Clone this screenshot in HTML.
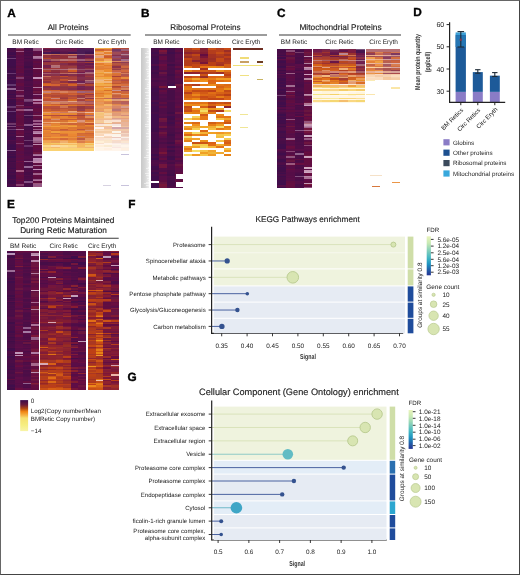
<!DOCTYPE html>
<html><head><meta charset="utf-8"><style>
*{margin:0;padding:0;box-sizing:border-box}
html,body{width:520px;height:575px;overflow:hidden;background:#fff}
body{position:relative;font-family:"Liberation Sans",sans-serif}
svg{position:absolute;left:0;top:0;will-change:transform}
svg text{font-family:"Liberation Sans",sans-serif;text-rendering:geometricPrecision}
.frame{position:absolute;left:0;top:0;width:520px;height:575px;border:1px solid #444;border-left-color:#666;border-top-color:#666}
</style></head><body>
<svg width="520" height="575" viewBox="0 0 520 575" font-family="Liberation Sans, sans-serif"><defs><filter id="hb" x="-2%" y="-2%" width="104%" height="104%"><feGaussianBlur stdDeviation="0.35 0.3"/></filter></defs><g shape-rendering="crispEdges" filter="url(#hb)"><path fill="#410a4b" d="M7.2 48.0h8.6v1.4h-8.6zM7.2 52.2h8.6v1.4h-8.6zM7.2 56.3h8.6v1.4h-8.6zM7.2 59.1h8.6v1.4h-8.6zM7.2 60.5h8.6v1.4h-8.6zM7.2 61.9h8.6v1.4h-8.6zM7.2 63.3h8.6v1.4h-8.6zM7.2 64.7h8.6v1.4h-8.6zM7.2 70.2h8.6v1.4h-8.6zM7.2 71.6h8.6v1.4h-8.6zM7.2 77.2h8.6v1.4h-8.6zM7.2 80.0h8.6v1.4h-8.6zM7.2 81.4h8.6v1.4h-8.6zM7.2 82.8h8.6v1.4h-8.6zM7.2 89.7h8.6v1.4h-8.6zM7.2 96.7h8.6v1.4h-8.6zM7.2 103.6h8.6v1.4h-8.6zM7.2 105.0h8.6v1.4h-8.6zM7.2 111.9h8.6v1.4h-8.6zM7.2 114.7h8.6v1.4h-8.6zM7.2 116.1h8.6v1.4h-8.6zM7.2 118.9h8.6v1.4h-8.6zM7.2 124.4h8.6v1.4h-8.6zM7.2 130.0h8.6v1.4h-8.6zM7.2 132.8h8.6v1.4h-8.6zM7.2 135.6h8.6v1.4h-8.6zM7.2 138.3h8.6v1.4h-8.6zM7.2 143.9h8.6v1.4h-8.6zM7.2 146.7h8.6v1.4h-8.6zM7.2 150.9h8.6v1.4h-8.6zM7.2 153.6h8.6v1.4h-8.6zM7.2 167.5h8.6v1.4h-8.6zM7.2 171.7h8.6v1.4h-8.6zM7.2 177.3h8.6v1.4h-8.6zM7.2 180.0h8.6v1.4h-8.6zM7.2 182.8h8.6v1.4h-8.6zM7.2 185.6h8.6v1.4h-8.6z"/>
<path fill="#460a46" d="M7.2 49.4h8.6v1.4h-8.6zM7.2 67.5h8.6v1.4h-8.6zM7.2 68.8h8.6v1.4h-8.6zM7.2 75.8h8.6v1.4h-8.6zM7.2 86.9h8.6v1.4h-8.6zM7.2 91.1h8.6v1.4h-8.6zM7.2 92.5h8.6v1.4h-8.6zM7.2 95.3h8.6v1.4h-8.6zM7.2 107.8h8.6v1.4h-8.6zM7.2 109.2h8.6v1.4h-8.6zM7.2 121.7h8.6v1.4h-8.6zM7.2 127.2h8.6v1.4h-8.6zM7.2 131.4h8.6v1.4h-8.6zM7.2 134.2h8.6v1.4h-8.6zM7.2 141.1h8.6v1.4h-8.6zM7.2 142.5h8.6v1.4h-8.6zM7.2 152.2h8.6v1.4h-8.6zM7.2 155.0h8.6v1.4h-8.6zM7.2 157.8h8.6v1.4h-8.6zM7.2 159.2h8.6v1.4h-8.6zM7.2 163.4h8.6v1.4h-8.6zM7.2 164.8h8.6v1.4h-8.6zM7.2 166.1h8.6v1.4h-8.6zM7.2 170.3h8.6v1.4h-8.6zM7.2 173.1h8.6v1.4h-8.6zM24.4 48.0h8.6v1.4h-8.6zM24.4 49.4h8.6v1.4h-8.6zM24.4 52.2h8.6v1.4h-8.6zM24.4 55.0h8.6v1.4h-8.6zM24.4 57.7h8.6v1.4h-8.6zM24.4 61.9h8.6v1.4h-8.6zM24.4 63.3h8.6v1.4h-8.6zM24.4 64.7h8.6v1.4h-8.6zM24.4 70.2h8.6v1.4h-8.6zM24.4 71.6h8.6v1.4h-8.6zM24.4 74.4h8.6v1.4h-8.6zM24.4 78.6h8.6v1.4h-8.6zM24.4 80.0h8.6v1.4h-8.6zM24.4 86.9h8.6v1.4h-8.6zM24.4 89.7h8.6v1.4h-8.6zM24.4 95.3h8.6v1.4h-8.6zM24.4 105.0h8.6v1.4h-8.6zM24.4 107.8h8.6v1.4h-8.6zM24.4 113.3h8.6v1.4h-8.6zM24.4 118.9h8.6v1.4h-8.6zM24.4 121.7h8.6v1.4h-8.6zM24.4 127.2h8.6v1.4h-8.6zM24.4 128.6h8.6v1.4h-8.6zM24.4 132.8h8.6v1.4h-8.6zM24.4 135.6h8.6v1.4h-8.6zM24.4 137.0h8.6v1.4h-8.6zM24.4 138.3h8.6v1.4h-8.6zM24.4 141.1h8.6v1.4h-8.6zM24.4 142.5h8.6v1.4h-8.6zM24.4 143.9h8.6v1.4h-8.6zM24.4 163.4h8.6v1.4h-8.6zM24.4 168.9h8.6v1.4h-8.6zM24.4 171.7h8.6v1.4h-8.6zM24.4 173.1h8.6v1.4h-8.6zM24.4 175.9h8.6v1.4h-8.6zM24.4 184.2h8.6v1.4h-8.6zM24.4 185.6h8.6v1.4h-8.6z"/>
<path fill="#4b0f46" d="M7.2 50.8h8.6v1.4h-8.6zM24.4 167.5h8.6v1.4h-8.6z"/>
<path fill="#3c0a4b" d="M7.2 53.6h8.6v1.4h-8.6zM7.2 93.9h8.6v1.4h-8.6zM7.2 100.8h8.6v1.4h-8.6zM7.2 120.3h8.6v1.4h-8.6zM7.2 145.3h8.6v1.4h-8.6zM7.2 148.1h8.6v1.4h-8.6zM7.2 156.4h8.6v1.4h-8.6z"/>
<path fill="#4b0a46" d="M7.2 55.0h8.6v1.4h-8.6zM7.2 78.6h8.6v1.4h-8.6zM7.2 162.0h8.6v1.4h-8.6zM7.2 168.9h8.6v1.4h-8.6zM7.2 178.7h8.6v1.4h-8.6zM7.2 184.2h8.6v1.4h-8.6zM24.4 53.6h8.6v1.4h-8.6zM24.4 60.5h8.6v1.4h-8.6zM24.4 67.5h8.6v1.4h-8.6zM24.4 73.0h8.6v1.4h-8.6zM24.4 77.2h8.6v1.4h-8.6zM24.4 84.1h8.6v1.4h-8.6zM24.4 88.3h8.6v1.4h-8.6zM24.4 91.1h8.6v1.4h-8.6zM24.4 92.5h8.6v1.4h-8.6zM24.4 93.9h8.6v1.4h-8.6zM24.4 96.7h8.6v1.4h-8.6zM24.4 98.0h8.6v1.4h-8.6zM24.4 102.2h8.6v1.4h-8.6zM24.4 117.5h8.6v1.4h-8.6zM24.4 120.3h8.6v1.4h-8.6zM24.4 123.1h8.6v1.4h-8.6zM24.4 130.0h8.6v1.4h-8.6zM24.4 134.2h8.6v1.4h-8.6zM24.4 146.7h8.6v1.4h-8.6zM24.4 148.1h8.6v1.4h-8.6zM24.4 152.2h8.6v1.4h-8.6zM24.4 164.8h8.6v1.4h-8.6zM24.4 177.3h8.6v1.4h-8.6zM24.4 182.8h8.6v1.4h-8.6z"/>
<path fill="#6e3c73" d="M7.2 57.7h8.6v1.4h-8.6z"/>
<path fill="#410a46" d="M7.2 66.1h8.6v1.4h-8.6zM7.2 74.4h8.6v1.4h-8.6zM7.2 85.5h8.6v1.4h-8.6zM7.2 99.4h8.6v1.4h-8.6zM7.2 102.2h8.6v1.4h-8.6zM7.2 113.3h8.6v1.4h-8.6zM7.2 117.5h8.6v1.4h-8.6zM7.2 137.0h8.6v1.4h-8.6zM7.2 160.6h8.6v1.4h-8.6zM7.2 174.5h8.6v1.4h-8.6zM7.2 175.9h8.6v1.4h-8.6zM7.2 181.4h8.6v1.4h-8.6zM24.4 66.1h8.6v1.4h-8.6zM24.4 116.1h8.6v1.4h-8.6zM24.4 125.8h8.6v1.4h-8.6zM24.4 180.0h8.6v1.4h-8.6z"/>
<path fill="#69376e" d="M7.2 73.0h8.6v1.4h-8.6zM7.2 106.4h8.6v1.4h-8.6zM7.2 128.6h8.6v1.4h-8.6z"/>
<path fill="#64376e" d="M7.2 84.1h8.6v1.4h-8.6z"/>
<path fill="#916491" d="M7.2 88.3h8.6v1.4h-8.6zM7.2 149.5h8.6v1.4h-8.6z"/>
<path fill="#550f46" d="M7.2 98.0h8.6v1.4h-8.6zM24.4 85.5h8.6v1.4h-8.6zM24.4 156.4h8.6v1.4h-8.6zM24.4 157.8h8.6v1.4h-8.6z"/>
<path fill="#693c73" d="M7.2 110.5h8.6v1.4h-8.6z"/>
<path fill="#6e3769" d="M7.2 123.1h8.6v1.4h-8.6zM24.4 100.8h8.6v1.4h-8.6z"/>
<path fill="#7d4678" d="M7.2 125.8h8.6v1.4h-8.6zM24.4 99.4h8.6v1.4h-8.6z"/>
<path fill="#500f46" d="M7.2 139.7h8.6v1.4h-8.6zM24.4 50.8h8.6v1.4h-8.6zM24.4 56.3h8.6v1.4h-8.6zM24.4 59.1h8.6v1.4h-8.6zM24.4 68.8h8.6v1.4h-8.6zM24.4 75.8h8.6v1.4h-8.6zM24.4 81.4h8.6v1.4h-8.6zM24.4 82.8h8.6v1.4h-8.6zM24.4 103.6h8.6v1.4h-8.6zM24.4 110.5h8.6v1.4h-8.6zM24.4 111.9h8.6v1.4h-8.6zM24.4 131.4h8.6v1.4h-8.6zM24.4 149.5h8.6v1.4h-8.6zM24.4 150.9h8.6v1.4h-8.6zM24.4 153.6h8.6v1.4h-8.6zM24.4 155.0h8.6v1.4h-8.6zM24.4 159.2h8.6v1.4h-8.6zM24.4 162.0h8.6v1.4h-8.6zM24.4 170.3h8.6v1.4h-8.6zM24.4 174.5h8.6v1.4h-8.6zM24.4 178.7h8.6v1.4h-8.6z"/>
<path fill="#82416e" d="M15.8 48.0h8.6v1.4h-8.6z"/>
<path fill="#691441" d="M15.8 49.4h8.6v1.4h-8.6zM15.8 75.8h8.6v1.4h-8.6zM15.8 106.4h8.6v1.4h-8.6zM15.8 124.4h8.6v1.4h-8.6z"/>
<path fill="#9b5a87" d="M15.8 50.8h8.6v1.4h-8.6zM33.0 120.3h8.6v1.4h-8.6zM33.0 128.6h8.6v1.4h-8.6z"/>
<path fill="#5f0f41" d="M15.8 52.2h8.6v1.4h-8.6zM15.8 53.6h8.6v1.4h-8.6zM15.8 66.1h8.6v1.4h-8.6zM15.8 68.8h8.6v1.4h-8.6zM15.8 70.2h8.6v1.4h-8.6zM15.8 78.6h8.6v1.4h-8.6zM15.8 96.7h8.6v1.4h-8.6zM15.8 99.4h8.6v1.4h-8.6zM15.8 103.6h8.6v1.4h-8.6zM15.8 111.9h8.6v1.4h-8.6zM15.8 117.5h8.6v1.4h-8.6zM15.8 118.9h8.6v1.4h-8.6zM15.8 120.3h8.6v1.4h-8.6zM15.8 121.7h8.6v1.4h-8.6zM15.8 134.2h8.6v1.4h-8.6zM15.8 141.1h8.6v1.4h-8.6zM15.8 148.1h8.6v1.4h-8.6zM15.8 149.5h8.6v1.4h-8.6zM15.8 153.6h8.6v1.4h-8.6zM15.8 157.8h8.6v1.4h-8.6zM15.8 163.4h8.6v1.4h-8.6zM15.8 164.8h8.6v1.4h-8.6zM15.8 166.1h8.6v1.4h-8.6zM15.8 167.5h8.6v1.4h-8.6zM15.8 168.9h8.6v1.4h-8.6zM15.8 177.3h8.6v1.4h-8.6zM33.0 53.6h8.6v1.4h-8.6zM33.0 55.0h8.6v1.4h-8.6zM33.0 60.5h8.6v1.4h-8.6zM33.0 64.7h8.6v1.4h-8.6zM33.0 66.1h8.6v1.4h-8.6zM33.0 70.2h8.6v1.4h-8.6zM33.0 71.6h8.6v1.4h-8.6zM33.0 74.4h8.6v1.4h-8.6zM33.0 75.8h8.6v1.4h-8.6zM33.0 84.1h8.6v1.4h-8.6zM33.0 89.7h8.6v1.4h-8.6zM33.0 92.5h8.6v1.4h-8.6zM33.0 96.7h8.6v1.4h-8.6zM33.0 117.5h8.6v1.4h-8.6zM33.0 127.2h8.6v1.4h-8.6zM33.0 130.0h8.6v1.4h-8.6zM33.0 135.6h8.6v1.4h-8.6zM33.0 142.5h8.6v1.4h-8.6zM33.0 150.9h8.6v1.4h-8.6zM33.0 163.4h8.6v1.4h-8.6zM33.0 171.7h8.6v1.4h-8.6zM33.0 177.3h8.6v1.4h-8.6zM33.0 181.4h8.6v1.4h-8.6z"/>
<path fill="#5a0f46" d="M15.8 55.0h8.6v1.4h-8.6zM15.8 56.3h8.6v1.4h-8.6zM15.8 59.1h8.6v1.4h-8.6zM15.8 61.9h8.6v1.4h-8.6zM15.8 64.7h8.6v1.4h-8.6zM15.8 67.5h8.6v1.4h-8.6zM15.8 73.0h8.6v1.4h-8.6zM15.8 74.4h8.6v1.4h-8.6zM15.8 80.0h8.6v1.4h-8.6zM15.8 81.4h8.6v1.4h-8.6zM15.8 85.5h8.6v1.4h-8.6zM15.8 86.9h8.6v1.4h-8.6zM15.8 88.3h8.6v1.4h-8.6zM15.8 93.9h8.6v1.4h-8.6zM15.8 100.8h8.6v1.4h-8.6zM15.8 107.8h8.6v1.4h-8.6zM15.8 125.8h8.6v1.4h-8.6zM15.8 137.0h8.6v1.4h-8.6zM15.8 139.7h8.6v1.4h-8.6zM15.8 145.3h8.6v1.4h-8.6zM15.8 146.7h8.6v1.4h-8.6zM15.8 150.9h8.6v1.4h-8.6zM15.8 152.2h8.6v1.4h-8.6zM15.8 155.0h8.6v1.4h-8.6zM15.8 156.4h8.6v1.4h-8.6zM15.8 159.2h8.6v1.4h-8.6zM15.8 162.0h8.6v1.4h-8.6zM15.8 178.7h8.6v1.4h-8.6zM15.8 181.4h8.6v1.4h-8.6zM15.8 185.6h8.6v1.4h-8.6zM33.0 52.2h8.6v1.4h-8.6zM33.0 59.1h8.6v1.4h-8.6zM33.0 63.3h8.6v1.4h-8.6zM33.0 73.0h8.6v1.4h-8.6zM33.0 95.3h8.6v1.4h-8.6zM33.0 106.4h8.6v1.4h-8.6zM33.0 111.9h8.6v1.4h-8.6zM33.0 118.9h8.6v1.4h-8.6zM33.0 121.7h8.6v1.4h-8.6zM33.0 124.4h8.6v1.4h-8.6zM33.0 156.4h8.6v1.4h-8.6zM33.0 167.5h8.6v1.4h-8.6zM33.0 170.3h8.6v1.4h-8.6z"/>
<path fill="#5f0f46" d="M15.8 57.7h8.6v1.4h-8.6zM15.8 60.5h8.6v1.4h-8.6zM15.8 63.3h8.6v1.4h-8.6zM15.8 92.5h8.6v1.4h-8.6zM15.8 113.3h8.6v1.4h-8.6zM15.8 130.0h8.6v1.4h-8.6zM15.8 138.3h8.6v1.4h-8.6zM15.8 173.1h8.6v1.4h-8.6zM15.8 182.8h8.6v1.4h-8.6zM24.4 106.4h8.6v1.4h-8.6zM33.0 50.8h8.6v1.4h-8.6zM33.0 81.4h8.6v1.4h-8.6zM33.0 82.8h8.6v1.4h-8.6zM33.0 105.0h8.6v1.4h-8.6zM33.0 148.1h8.6v1.4h-8.6z"/>
<path fill="#640f41" d="M15.8 71.6h8.6v1.4h-8.6zM15.8 82.8h8.6v1.4h-8.6zM15.8 84.1h8.6v1.4h-8.6zM15.8 91.1h8.6v1.4h-8.6zM15.8 102.2h8.6v1.4h-8.6zM15.8 110.5h8.6v1.4h-8.6zM15.8 114.7h8.6v1.4h-8.6zM15.8 116.1h8.6v1.4h-8.6zM15.8 123.1h8.6v1.4h-8.6zM15.8 127.2h8.6v1.4h-8.6zM15.8 131.4h8.6v1.4h-8.6zM15.8 143.9h8.6v1.4h-8.6zM15.8 171.7h8.6v1.4h-8.6zM15.8 174.5h8.6v1.4h-8.6zM15.8 175.9h8.6v1.4h-8.6zM33.0 61.9h8.6v1.4h-8.6zM33.0 68.8h8.6v1.4h-8.6zM33.0 78.6h8.6v1.4h-8.6zM33.0 80.0h8.6v1.4h-8.6zM33.0 85.5h8.6v1.4h-8.6zM33.0 98.0h8.6v1.4h-8.6zM33.0 103.6h8.6v1.4h-8.6zM33.0 107.8h8.6v1.4h-8.6zM33.0 109.2h8.6v1.4h-8.6zM33.0 110.5h8.6v1.4h-8.6zM33.0 113.3h8.6v1.4h-8.6zM33.0 116.1h8.6v1.4h-8.6zM33.0 134.2h8.6v1.4h-8.6zM33.0 145.3h8.6v1.4h-8.6zM33.0 146.7h8.6v1.4h-8.6zM33.0 149.5h8.6v1.4h-8.6zM33.0 166.1h8.6v1.4h-8.6zM33.0 174.5h8.6v1.4h-8.6zM33.0 175.9h8.6v1.4h-8.6z"/>
<path fill="#823c6e" d="M15.8 77.2h8.6v1.4h-8.6zM15.8 95.3h8.6v1.4h-8.6zM15.8 105.0h8.6v1.4h-8.6z"/>
<path fill="#8c4b78" d="M15.8 89.7h8.6v1.4h-8.6z"/>
<path fill="#6e143c" d="M15.8 98.0h8.6v1.4h-8.6z"/>
<path fill="#964b73" d="M15.8 109.2h8.6v1.4h-8.6z"/>
<path fill="#a0648c" d="M15.8 128.6h8.6v1.4h-8.6zM33.0 173.1h8.6v1.4h-8.6z"/>
<path fill="#690f41" d="M15.8 132.8h8.6v1.4h-8.6zM15.8 160.6h8.6v1.4h-8.6zM15.8 180.0h8.6v1.4h-8.6zM33.0 88.3h8.6v1.4h-8.6zM33.0 100.8h8.6v1.4h-8.6z"/>
<path fill="#a56991" d="M15.8 135.6h8.6v1.4h-8.6z"/>
<path fill="#7d3769" d="M15.8 142.5h8.6v1.4h-8.6z"/>
<path fill="#aa6487" d="M15.8 170.3h8.6v1.4h-8.6zM33.0 137.0h8.6v1.4h-8.6z"/>
<path fill="#87416e" d="M15.8 184.2h8.6v1.4h-8.6z"/>
<path fill="#966491" d="M24.4 109.2h8.6v1.4h-8.6zM24.4 160.6h8.6v1.4h-8.6z"/>
<path fill="#6e3c6e" d="M24.4 114.7h8.6v1.4h-8.6zM24.4 139.7h8.6v1.4h-8.6z"/>
<path fill="#8c5587" d="M24.4 124.4h8.6v1.4h-8.6z"/>
<path fill="#693269" d="M24.4 145.3h8.6v1.4h-8.6z"/>
<path fill="#966996" d="M24.4 166.1h8.6v1.4h-8.6z"/>
<path fill="#825082" d="M24.4 181.4h8.6v1.4h-8.6z"/>
<path fill="#965582" d="M33.0 48.0h8.6v1.4h-8.6z"/>
<path fill="#91507d" d="M33.0 49.4h8.6v1.4h-8.6z"/>
<path fill="#af78a0" d="M33.0 56.3h8.6v1.4h-8.6zM33.0 86.9h8.6v1.4h-8.6zM33.0 131.4h8.6v1.4h-8.6zM33.0 155.0h8.6v1.4h-8.6z"/>
<path fill="#a06491" d="M33.0 57.7h8.6v1.4h-8.6zM33.0 93.9h8.6v1.4h-8.6z"/>
<path fill="#b982aa" d="M33.0 67.5h8.6v1.4h-8.6z"/>
<path fill="#c391b9" d="M33.0 77.2h8.6v1.4h-8.6zM33.0 168.9h8.6v1.4h-8.6z"/>
<path fill="#6e1441" d="M33.0 91.1h8.6v1.4h-8.6zM33.0 152.2h8.6v1.4h-8.6z"/>
<path fill="#b987af" d="M33.0 99.4h8.6v1.4h-8.6z"/>
<path fill="#aa6996" d="M33.0 102.2h8.6v1.4h-8.6z"/>
<path fill="#9b5f87" d="M33.0 114.7h8.6v1.4h-8.6z"/>
<path fill="#a05f8c" d="M33.0 123.1h8.6v1.4h-8.6z"/>
<path fill="#c391b4" d="M33.0 125.8h8.6v1.4h-8.6z"/>
<path fill="#be91b4" d="M33.0 132.8h8.6v1.4h-8.6z"/>
<path fill="#af739b" d="M33.0 138.3h8.6v1.4h-8.6zM33.0 180.0h8.6v1.4h-8.6z"/>
<path fill="#a56e96" d="M33.0 139.7h8.6v1.4h-8.6zM33.0 164.8h8.6v1.4h-8.6z"/>
<path fill="#965a82" d="M33.0 141.1h8.6v1.4h-8.6z"/>
<path fill="#be8caf" d="M33.0 143.9h8.6v1.4h-8.6z"/>
<path fill="#a06991" d="M33.0 153.6h8.6v1.4h-8.6z"/>
<path fill="#be8cb4" d="M33.0 157.8h8.6v1.4h-8.6z"/>
<path fill="#b482aa" d="M33.0 159.2h8.6v1.4h-8.6z"/>
<path fill="#be87af" d="M33.0 160.6h8.6v1.4h-8.6z"/>
<path fill="#c38caf" d="M33.0 162.0h8.6v1.4h-8.6z"/>
<path fill="#965a87" d="M33.0 178.7h8.6v1.4h-8.6zM33.0 184.2h8.6v1.4h-8.6z"/>
<path fill="#9b5578" d="M33.0 182.8h8.6v1.4h-8.6z"/>
<path fill="#9b5a82" d="M33.0 185.6h8.6v1.4h-8.6z"/>
<path fill="#7d2341" d="M42.8 48.0h8.5v1.4h-8.5zM68.3 63.3h8.5v1.4h-8.5z"/>
<path fill="#5a144b" d="M42.8 49.4h8.5v1.4h-8.5z"/>
<path fill="#731e46" d="M42.8 50.8h8.5v1.4h-8.5z"/>
<path fill="#461955" d="M42.8 52.2h8.5v1.4h-8.5zM85.4 50.8h8.5v1.4h-8.5z"/>
<path fill="#be786e" d="M42.8 53.6h8.5v1.4h-8.5z"/>
<path fill="#963232" d="M42.8 55.0h8.5v1.4h-8.5zM51.3 57.7h8.5v1.4h-8.5z"/>
<path fill="#913241" d="M42.8 56.3h8.5v1.4h-8.5zM42.8 81.4h8.5v1.4h-8.5zM59.8 64.7h8.5v1.4h-8.5zM59.8 81.4h8.5v1.4h-8.5zM59.8 88.3h8.5v1.4h-8.5zM68.3 86.9h8.5v1.4h-8.5z"/>
<path fill="#b44628" d="M42.8 57.7h8.5v1.4h-8.5z"/>
<path fill="#914664" d="M42.8 59.1h8.5v1.4h-8.5z"/>
<path fill="#69194b" d="M42.8 60.5h8.5v1.4h-8.5zM59.8 48.0h8.5v1.4h-8.5zM68.3 49.4h8.5v1.4h-8.5z"/>
<path fill="#96323c" d="M42.8 61.9h8.5v1.4h-8.5z"/>
<path fill="#96373c" d="M42.8 63.3h8.5v1.4h-8.5zM42.8 88.3h8.5v1.4h-8.5z"/>
<path fill="#732350" d="M42.8 64.7h8.5v1.4h-8.5zM76.9 85.5h8.5v1.4h-8.5zM76.9 88.3h8.5v1.4h-8.5z"/>
<path fill="#78234b" d="M42.8 66.1h8.5v1.4h-8.5zM51.3 48.0h8.5v1.4h-8.5zM76.9 67.5h8.5v1.4h-8.5z"/>
<path fill="#9b3237" d="M42.8 67.5h8.5v1.4h-8.5z"/>
<path fill="#a55f69" d="M42.8 68.8h8.5v1.4h-8.5zM85.4 91.1h8.5v1.4h-8.5z"/>
<path fill="#aa4132" d="M42.8 70.2h8.5v1.4h-8.5z"/>
<path fill="#822846" d="M42.8 71.6h8.5v1.4h-8.5z"/>
<path fill="#aa5f69" d="M42.8 73.0h8.5v1.4h-8.5z"/>
<path fill="#872d4b" d="M42.8 74.4h8.5v1.4h-8.5zM42.8 86.9h8.5v1.4h-8.5zM76.9 70.2h8.5v1.4h-8.5zM112.2 55.0h8.5v1.4h-8.5z"/>
<path fill="#c36e5a" d="M42.8 75.8h8.5v1.4h-8.5z"/>
<path fill="#a03c41" d="M42.8 77.2h8.5v1.4h-8.5z"/>
<path fill="#963237" d="M42.8 78.6h8.5v1.4h-8.5z"/>
<path fill="#aa4137" d="M42.8 80.0h8.5v1.4h-8.5zM59.8 84.1h8.5v1.4h-8.5zM59.8 96.7h8.5v1.4h-8.5zM68.3 78.6h8.5v1.4h-8.5zM112.2 75.8h8.5v1.4h-8.5z"/>
<path fill="#cd5a28" d="M42.8 82.8h8.5v1.4h-8.5zM68.3 70.2h8.5v1.4h-8.5z"/>
<path fill="#d76928" d="M42.8 84.1h8.5v1.4h-8.5z"/>
<path fill="#872d46" d="M42.8 85.5h8.5v1.4h-8.5zM120.8 57.7h8.5v1.4h-8.5z"/>
<path fill="#d2642d" d="M42.8 89.7h8.5v1.4h-8.5zM51.3 89.7h8.5v1.4h-8.5zM112.2 91.1h8.5v1.4h-8.5z"/>
<path fill="#c88278" d="M42.8 91.1h8.5v1.4h-8.5z"/>
<path fill="#dc732d" d="M42.8 92.5h8.5v1.4h-8.5zM76.9 127.2h8.5v1.4h-8.5z"/>
<path fill="#b95032" d="M42.8 93.9h8.5v1.4h-8.5zM76.9 92.5h8.5v1.4h-8.5z"/>
<path fill="#b95037" d="M42.8 95.3h8.5v1.4h-8.5zM42.8 114.7h8.5v1.4h-8.5zM59.8 99.4h8.5v1.4h-8.5zM59.8 107.8h8.5v1.4h-8.5zM68.3 98.0h8.5v1.4h-8.5zM76.9 103.6h8.5v1.4h-8.5z"/>
<path fill="#d76932" d="M42.8 96.7h8.5v1.4h-8.5zM120.8 92.5h8.5v1.4h-8.5z"/>
<path fill="#c35a37" d="M42.8 98.0h8.5v1.4h-8.5zM68.3 118.9h8.5v1.4h-8.5zM76.9 113.3h8.5v1.4h-8.5zM85.4 109.2h8.5v1.4h-8.5z"/>
<path fill="#be5032" d="M42.8 99.4h8.5v1.4h-8.5zM42.8 107.8h8.5v1.4h-8.5zM59.8 80.0h8.5v1.4h-8.5zM59.8 93.9h8.5v1.4h-8.5zM112.2 86.9h8.5v1.4h-8.5z"/>
<path fill="#cd8773" d="M42.8 100.8h8.5v1.4h-8.5z"/>
<path fill="#d27d5a" d="M42.8 102.2h8.5v1.4h-8.5z"/>
<path fill="#d76e2d" d="M42.8 103.6h8.5v1.4h-8.5zM42.8 110.5h8.5v1.4h-8.5z"/>
<path fill="#e68228" d="M42.8 105.0h8.5v1.4h-8.5z"/>
<path fill="#b9503c" d="M42.8 106.4h8.5v1.4h-8.5zM51.3 106.4h8.5v1.4h-8.5z"/>
<path fill="#cd5f2d" d="M42.8 109.2h8.5v1.4h-8.5zM51.3 103.6h8.5v1.4h-8.5zM59.8 92.5h8.5v1.4h-8.5z"/>
<path fill="#e69b69" d="M42.8 111.9h8.5v1.4h-8.5zM95.2 107.8h8.5v1.4h-8.5z"/>
<path fill="#eb9132" d="M42.8 113.3h8.5v1.4h-8.5zM68.3 124.4h8.5v1.4h-8.5zM95.2 89.7h8.5v1.4h-8.5zM103.7 82.8h8.5v1.4h-8.5z"/>
<path fill="#eb9137" d="M42.8 116.1h8.5v1.4h-8.5zM59.8 125.8h8.5v1.4h-8.5zM59.8 131.4h8.5v1.4h-8.5zM68.3 131.4h8.5v1.4h-8.5zM76.9 131.4h8.5v1.4h-8.5zM95.2 57.7h8.5v1.4h-8.5z"/>
<path fill="#e17d32" d="M42.8 117.5h8.5v1.4h-8.5zM42.8 127.2h8.5v1.4h-8.5zM51.3 110.5h8.5v1.4h-8.5zM59.8 105.0h8.5v1.4h-8.5zM103.7 67.5h8.5v1.4h-8.5z"/>
<path fill="#c85f3c" d="M42.8 118.9h8.5v1.4h-8.5z"/>
<path fill="#d76e37" d="M42.8 120.3h8.5v1.4h-8.5zM59.8 134.2h8.5v1.4h-8.5zM68.3 130.0h8.5v1.4h-8.5zM103.7 49.4h8.5v1.4h-8.5zM112.2 74.4h8.5v1.4h-8.5z"/>
<path fill="#eba578" d="M42.8 121.7h8.5v1.4h-8.5z"/>
<path fill="#dc7332" d="M42.8 123.1h8.5v1.4h-8.5zM51.3 116.1h8.5v1.4h-8.5z"/>
<path fill="#e18c5a" d="M42.8 124.4h8.5v1.4h-8.5zM76.9 139.7h8.5v1.4h-8.5zM85.4 116.1h8.5v1.4h-8.5z"/>
<path fill="#f09b3c" d="M42.8 125.8h8.5v1.4h-8.5zM51.3 137.0h8.5v1.4h-8.5zM59.8 137.0h8.5v1.4h-8.5z"/>
<path fill="#d26e3c" d="M42.8 128.6h8.5v1.4h-8.5zM120.8 96.7h8.5v1.4h-8.5z"/>
<path fill="#eb8c37" d="M42.8 130.0h8.5v1.4h-8.5zM68.3 132.8h8.5v1.4h-8.5zM95.2 75.8h8.5v1.4h-8.5z"/>
<path fill="#e68232" d="M42.8 131.4h8.5v1.4h-8.5zM42.8 134.2h8.5v1.4h-8.5zM51.3 113.3h8.5v1.4h-8.5zM51.3 127.2h8.5v1.4h-8.5zM59.8 116.1h8.5v1.4h-8.5zM59.8 132.8h8.5v1.4h-8.5zM68.3 135.6h8.5v1.4h-8.5zM95.2 53.6h8.5v1.4h-8.5zM103.7 52.2h8.5v1.4h-8.5z"/>
<path fill="#e17d37" d="M42.8 132.8h8.5v1.4h-8.5zM51.3 123.1h8.5v1.4h-8.5zM59.8 117.5h8.5v1.4h-8.5zM68.3 138.3h8.5v1.4h-8.5zM85.4 131.4h8.5v1.4h-8.5zM95.2 67.5h8.5v1.4h-8.5z"/>
<path fill="#dc7837" d="M42.8 135.6h8.5v1.4h-8.5zM76.9 130.0h8.5v1.4h-8.5zM95.2 98.0h8.5v1.4h-8.5z"/>
<path fill="#eb963c" d="M42.8 137.0h8.5v1.4h-8.5zM59.8 124.4h8.5v1.4h-8.5zM103.7 80.0h8.5v1.4h-8.5z"/>
<path fill="#e17832" d="M42.8 138.3h8.5v1.4h-8.5zM51.3 138.3h8.5v1.4h-8.5zM68.3 128.6h8.5v1.4h-8.5zM85.4 113.3h8.5v1.4h-8.5z"/>
<path fill="#f0a04b" d="M42.8 139.7h8.5v1.4h-8.5z"/>
<path fill="#f0a555" d="M42.8 141.1h8.5v1.4h-8.5z"/>
<path fill="#f5be5a" d="M42.8 142.5h8.5v1.4h-8.5z"/>
<path fill="#f5b95a" d="M42.8 143.9h8.5v1.4h-8.5z"/>
<path fill="#fad787" d="M42.8 145.3h8.5v1.4h-8.5z"/>
<path fill="#f5c378" d="M42.8 146.7h8.5v1.4h-8.5zM95.2 113.3h8.5v1.4h-8.5z"/>
<path fill="#fad273" d="M42.8 148.1h8.5v1.4h-8.5zM42.8 149.5h8.5v1.4h-8.5zM51.3 148.1h8.5v1.4h-8.5zM51.3 149.5h8.5v1.4h-8.5zM59.8 148.1h8.5v1.4h-8.5zM59.8 149.5h8.5v1.4h-8.5zM68.3 148.1h8.5v1.4h-8.5zM68.3 149.5h8.5v1.4h-8.5zM76.9 148.1h8.5v1.4h-8.5zM76.9 149.5h8.5v1.4h-8.5zM85.4 148.1h8.5v1.4h-8.5zM85.4 149.5h8.5v1.4h-8.5z"/>
<path fill="#5f194b" d="M51.3 49.4h8.5v1.4h-8.5zM59.8 50.8h8.5v1.4h-8.5z"/>
<path fill="#55194b" d="M51.3 50.8h8.5v1.4h-8.5z"/>
<path fill="#411450" d="M51.3 52.2h8.5v1.4h-8.5zM85.4 52.2h8.5v1.4h-8.5z"/>
<path fill="#c36950" d="M51.3 53.6h8.5v1.4h-8.5z"/>
<path fill="#822841" d="M51.3 55.0h8.5v1.4h-8.5z"/>
<path fill="#8c2d41" d="M51.3 56.3h8.5v1.4h-8.5zM68.3 64.7h8.5v1.4h-8.5z"/>
<path fill="#aa5f64" d="M51.3 59.1h8.5v1.4h-8.5z"/>
<path fill="#7d2846" d="M51.3 60.5h8.5v1.4h-8.5zM76.9 75.8h8.5v1.4h-8.5zM76.9 80.0h8.5v1.4h-8.5z"/>
<path fill="#9b3737" d="M51.3 61.9h8.5v1.4h-8.5zM59.8 71.6h8.5v1.4h-8.5z"/>
<path fill="#963741" d="M51.3 63.3h8.5v1.4h-8.5zM59.8 66.1h8.5v1.4h-8.5zM76.9 106.4h8.5v1.4h-8.5zM76.9 107.8h8.5v1.4h-8.5z"/>
<path fill="#b97373" d="M51.3 64.7h8.5v1.4h-8.5zM59.8 59.1h8.5v1.4h-8.5zM112.2 109.2h8.5v1.4h-8.5z"/>
<path fill="#af6e78" d="M51.3 66.1h8.5v1.4h-8.5z"/>
<path fill="#a03737" d="M51.3 67.5h8.5v1.4h-8.5zM68.3 75.8h8.5v1.4h-8.5z"/>
<path fill="#af6973" d="M51.3 68.8h8.5v1.4h-8.5zM85.4 73.0h8.5v1.4h-8.5z"/>
<path fill="#8c2d3c" d="M51.3 70.2h8.5v1.4h-8.5z"/>
<path fill="#872841" d="M51.3 71.6h8.5v1.4h-8.5z"/>
<path fill="#964b64" d="M51.3 73.0h8.5v1.4h-8.5z"/>
<path fill="#87324b" d="M51.3 74.4h8.5v1.4h-8.5z"/>
<path fill="#a53c37" d="M51.3 75.8h8.5v1.4h-8.5z"/>
<path fill="#9b373c" d="M51.3 77.2h8.5v1.4h-8.5zM51.3 85.5h8.5v1.4h-8.5zM59.8 67.5h8.5v1.4h-8.5zM59.8 70.2h8.5v1.4h-8.5zM68.3 57.7h8.5v1.4h-8.5zM76.9 95.3h8.5v1.4h-8.5zM85.4 75.8h8.5v1.4h-8.5zM85.4 93.9h8.5v1.4h-8.5z"/>
<path fill="#a03c3c" d="M51.3 78.6h8.5v1.4h-8.5zM76.9 84.1h8.5v1.4h-8.5z"/>
<path fill="#a54137" d="M51.3 80.0h8.5v1.4h-8.5z"/>
<path fill="#af4b37" d="M51.3 81.4h8.5v1.4h-8.5z"/>
<path fill="#af4637" d="M51.3 82.8h8.5v1.4h-8.5zM51.3 95.3h8.5v1.4h-8.5zM85.4 89.7h8.5v1.4h-8.5zM85.4 103.6h8.5v1.4h-8.5zM112.2 64.7h8.5v1.4h-8.5z"/>
<path fill="#d26432" d="M51.3 84.1h8.5v1.4h-8.5zM68.3 93.9h8.5v1.4h-8.5zM85.4 105.0h8.5v1.4h-8.5zM85.4 110.5h8.5v1.4h-8.5z"/>
<path fill="#8c3246" d="M51.3 86.9h8.5v1.4h-8.5zM85.4 74.4h8.5v1.4h-8.5zM112.2 66.1h8.5v1.4h-8.5z"/>
<path fill="#873250" d="M51.3 88.3h8.5v1.4h-8.5z"/>
<path fill="#cd735a" d="M51.3 91.1h8.5v1.4h-8.5z"/>
<path fill="#be502d" d="M51.3 92.5h8.5v1.4h-8.5z"/>
<path fill="#be5537" d="M51.3 93.9h8.5v1.4h-8.5zM51.3 109.2h8.5v1.4h-8.5zM120.8 78.6h8.5v1.4h-8.5z"/>
<path fill="#c8552d" d="M51.3 96.7h8.5v1.4h-8.5zM59.8 82.8h8.5v1.4h-8.5z"/>
<path fill="#c8877d" d="M51.3 98.0h8.5v1.4h-8.5z"/>
<path fill="#c85532" d="M51.3 99.4h8.5v1.4h-8.5z"/>
<path fill="#c37873" d="M51.3 100.8h8.5v1.4h-8.5z"/>
<path fill="#dc8c64" d="M51.3 102.2h8.5v1.4h-8.5z"/>
<path fill="#e1782d" d="M51.3 105.0h8.5v1.4h-8.5zM85.4 125.8h8.5v1.4h-8.5z"/>
<path fill="#b44b37" d="M51.3 107.8h8.5v1.4h-8.5zM59.8 89.7h8.5v1.4h-8.5zM120.8 48.0h8.5v1.4h-8.5z"/>
<path fill="#d2826e" d="M51.3 111.9h8.5v1.4h-8.5zM112.2 71.6h8.5v1.4h-8.5z"/>
<path fill="#b44b3c" d="M51.3 114.7h8.5v1.4h-8.5zM85.4 95.3h8.5v1.4h-8.5z"/>
<path fill="#e68737" d="M51.3 117.5h8.5v1.4h-8.5zM95.2 93.9h8.5v1.4h-8.5zM103.7 85.5h8.5v1.4h-8.5z"/>
<path fill="#d78c6e" d="M51.3 118.9h8.5v1.4h-8.5z"/>
<path fill="#d77337" d="M51.3 120.3h8.5v1.4h-8.5zM85.4 128.6h8.5v1.4h-8.5zM85.4 137.0h8.5v1.4h-8.5z"/>
<path fill="#f5b978" d="M51.3 121.7h8.5v1.4h-8.5zM103.7 78.6h8.5v1.4h-8.5zM103.7 109.2h8.5v1.4h-8.5z"/>
<path fill="#e68732" d="M51.3 124.4h8.5v1.4h-8.5zM59.8 127.2h8.5v1.4h-8.5zM59.8 135.6h8.5v1.4h-8.5zM68.3 113.3h8.5v1.4h-8.5zM85.4 124.4h8.5v1.4h-8.5zM95.2 95.3h8.5v1.4h-8.5zM103.7 74.4h8.5v1.4h-8.5z"/>
<path fill="#f0a03c" d="M51.3 125.8h8.5v1.4h-8.5zM51.3 131.4h8.5v1.4h-8.5z"/>
<path fill="#dc7832" d="M51.3 128.6h8.5v1.4h-8.5zM68.3 127.2h8.5v1.4h-8.5zM76.9 125.8h8.5v1.4h-8.5zM76.9 137.0h8.5v1.4h-8.5zM85.4 120.3h8.5v1.4h-8.5zM112.2 73.0h8.5v1.4h-8.5z"/>
<path fill="#d76e32" d="M51.3 130.0h8.5v1.4h-8.5zM76.9 124.4h8.5v1.4h-8.5zM76.9 134.2h8.5v1.4h-8.5zM85.4 134.2h8.5v1.4h-8.5zM103.7 55.0h8.5v1.4h-8.5zM112.2 77.2h8.5v1.4h-8.5zM120.8 95.3h8.5v1.4h-8.5z"/>
<path fill="#d26e37" d="M51.3 132.8h8.5v1.4h-8.5zM59.8 123.1h8.5v1.4h-8.5zM85.4 127.2h8.5v1.4h-8.5z"/>
<path fill="#e68237" d="M51.3 134.2h8.5v1.4h-8.5z"/>
<path fill="#eb8732" d="M51.3 135.6h8.5v1.4h-8.5zM68.3 134.2h8.5v1.4h-8.5z"/>
<path fill="#f0a046" d="M51.3 139.7h8.5v1.4h-8.5zM68.3 141.1h8.5v1.4h-8.5zM95.2 74.4h8.5v1.4h-8.5zM103.7 73.0h8.5v1.4h-8.5z"/>
<path fill="#eb9b55" d="M51.3 141.1h8.5v1.4h-8.5z"/>
<path fill="#f5c864" d="M51.3 142.5h8.5v1.4h-8.5z"/>
<path fill="#f5b45a" d="M51.3 143.9h8.5v1.4h-8.5z"/>
<path fill="#fadcaa" d="M51.3 145.3h8.5v1.4h-8.5z"/>
<path fill="#f5b96e" d="M51.3 146.7h8.5v1.4h-8.5zM76.9 146.7h8.5v1.4h-8.5z"/>
<path fill="#641e50" d="M59.8 49.4h8.5v1.4h-8.5zM76.9 56.3h8.5v1.4h-8.5zM85.4 63.3h8.5v1.4h-8.5z"/>
<path fill="#55144b" d="M59.8 52.2h8.5v1.4h-8.5z"/>
<path fill="#b45f5f" d="M59.8 53.6h8.5v1.4h-8.5zM120.8 102.2h8.5v1.4h-8.5z"/>
<path fill="#91323c" d="M59.8 55.0h8.5v1.4h-8.5zM68.3 55.0h8.5v1.4h-8.5z"/>
<path fill="#912d37" d="M59.8 56.3h8.5v1.4h-8.5zM59.8 57.7h8.5v1.4h-8.5z"/>
<path fill="#912d3c" d="M59.8 60.5h8.5v1.4h-8.5z"/>
<path fill="#a53732" d="M59.8 61.9h8.5v1.4h-8.5zM68.3 61.9h8.5v1.4h-8.5z"/>
<path fill="#822d4b" d="M59.8 63.3h8.5v1.4h-8.5zM68.3 74.4h8.5v1.4h-8.5zM68.3 88.3h8.5v1.4h-8.5zM85.4 78.6h8.5v1.4h-8.5zM85.4 85.5h8.5v1.4h-8.5z"/>
<path fill="#af6e7d" d="M59.8 68.8h8.5v1.4h-8.5zM76.9 82.8h8.5v1.4h-8.5z"/>
<path fill="#b96964" d="M59.8 73.0h8.5v1.4h-8.5z"/>
<path fill="#7d284b" d="M59.8 74.4h8.5v1.4h-8.5zM85.4 86.9h8.5v1.4h-8.5zM85.4 88.3h8.5v1.4h-8.5z"/>
<path fill="#c35028" d="M59.8 75.8h8.5v1.4h-8.5z"/>
<path fill="#9b3c41" d="M59.8 77.2h8.5v1.4h-8.5zM59.8 98.0h8.5v1.4h-8.5z"/>
<path fill="#c3552d" d="M59.8 78.6h8.5v1.4h-8.5z"/>
<path fill="#913741" d="M59.8 85.5h8.5v1.4h-8.5z"/>
<path fill="#8c3241" d="M59.8 86.9h8.5v1.4h-8.5zM68.3 71.6h8.5v1.4h-8.5z"/>
<path fill="#d7825f" d="M59.8 91.1h8.5v1.4h-8.5z"/>
<path fill="#b44632" d="M59.8 95.3h8.5v1.4h-8.5z"/>
<path fill="#cd8273" d="M59.8 100.8h8.5v1.4h-8.5z"/>
<path fill="#cd7d5f" d="M59.8 102.2h8.5v1.4h-8.5z"/>
<path fill="#af463c" d="M59.8 103.6h8.5v1.4h-8.5z"/>
<path fill="#cd7355" d="M59.8 106.4h8.5v1.4h-8.5z"/>
<path fill="#c85f37" d="M59.8 109.2h8.5v1.4h-8.5z"/>
<path fill="#dc7337" d="M59.8 110.5h8.5v1.4h-8.5z"/>
<path fill="#cd785f" d="M59.8 111.9h8.5v1.4h-8.5zM120.8 103.6h8.5v1.4h-8.5z"/>
<path fill="#eb8c32" d="M59.8 113.3h8.5v1.4h-8.5zM68.3 120.3h8.5v1.4h-8.5zM103.7 68.8h8.5v1.4h-8.5z"/>
<path fill="#a54641" d="M59.8 114.7h8.5v1.4h-8.5z"/>
<path fill="#c85a32" d="M59.8 118.9h8.5v1.4h-8.5zM59.8 128.6h8.5v1.4h-8.5zM68.3 92.5h8.5v1.4h-8.5zM76.9 110.5h8.5v1.4h-8.5zM85.4 117.5h8.5v1.4h-8.5z"/>
<path fill="#d77332" d="M59.8 120.3h8.5v1.4h-8.5z"/>
<path fill="#eba05a" d="M59.8 121.7h8.5v1.4h-8.5z"/>
<path fill="#cd693c" d="M59.8 130.0h8.5v1.4h-8.5z"/>
<path fill="#d26937" d="M59.8 138.3h8.5v1.4h-8.5zM76.9 132.8h8.5v1.4h-8.5z"/>
<path fill="#f0a055" d="M59.8 139.7h8.5v1.4h-8.5z"/>
<path fill="#f0af6e" d="M59.8 141.1h8.5v1.4h-8.5zM95.2 78.6h8.5v1.4h-8.5zM103.7 86.9h8.5v1.4h-8.5z"/>
<path fill="#fad282" d="M59.8 142.5h8.5v1.4h-8.5z"/>
<path fill="#f5b95f" d="M59.8 143.9h8.5v1.4h-8.5zM76.9 145.3h8.5v1.4h-8.5z"/>
<path fill="#fadc96" d="M59.8 145.3h8.5v1.4h-8.5z"/>
<path fill="#facd82" d="M59.8 146.7h8.5v1.4h-8.5zM68.3 142.5h8.5v1.4h-8.5z"/>
<path fill="#64194b" d="M68.3 48.0h8.5v1.4h-8.5z"/>
<path fill="#5f1e50" d="M68.3 50.8h8.5v1.4h-8.5zM76.9 55.0h8.5v1.4h-8.5z"/>
<path fill="#461450" d="M68.3 52.2h8.5v1.4h-8.5z"/>
<path fill="#d27855" d="M68.3 53.6h8.5v1.4h-8.5z"/>
<path fill="#af6e73" d="M68.3 56.3h8.5v1.4h-8.5z"/>
<path fill="#b96969" d="M68.3 59.1h8.5v1.4h-8.5z"/>
<path fill="#a03732" d="M68.3 60.5h8.5v1.4h-8.5zM85.4 61.9h8.5v1.4h-8.5z"/>
<path fill="#9b3c3c" d="M68.3 66.1h8.5v1.4h-8.5z"/>
<path fill="#a5555f" d="M68.3 67.5h8.5v1.4h-8.5zM112.2 98.0h8.5v1.4h-8.5zM120.8 98.0h8.5v1.4h-8.5z"/>
<path fill="#c87d6e" d="M68.3 68.8h8.5v1.4h-8.5z"/>
<path fill="#c87869" d="M68.3 73.0h8.5v1.4h-8.5zM120.8 60.5h8.5v1.4h-8.5z"/>
<path fill="#a5413c" d="M68.3 77.2h8.5v1.4h-8.5zM76.9 99.4h8.5v1.4h-8.5zM76.9 114.7h8.5v1.4h-8.5z"/>
<path fill="#d7876e" d="M68.3 80.0h8.5v1.4h-8.5z"/>
<path fill="#782850" d="M68.3 81.4h8.5v1.4h-8.5z"/>
<path fill="#b94b2d" d="M68.3 82.8h8.5v1.4h-8.5z"/>
<path fill="#d26428" d="M68.3 84.1h8.5v1.4h-8.5z"/>
<path fill="#913746" d="M68.3 85.5h8.5v1.4h-8.5z"/>
<path fill="#af4632" d="M68.3 89.7h8.5v1.4h-8.5zM76.9 89.7h8.5v1.4h-8.5zM85.4 84.1h8.5v1.4h-8.5z"/>
<path fill="#cd6e4b" d="M68.3 91.1h8.5v1.4h-8.5z"/>
<path fill="#af4b3c" d="M68.3 95.3h8.5v1.4h-8.5z"/>
<path fill="#c35532" d="M68.3 96.7h8.5v1.4h-8.5zM76.9 116.1h8.5v1.4h-8.5zM85.4 123.1h8.5v1.4h-8.5zM120.8 81.4h8.5v1.4h-8.5z"/>
<path fill="#d26928" d="M68.3 99.4h8.5v1.4h-8.5z"/>
<path fill="#e1a587" d="M68.3 100.8h8.5v1.4h-8.5z"/>
<path fill="#c86e5a" d="M68.3 102.2h8.5v1.4h-8.5z"/>
<path fill="#c85a2d" d="M68.3 103.6h8.5v1.4h-8.5zM85.4 92.5h8.5v1.4h-8.5zM85.4 99.4h8.5v1.4h-8.5z"/>
<path fill="#e17828" d="M68.3 105.0h8.5v1.4h-8.5zM95.2 92.5h8.5v1.4h-8.5z"/>
<path fill="#aa4b41" d="M68.3 106.4h8.5v1.4h-8.5zM120.8 67.5h8.5v1.4h-8.5z"/>
<path fill="#b9553c" d="M68.3 107.8h8.5v1.4h-8.5zM76.9 128.6h8.5v1.4h-8.5z"/>
<path fill="#be5532" d="M68.3 109.2h8.5v1.4h-8.5zM76.9 93.9h8.5v1.4h-8.5zM112.2 82.8h8.5v1.4h-8.5z"/>
<path fill="#ebaa78" d="M68.3 110.5h8.5v1.4h-8.5z"/>
<path fill="#dc9173" d="M68.3 111.9h8.5v1.4h-8.5zM76.9 111.9h8.5v1.4h-8.5z"/>
<path fill="#a04146" d="M68.3 114.7h8.5v1.4h-8.5zM85.4 106.4h8.5v1.4h-8.5z"/>
<path fill="#dc6e2d" d="M68.3 116.1h8.5v1.4h-8.5z"/>
<path fill="#e6822d" d="M68.3 117.5h8.5v1.4h-8.5zM95.2 68.8h8.5v1.4h-8.5z"/>
<path fill="#f5b473" d="M68.3 121.7h8.5v1.4h-8.5zM103.7 111.9h8.5v1.4h-8.5z"/>
<path fill="#cd6437" d="M68.3 123.1h8.5v1.4h-8.5zM85.4 132.8h8.5v1.4h-8.5z"/>
<path fill="#f0a041" d="M68.3 125.8h8.5v1.4h-8.5zM95.2 88.3h8.5v1.4h-8.5z"/>
<path fill="#eb913c" d="M68.3 137.0h8.5v1.4h-8.5zM95.2 64.7h8.5v1.4h-8.5zM103.7 63.3h8.5v1.4h-8.5z"/>
<path fill="#eb9641" d="M68.3 139.7h8.5v1.4h-8.5zM103.7 91.1h8.5v1.4h-8.5z"/>
<path fill="#f5be64" d="M68.3 143.9h8.5v1.4h-8.5z"/>
<path fill="#fad782" d="M68.3 145.3h8.5v1.4h-8.5z"/>
<path fill="#f5c882" d="M68.3 146.7h8.5v1.4h-8.5z"/>
<path fill="#551950" d="M76.9 48.0h8.5v1.4h-8.5z"/>
<path fill="#4b1e55" d="M76.9 49.4h8.5v1.4h-8.5zM76.9 50.8h8.5v1.4h-8.5zM76.9 52.2h8.5v1.4h-8.5zM85.4 49.4h8.5v1.4h-8.5z"/>
<path fill="#915f7d" d="M76.9 53.6h8.5v1.4h-8.5z"/>
<path fill="#6e1e4b" d="M76.9 57.7h8.5v1.4h-8.5zM76.9 64.7h8.5v1.4h-8.5z"/>
<path fill="#9b5f7d" d="M76.9 59.1h8.5v1.4h-8.5z"/>
<path fill="#691e50" d="M76.9 60.5h8.5v1.4h-8.5zM85.4 56.3h8.5v1.4h-8.5z"/>
<path fill="#873246" d="M76.9 61.9h8.5v1.4h-8.5zM85.4 77.2h8.5v1.4h-8.5z"/>
<path fill="#731e4b" d="M76.9 63.3h8.5v1.4h-8.5zM76.9 71.6h8.5v1.4h-8.5zM85.4 66.1h8.5v1.4h-8.5z"/>
<path fill="#6e2350" d="M76.9 66.1h8.5v1.4h-8.5z"/>
<path fill="#91506e" d="M76.9 68.8h8.5v1.4h-8.5zM85.4 81.4h8.5v1.4h-8.5z"/>
<path fill="#9b647d" d="M76.9 73.0h8.5v1.4h-8.5z"/>
<path fill="#7d2346" d="M76.9 74.4h8.5v1.4h-8.5z"/>
<path fill="#822d50" d="M76.9 77.2h8.5v1.4h-8.5z"/>
<path fill="#822d46" d="M76.9 78.6h8.5v1.4h-8.5z"/>
<path fill="#692355" d="M76.9 81.4h8.5v1.4h-8.5z"/>
<path fill="#732855" d="M76.9 86.9h8.5v1.4h-8.5zM85.4 70.2h8.5v1.4h-8.5z"/>
<path fill="#a0647d" d="M76.9 91.1h8.5v1.4h-8.5z"/>
<path fill="#963c46" d="M76.9 96.7h8.5v1.4h-8.5zM112.2 68.8h8.5v1.4h-8.5z"/>
<path fill="#c37d73" d="M76.9 98.0h8.5v1.4h-8.5z"/>
<path fill="#b46969" d="M76.9 100.8h8.5v1.4h-8.5z"/>
<path fill="#c36e5f" d="M76.9 102.2h8.5v1.4h-8.5z"/>
<path fill="#d26932" d="M76.9 105.0h8.5v1.4h-8.5zM76.9 123.1h8.5v1.4h-8.5z"/>
<path fill="#963c4b" d="M76.9 109.2h8.5v1.4h-8.5z"/>
<path fill="#b95541" d="M76.9 117.5h8.5v1.4h-8.5zM120.8 71.6h8.5v1.4h-8.5z"/>
<path fill="#c35a3c" d="M76.9 118.9h8.5v1.4h-8.5zM120.8 75.8h8.5v1.4h-8.5z"/>
<path fill="#dc967d" d="M76.9 120.3h8.5v1.4h-8.5z"/>
<path fill="#d7825a" d="M76.9 121.7h8.5v1.4h-8.5zM120.8 88.3h8.5v1.4h-8.5z"/>
<path fill="#cd7d69" d="M76.9 135.6h8.5v1.4h-8.5zM112.2 107.8h8.5v1.4h-8.5z"/>
<path fill="#be5a41" d="M76.9 138.3h8.5v1.4h-8.5z"/>
<path fill="#dc7d4b" d="M76.9 141.1h8.5v1.4h-8.5z"/>
<path fill="#f5b45f" d="M76.9 142.5h8.5v1.4h-8.5z"/>
<path fill="#f5b464" d="M76.9 143.9h8.5v1.4h-8.5zM103.7 103.6h8.5v1.4h-8.5z"/>
<path fill="#5a1e55" d="M85.4 48.0h8.5v1.4h-8.5z"/>
<path fill="#964b5f" d="M85.4 53.6h8.5v1.4h-8.5z"/>
<path fill="#782346" d="M85.4 55.0h8.5v1.4h-8.5z"/>
<path fill="#87283c" d="M85.4 57.7h8.5v1.4h-8.5z"/>
<path fill="#a05055" d="M85.4 59.1h8.5v1.4h-8.5z"/>
<path fill="#551e55" d="M85.4 60.5h8.5v1.4h-8.5z"/>
<path fill="#78284b" d="M85.4 64.7h8.5v1.4h-8.5z"/>
<path fill="#872d41" d="M85.4 67.5h8.5v1.4h-8.5zM85.4 82.8h8.5v1.4h-8.5z"/>
<path fill="#9b5064" d="M85.4 68.8h8.5v1.4h-8.5z"/>
<path fill="#a06478" d="M85.4 71.6h8.5v1.4h-8.5z"/>
<path fill="#b47378" d="M85.4 80.0h8.5v1.4h-8.5z"/>
<path fill="#be6455" d="M85.4 96.7h8.5v1.4h-8.5z"/>
<path fill="#8c324b" d="M85.4 98.0h8.5v1.4h-8.5z"/>
<path fill="#a0555f" d="M85.4 100.8h8.5v1.4h-8.5z"/>
<path fill="#b9645f" d="M85.4 102.2h8.5v1.4h-8.5z"/>
<path fill="#a0413c" d="M85.4 107.8h8.5v1.4h-8.5z"/>
<path fill="#ebb9a0" d="M85.4 111.9h8.5v1.4h-8.5z"/>
<path fill="#aa6973" d="M85.4 114.7h8.5v1.4h-8.5z"/>
<path fill="#be553c" d="M85.4 118.9h8.5v1.4h-8.5z"/>
<path fill="#f0a05f" d="M85.4 121.7h8.5v1.4h-8.5z"/>
<path fill="#dc916e" d="M85.4 130.0h8.5v1.4h-8.5zM120.8 109.2h8.5v1.4h-8.5z"/>
<path fill="#dc783c" d="M85.4 135.6h8.5v1.4h-8.5zM112.2 84.1h8.5v1.4h-8.5z"/>
<path fill="#e1915a" d="M85.4 138.3h8.5v1.4h-8.5z"/>
<path fill="#e6965f" d="M85.4 139.7h8.5v1.4h-8.5z"/>
<path fill="#eb9141" d="M85.4 141.1h8.5v1.4h-8.5z"/>
<path fill="#f5cd78" d="M85.4 142.5h8.5v1.4h-8.5z"/>
<path fill="#f5be55" d="M85.4 143.9h8.5v1.4h-8.5z"/>
<path fill="#f5cd7d" d="M85.4 145.3h8.5v1.4h-8.5z"/>
<path fill="#f0b46e" d="M85.4 146.7h8.5v1.4h-8.5z"/>
<path fill="#f0af4b" d="M95.2 48.0h8.5v1.4h-8.5z"/>
<path fill="#cd5f32" d="M95.2 49.4h8.5v1.4h-8.5z"/>
<path fill="#eb912d" d="M95.2 50.8h8.5v1.4h-8.5z"/>
<path fill="#eba069" d="M95.2 52.2h8.5v1.4h-8.5zM103.7 106.4h8.5v1.4h-8.5z"/>
<path fill="#f0aa6e" d="M95.2 55.0h8.5v1.4h-8.5z"/>
<path fill="#e1a082" d="M95.2 56.3h8.5v1.4h-8.5z"/>
<path fill="#e18741" d="M95.2 59.1h8.5v1.4h-8.5z"/>
<path fill="#f5b946" d="M95.2 60.5h8.5v1.4h-8.5z"/>
<path fill="#f0b47d" d="M95.2 61.9h8.5v1.4h-8.5zM103.7 61.9h8.5v1.4h-8.5z"/>
<path fill="#e67d2d" d="M95.2 63.3h8.5v1.4h-8.5z"/>
<path fill="#e18237" d="M95.2 66.1h8.5v1.4h-8.5z"/>
<path fill="#f0a050" d="M95.2 70.2h8.5v1.4h-8.5z"/>
<path fill="#f0aa4b" d="M95.2 71.6h8.5v1.4h-8.5zM95.2 77.2h8.5v1.4h-8.5zM95.2 84.1h8.5v1.4h-8.5zM103.7 84.1h8.5v1.4h-8.5z"/>
<path fill="#eb9632" d="M95.2 73.0h8.5v1.4h-8.5zM103.7 93.9h8.5v1.4h-8.5z"/>
<path fill="#f0b982" d="M95.2 80.0h8.5v1.4h-8.5z"/>
<path fill="#f5b973" d="M95.2 81.4h8.5v1.4h-8.5z"/>
<path fill="#f0aa41" d="M95.2 82.8h8.5v1.4h-8.5z"/>
<path fill="#eb872d" d="M95.2 85.5h8.5v1.4h-8.5zM103.7 92.5h8.5v1.4h-8.5z"/>
<path fill="#f09b41" d="M95.2 86.9h8.5v1.4h-8.5z"/>
<path fill="#e68c3c" d="M95.2 91.1h8.5v1.4h-8.5zM120.8 77.2h8.5v1.4h-8.5z"/>
<path fill="#f0aa55" d="M95.2 96.7h8.5v1.4h-8.5z"/>
<path fill="#eb9b50" d="M95.2 99.4h8.5v1.4h-8.5z"/>
<path fill="#eb914b" d="M95.2 100.8h8.5v1.4h-8.5z"/>
<path fill="#e6965a" d="M95.2 102.2h8.5v1.4h-8.5zM120.8 105.0h8.5v1.4h-8.5z"/>
<path fill="#eb9650" d="M95.2 103.6h8.5v1.4h-8.5z"/>
<path fill="#eba055" d="M95.2 105.0h8.5v1.4h-8.5z"/>
<path fill="#f0a564" d="M95.2 106.4h8.5v1.4h-8.5zM103.7 59.1h8.5v1.4h-8.5z"/>
<path fill="#eba05f" d="M95.2 109.2h8.5v1.4h-8.5z"/>
<path fill="#e19673" d="M95.2 110.5h8.5v1.4h-8.5z"/>
<path fill="#f5cd87" d="M95.2 111.9h8.5v1.4h-8.5z"/>
<path fill="#f5c382" d="M95.2 114.7h8.5v1.4h-8.5z"/>
<path fill="#f5be78" d="M95.2 116.1h8.5v1.4h-8.5z"/>
<path fill="#f5be87" d="M95.2 117.5h8.5v1.4h-8.5z"/>
<path fill="#f0b98c" d="M95.2 118.9h8.5v1.4h-8.5z"/>
<path fill="#f5c89b" d="M95.2 120.3h8.5v1.4h-8.5z"/>
<path fill="#f5cd91" d="M95.2 121.7h8.5v1.4h-8.5z"/>
<path fill="#ebaf91" d="M95.2 123.1h8.5v1.4h-8.5z"/>
<path fill="#fae6d7" d="M95.2 124.4h8.5v1.4h-8.5z"/>
<path fill="#f5c896" d="M95.2 125.8h8.5v1.4h-8.5z"/>
<path fill="#fff0eb" d="M95.2 127.2h8.5v1.4h-8.5z"/>
<path fill="#fad7af" d="M95.2 128.6h8.5v1.4h-8.5zM103.7 116.1h8.5v1.4h-8.5z"/>
<path fill="#fadcbe" d="M95.2 130.0h8.5v1.4h-8.5zM95.2 132.8h8.5v1.4h-8.5zM103.7 132.8h8.5v1.4h-8.5z"/>
<path fill="#f5cda5" d="M95.2 131.4h8.5v1.4h-8.5zM103.7 131.4h8.5v1.4h-8.5z"/>
<path fill="#fad7b9" d="M95.2 134.2h8.5v1.4h-8.5z"/>
<path fill="#fff5eb" d="M95.2 135.6h8.5v1.4h-8.5zM95.2 143.9h8.5v1.4h-8.5zM95.2 146.7h8.5v1.4h-8.5zM95.2 149.5h8.5v1.4h-8.5zM103.7 142.5h8.5v1.4h-8.5zM103.7 143.9h8.5v1.4h-8.5zM103.7 146.7h8.5v1.4h-8.5zM103.7 149.5h8.5v1.4h-8.5zM112.2 125.8h8.5v1.4h-8.5zM112.2 135.6h8.5v1.4h-8.5zM112.2 143.9h8.5v1.4h-8.5zM112.2 148.1h8.5v1.4h-8.5zM112.2 149.5h8.5v1.4h-8.5zM120.8 145.3h8.5v1.4h-8.5z"/>
<path fill="#fadcc3" d="M95.2 137.0h8.5v1.4h-8.5zM103.7 135.6h8.5v1.4h-8.5z"/>
<path fill="#fae1d2" d="M95.2 138.3h8.5v1.4h-8.5zM112.2 120.3h8.5v1.4h-8.5z"/>
<path fill="#fae6cd" d="M95.2 139.7h8.5v1.4h-8.5zM103.7 141.1h8.5v1.4h-8.5z"/>
<path fill="#fff0d7" d="M95.2 141.1h8.5v1.4h-8.5z"/>
<path fill="#fae1cd" d="M95.2 142.5h8.5v1.4h-8.5z"/>
<path fill="#fff0dc" d="M95.2 145.3h8.5v1.4h-8.5z"/>
<path fill="#fff5e6" d="M95.2 148.1h8.5v1.4h-8.5z"/>
<path fill="#f0a541" d="M103.7 48.0h8.5v1.4h-8.5z"/>
<path fill="#f0af73" d="M103.7 50.8h8.5v1.4h-8.5zM103.7 110.5h8.5v1.4h-8.5z"/>
<path fill="#e6a57d" d="M103.7 53.6h8.5v1.4h-8.5z"/>
<path fill="#cd5a2d" d="M103.7 56.3h8.5v1.4h-8.5z"/>
<path fill="#e6872d" d="M103.7 57.7h8.5v1.4h-8.5z"/>
<path fill="#f5cd6e" d="M103.7 60.5h8.5v1.4h-8.5z"/>
<path fill="#e67d28" d="M103.7 64.7h8.5v1.4h-8.5z"/>
<path fill="#e6873c" d="M103.7 66.1h8.5v1.4h-8.5z"/>
<path fill="#eb8c2d" d="M103.7 70.2h8.5v1.4h-8.5zM103.7 75.8h8.5v1.4h-8.5z"/>
<path fill="#f0b978" d="M103.7 71.6h8.5v1.4h-8.5z"/>
<path fill="#f0a53c" d="M103.7 77.2h8.5v1.4h-8.5z"/>
<path fill="#f0b478" d="M103.7 81.4h8.5v1.4h-8.5z"/>
<path fill="#f09b32" d="M103.7 88.3h8.5v1.4h-8.5z"/>
<path fill="#d76e28" d="M103.7 89.7h8.5v1.4h-8.5z"/>
<path fill="#f0a54b" d="M103.7 95.3h8.5v1.4h-8.5zM103.7 96.7h8.5v1.4h-8.5z"/>
<path fill="#c36955" d="M103.7 98.0h8.5v1.4h-8.5z"/>
<path fill="#f5b455" d="M103.7 99.4h8.5v1.4h-8.5z"/>
<path fill="#e68c46" d="M103.7 100.8h8.5v1.4h-8.5z"/>
<path fill="#dc824b" d="M103.7 102.2h8.5v1.4h-8.5z"/>
<path fill="#f5b969" d="M103.7 105.0h8.5v1.4h-8.5z"/>
<path fill="#f0a05a" d="M103.7 107.8h8.5v1.4h-8.5z"/>
<path fill="#f5cd9b" d="M103.7 113.3h8.5v1.4h-8.5z"/>
<path fill="#f5be8c" d="M103.7 114.7h8.5v1.4h-8.5zM103.7 123.1h8.5v1.4h-8.5z"/>
<path fill="#f5c391" d="M103.7 117.5h8.5v1.4h-8.5z"/>
<path fill="#f0b991" d="M103.7 118.9h8.5v1.4h-8.5z"/>
<path fill="#fae1c8" d="M103.7 120.3h8.5v1.4h-8.5z"/>
<path fill="#fae6c8" d="M103.7 121.7h8.5v1.4h-8.5zM103.7 139.7h8.5v1.4h-8.5z"/>
<path fill="#faebd7" d="M103.7 124.4h8.5v1.4h-8.5z"/>
<path fill="#f5c396" d="M103.7 125.8h8.5v1.4h-8.5z"/>
<path fill="#f0bea0" d="M103.7 127.2h8.5v1.4h-8.5z"/>
<path fill="#fad2a0" d="M103.7 128.6h8.5v1.4h-8.5z"/>
<path fill="#fad7b4" d="M103.7 130.0h8.5v1.4h-8.5z"/>
<path fill="#fff0e6" d="M103.7 134.2h8.5v1.4h-8.5z"/>
<path fill="#f5d2b9" d="M103.7 137.0h8.5v1.4h-8.5z"/>
<path fill="#fae6d2" d="M103.7 138.3h8.5v1.4h-8.5zM120.8 141.1h8.5v1.4h-8.5z"/>
<path fill="#faebd2" d="M103.7 145.3h8.5v1.4h-8.5z"/>
<path fill="#fff0e1" d="M103.7 148.1h8.5v1.4h-8.5zM120.8 148.1h8.5v1.4h-8.5z"/>
<path fill="#b94b32" d="M112.2 48.0h8.5v1.4h-8.5z"/>
<path fill="#733764" d="M112.2 49.4h8.5v1.4h-8.5z"/>
<path fill="#874164" d="M112.2 50.8h8.5v1.4h-8.5z"/>
<path fill="#a04b55" d="M112.2 52.2h8.5v1.4h-8.5z"/>
<path fill="#96465a" d="M112.2 53.6h8.5v1.4h-8.5zM120.8 55.0h8.5v1.4h-8.5z"/>
<path fill="#914b6e" d="M112.2 56.3h8.5v1.4h-8.5z"/>
<path fill="#a0464b" d="M112.2 57.7h8.5v1.4h-8.5z"/>
<path fill="#8c3c5a" d="M112.2 59.1h8.5v1.4h-8.5z"/>
<path fill="#dc875a" d="M112.2 60.5h8.5v1.4h-8.5z"/>
<path fill="#963746" d="M112.2 61.9h8.5v1.4h-8.5z"/>
<path fill="#b45541" d="M112.2 63.3h8.5v1.4h-8.5z"/>
<path fill="#af5046" d="M112.2 67.5h8.5v1.4h-8.5z"/>
<path fill="#c86446" d="M112.2 70.2h8.5v1.4h-8.5zM120.8 86.9h8.5v1.4h-8.5z"/>
<path fill="#d25f2d" d="M112.2 78.6h8.5v1.4h-8.5z"/>
<path fill="#b95a46" d="M112.2 80.0h8.5v1.4h-8.5zM120.8 64.7h8.5v1.4h-8.5z"/>
<path fill="#cd6441" d="M112.2 81.4h8.5v1.4h-8.5z"/>
<path fill="#aa4637" d="M112.2 85.5h8.5v1.4h-8.5z"/>
<path fill="#d26e41" d="M112.2 88.3h8.5v1.4h-8.5z"/>
<path fill="#c89191" d="M112.2 89.7h8.5v1.4h-8.5z"/>
<path fill="#e19b78" d="M112.2 92.5h8.5v1.4h-8.5zM112.2 113.3h8.5v1.4h-8.5zM112.2 114.7h8.5v1.4h-8.5z"/>
<path fill="#d27346" d="M112.2 93.9h8.5v1.4h-8.5z"/>
<path fill="#c35f41" d="M112.2 95.3h8.5v1.4h-8.5z"/>
<path fill="#cd6946" d="M112.2 96.7h8.5v1.4h-8.5z"/>
<path fill="#dc9b7d" d="M112.2 99.4h8.5v1.4h-8.5z"/>
<path fill="#c3644b" d="M112.2 100.8h8.5v1.4h-8.5z"/>
<path fill="#be6955" d="M112.2 102.2h8.5v1.4h-8.5z"/>
<path fill="#e1874b" d="M112.2 103.6h8.5v1.4h-8.5z"/>
<path fill="#e19164" d="M112.2 105.0h8.5v1.4h-8.5z"/>
<path fill="#d78769" d="M112.2 106.4h8.5v1.4h-8.5z"/>
<path fill="#dc8764" d="M112.2 110.5h8.5v1.4h-8.5z"/>
<path fill="#e6a06e" d="M112.2 111.9h8.5v1.4h-8.5z"/>
<path fill="#f0b987" d="M112.2 116.1h8.5v1.4h-8.5z"/>
<path fill="#dca08c" d="M112.2 117.5h8.5v1.4h-8.5z"/>
<path fill="#e6b9aa" d="M112.2 118.9h8.5v1.4h-8.5z"/>
<path fill="#ebb491" d="M112.2 121.7h8.5v1.4h-8.5z"/>
<path fill="#e6af96" d="M112.2 123.1h8.5v1.4h-8.5zM120.8 118.9h8.5v1.4h-8.5z"/>
<path fill="#f5e6e1" d="M112.2 124.4h8.5v1.4h-8.5zM120.8 142.5h8.5v1.4h-8.5z"/>
<path fill="#d2a5aa" d="M112.2 127.2h8.5v1.4h-8.5z"/>
<path fill="#f0c8af" d="M112.2 128.6h8.5v1.4h-8.5z"/>
<path fill="#f5cdaa" d="M112.2 130.0h8.5v1.4h-8.5z"/>
<path fill="#faf5eb" d="M112.2 131.4h8.5v1.4h-8.5zM112.2 134.2h8.5v1.4h-8.5z"/>
<path fill="#f5cdaf" d="M112.2 132.8h8.5v1.4h-8.5z"/>
<path fill="#ebc8be" d="M112.2 137.0h8.5v1.4h-8.5z"/>
<path fill="#faf0eb" d="M112.2 138.3h8.5v1.4h-8.5zM120.8 137.0h8.5v1.4h-8.5z"/>
<path fill="#fadcc8" d="M112.2 139.7h8.5v1.4h-8.5zM120.8 139.7h8.5v1.4h-8.5z"/>
<path fill="#f5dccd" d="M112.2 141.1h8.5v1.4h-8.5z"/>
<path fill="#faebe6" d="M112.2 142.5h8.5v1.4h-8.5z"/>
<path fill="#faf0e6" d="M112.2 145.3h8.5v1.4h-8.5zM120.8 143.9h8.5v1.4h-8.5zM120.8 146.7h8.5v1.4h-8.5zM120.8 149.5h8.5v1.4h-8.5z"/>
<path fill="#fae6e1" d="M112.2 146.7h8.5v1.4h-8.5z"/>
<path fill="#9b5f78" d="M120.8 49.4h8.5v1.4h-8.5z"/>
<path fill="#9b3741" d="M120.8 50.8h8.5v1.4h-8.5z"/>
<path fill="#913c55" d="M120.8 52.2h8.5v1.4h-8.5z"/>
<path fill="#af8296" d="M120.8 53.6h8.5v1.4h-8.5z"/>
<path fill="#7d375a" d="M120.8 56.3h8.5v1.4h-8.5z"/>
<path fill="#a06e8c" d="M120.8 59.1h8.5v1.4h-8.5z"/>
<path fill="#8c3c55" d="M120.8 61.9h8.5v1.4h-8.5z"/>
<path fill="#aa504b" d="M120.8 63.3h8.5v1.4h-8.5z"/>
<path fill="#cd6941" d="M120.8 66.1h8.5v1.4h-8.5z"/>
<path fill="#be5f4b" d="M120.8 68.8h8.5v1.4h-8.5z"/>
<path fill="#d2693c" d="M120.8 70.2h8.5v1.4h-8.5z"/>
<path fill="#d27d5f" d="M120.8 73.0h8.5v1.4h-8.5zM120.8 107.8h8.5v1.4h-8.5z"/>
<path fill="#af5550" d="M120.8 74.4h8.5v1.4h-8.5z"/>
<path fill="#af4b46" d="M120.8 80.0h8.5v1.4h-8.5z"/>
<path fill="#c35f3c" d="M120.8 82.8h8.5v1.4h-8.5z"/>
<path fill="#d76e3c" d="M120.8 84.1h8.5v1.4h-8.5z"/>
<path fill="#c88273" d="M120.8 85.5h8.5v1.4h-8.5z"/>
<path fill="#9b4150" d="M120.8 89.7h8.5v1.4h-8.5z"/>
<path fill="#c86441" d="M120.8 91.1h8.5v1.4h-8.5z"/>
<path fill="#e1915f" d="M120.8 93.9h8.5v1.4h-8.5z"/>
<path fill="#ebaa73" d="M120.8 99.4h8.5v1.4h-8.5z"/>
<path fill="#b95f55" d="M120.8 100.8h8.5v1.4h-8.5z"/>
<path fill="#d79b8c" d="M120.8 106.4h8.5v1.4h-8.5z"/>
<path fill="#dc966e" d="M120.8 110.5h8.5v1.4h-8.5z"/>
<path fill="#eba573" d="M120.8 111.9h8.5v1.4h-8.5z"/>
<path fill="#ebaa82" d="M120.8 113.3h8.5v1.4h-8.5z"/>
<path fill="#d28c7d" d="M120.8 114.7h8.5v1.4h-8.5z"/>
<path fill="#f0b482" d="M120.8 116.1h8.5v1.4h-8.5z"/>
<path fill="#e6a07d" d="M120.8 117.5h8.5v1.4h-8.5z"/>
<path fill="#ebaf87" d="M120.8 120.3h8.5v1.4h-8.5z"/>
<path fill="#e6b49b" d="M120.8 121.7h8.5v1.4h-8.5zM120.8 124.4h8.5v1.4h-8.5z"/>
<path fill="#ebb496" d="M120.8 123.1h8.5v1.4h-8.5z"/>
<path fill="#f0c3a0" d="M120.8 125.8h8.5v1.4h-8.5z"/>
<path fill="#d7aaa5" d="M120.8 127.2h8.5v1.4h-8.5z"/>
<path fill="#f0c8aa" d="M120.8 128.6h8.5v1.4h-8.5zM120.8 130.0h8.5v1.4h-8.5z"/>
<path fill="#ebbeaa" d="M120.8 131.4h8.5v1.4h-8.5z"/>
<path fill="#f5d7c3" d="M120.8 132.8h8.5v1.4h-8.5zM120.8 135.6h8.5v1.4h-8.5z"/>
<path fill="#ebc8b9" d="M120.8 134.2h8.5v1.4h-8.5z"/>
<path fill="#f0d7cd" d="M120.8 138.3h8.5v1.4h-8.5z"/>
<path fill="#c8c3dc" d="M120.5 154.2h8.5v0.9h-8.5zM120.5 185.2h8.5v0.9h-8.5z"/>
<path fill="#d7d2e1" d="M103.0 185.2h8.0v0.9h-8.0z"/>
<path fill="#460a46" d="M151.1 48.0h8.1v2.0h-8.1zM151.1 50.0h8.1v2.0h-8.1zM151.1 54.0h8.1v2.0h-8.1zM151.1 69.9h8.1v2.0h-8.1zM151.1 73.9h8.1v2.0h-8.1zM151.1 75.9h8.1v2.0h-8.1zM151.1 79.9h8.1v2.0h-8.1zM151.1 85.9h8.1v2.0h-8.1zM151.1 103.8h8.1v2.0h-8.1zM151.1 111.8h8.1v2.0h-8.1zM151.1 133.8h8.1v2.0h-8.1zM151.1 135.7h8.1v2.0h-8.1zM151.1 137.7h8.1v2.0h-8.1zM151.1 147.7h8.1v2.0h-8.1zM151.1 149.7h8.1v2.0h-8.1zM151.1 155.7h8.1v2.0h-8.1zM151.1 173.6h8.1v2.0h-8.1zM151.1 179.6h8.1v2.0h-8.1zM167.2 50.0h8.1v2.0h-8.1zM167.2 54.0h8.1v2.0h-8.1zM167.2 56.0h8.1v2.0h-8.1zM167.2 58.0h8.1v2.0h-8.1zM167.2 60.0h8.1v2.0h-8.1zM167.2 67.9h8.1v2.0h-8.1zM167.2 69.9h8.1v2.0h-8.1zM167.2 71.9h8.1v2.0h-8.1zM167.2 75.9h8.1v2.0h-8.1zM167.2 77.9h8.1v2.0h-8.1zM167.2 81.9h8.1v2.0h-8.1zM167.2 89.9h8.1v2.0h-8.1zM167.2 91.9h8.1v2.0h-8.1zM167.2 93.9h8.1v2.0h-8.1zM167.2 95.9h8.1v2.0h-8.1zM167.2 97.9h8.1v2.0h-8.1zM167.2 101.8h8.1v2.0h-8.1zM167.2 103.8h8.1v2.0h-8.1zM167.2 105.8h8.1v2.0h-8.1zM167.2 107.8h8.1v2.0h-8.1zM167.2 109.8h8.1v2.0h-8.1zM167.2 119.8h8.1v2.0h-8.1zM167.2 123.8h8.1v2.0h-8.1zM167.2 131.8h8.1v2.0h-8.1zM167.2 135.7h8.1v2.0h-8.1zM167.2 137.7h8.1v2.0h-8.1zM167.2 161.7h8.1v2.0h-8.1zM167.2 169.7h8.1v2.0h-8.1zM167.2 171.6h8.1v2.0h-8.1zM167.2 179.6h8.1v2.0h-8.1zM167.2 181.6h8.1v2.0h-8.1zM167.2 183.6h8.1v2.0h-8.1z"/>
<path fill="#410a4b" d="M151.1 52.0h8.1v2.0h-8.1zM151.1 58.0h8.1v2.0h-8.1zM151.1 60.0h8.1v2.0h-8.1zM151.1 62.0h8.1v2.0h-8.1zM151.1 67.9h8.1v2.0h-8.1zM151.1 87.9h8.1v2.0h-8.1zM151.1 89.9h8.1v2.0h-8.1zM151.1 95.9h8.1v2.0h-8.1zM151.1 97.9h8.1v2.0h-8.1zM151.1 101.8h8.1v2.0h-8.1zM151.1 105.8h8.1v2.0h-8.1zM151.1 107.8h8.1v2.0h-8.1zM151.1 113.8h8.1v2.0h-8.1zM151.1 115.8h8.1v2.0h-8.1zM151.1 117.8h8.1v2.0h-8.1zM151.1 119.8h8.1v2.0h-8.1zM151.1 121.8h8.1v2.0h-8.1zM151.1 123.8h8.1v2.0h-8.1zM151.1 125.8h8.1v2.0h-8.1zM151.1 139.7h8.1v2.0h-8.1zM151.1 143.7h8.1v2.0h-8.1zM151.1 165.7h8.1v2.0h-8.1zM151.1 171.6h8.1v2.0h-8.1zM151.1 175.6h8.1v2.0h-8.1zM151.1 177.6h8.1v2.0h-8.1zM151.1 181.6h8.1v2.0h-8.1zM151.1 183.6h8.1v2.0h-8.1zM151.1 185.6h8.1v2.0h-8.1zM167.2 52.0h8.1v2.0h-8.1zM167.2 83.9h8.1v2.0h-8.1zM167.2 115.8h8.1v2.0h-8.1zM167.2 121.8h8.1v2.0h-8.1zM167.2 145.7h8.1v2.0h-8.1zM167.2 157.7h8.1v2.0h-8.1z"/>
<path fill="#410a46" d="M151.1 56.0h8.1v2.0h-8.1zM151.1 71.9h8.1v2.0h-8.1zM151.1 91.9h8.1v2.0h-8.1zM151.1 93.9h8.1v2.0h-8.1zM151.1 109.8h8.1v2.0h-8.1zM151.1 129.8h8.1v2.0h-8.1zM151.1 141.7h8.1v2.0h-8.1zM151.1 145.7h8.1v2.0h-8.1zM151.1 167.7h8.1v2.0h-8.1zM167.2 48.0h8.1v2.0h-8.1zM167.2 64.0h8.1v2.0h-8.1zM167.2 73.9h8.1v2.0h-8.1zM167.2 111.8h8.1v2.0h-8.1zM167.2 117.8h8.1v2.0h-8.1zM167.2 133.8h8.1v2.0h-8.1zM167.2 141.7h8.1v2.0h-8.1zM167.2 149.7h8.1v2.0h-8.1zM167.2 155.7h8.1v2.0h-8.1zM167.2 173.6h8.1v2.0h-8.1z"/>
<path fill="#500f46" d="M151.1 64.0h8.1v2.0h-8.1zM151.1 77.9h8.1v2.0h-8.1zM151.1 81.9h8.1v2.0h-8.1zM151.1 83.9h8.1v2.0h-8.1zM151.1 161.7h8.1v2.0h-8.1zM159.2 48.0h8.1v2.0h-8.1zM159.2 54.0h8.1v2.0h-8.1zM159.2 69.9h8.1v2.0h-8.1zM159.2 75.9h8.1v2.0h-8.1zM159.2 79.9h8.1v2.0h-8.1zM159.2 87.9h8.1v2.0h-8.1zM159.2 93.9h8.1v2.0h-8.1zM159.2 97.9h8.1v2.0h-8.1zM159.2 99.9h8.1v2.0h-8.1zM159.2 103.8h8.1v2.0h-8.1zM159.2 107.8h8.1v2.0h-8.1zM159.2 109.8h8.1v2.0h-8.1zM159.2 111.8h8.1v2.0h-8.1zM159.2 115.8h8.1v2.0h-8.1zM159.2 127.8h8.1v2.0h-8.1zM159.2 137.7h8.1v2.0h-8.1zM159.2 159.7h8.1v2.0h-8.1zM159.2 169.7h8.1v2.0h-8.1zM159.2 173.6h8.1v2.0h-8.1zM167.2 62.0h8.1v2.0h-8.1zM167.2 85.9h8.1v2.0h-8.1zM167.2 99.9h8.1v2.0h-8.1zM167.2 125.8h8.1v2.0h-8.1zM167.2 143.7h8.1v2.0h-8.1zM167.2 147.7h8.1v2.0h-8.1zM167.2 159.7h8.1v2.0h-8.1zM167.2 165.7h8.1v2.0h-8.1zM167.2 167.7h8.1v2.0h-8.1zM167.2 175.6h8.1v2.0h-8.1zM167.2 185.6h8.1v2.0h-8.1zM175.2 52.0h8.1v2.0h-8.1zM175.2 64.0h8.1v2.0h-8.1zM175.2 67.9h8.1v2.0h-8.1zM175.2 81.9h8.1v2.0h-8.1zM175.2 131.8h8.1v2.0h-8.1zM175.2 145.7h8.1v2.0h-8.1zM175.2 155.7h8.1v2.0h-8.1zM175.2 159.7h8.1v2.0h-8.1z"/>
<path fill="#3c0a4b" d="M151.1 65.9h8.1v2.0h-8.1zM151.1 127.8h8.1v2.0h-8.1zM151.1 153.7h8.1v2.0h-8.1zM151.1 157.7h8.1v2.0h-8.1z"/>
<path fill="#4b0a46" d="M151.1 99.9h8.1v2.0h-8.1zM151.1 131.8h8.1v2.0h-8.1zM151.1 151.7h8.1v2.0h-8.1zM151.1 159.7h8.1v2.0h-8.1zM151.1 163.7h8.1v2.0h-8.1zM151.1 169.7h8.1v2.0h-8.1zM167.2 65.9h8.1v2.0h-8.1zM167.2 113.8h8.1v2.0h-8.1zM167.2 127.8h8.1v2.0h-8.1zM167.2 139.7h8.1v2.0h-8.1z"/>
<path fill="#7d1937" d="M159.2 50.0h8.1v2.0h-8.1z"/>
<path fill="#691441" d="M159.2 52.0h8.1v2.0h-8.1zM159.2 71.9h8.1v2.0h-8.1zM159.2 119.8h8.1v2.0h-8.1zM159.2 181.6h8.1v2.0h-8.1zM175.2 163.7h8.1v2.0h-8.1z"/>
<path fill="#640f41" d="M159.2 56.0h8.1v2.0h-8.1zM159.2 58.0h8.1v2.0h-8.1zM159.2 89.9h8.1v2.0h-8.1zM159.2 133.8h8.1v2.0h-8.1zM159.2 147.7h8.1v2.0h-8.1zM159.2 149.7h8.1v2.0h-8.1zM159.2 157.7h8.1v2.0h-8.1zM159.2 171.6h8.1v2.0h-8.1zM175.2 65.9h8.1v2.0h-8.1zM175.2 85.9h8.1v2.0h-8.1zM175.2 105.8h8.1v2.0h-8.1zM175.2 121.8h8.1v2.0h-8.1zM175.2 165.7h8.1v2.0h-8.1zM175.2 173.6h8.1v2.0h-8.1zM175.2 179.6h8.1v2.0h-8.1zM199.8 54.0h7.9v2.0h-7.9z"/>
<path fill="#550f46" d="M159.2 60.0h8.1v2.0h-8.1zM159.2 77.9h8.1v2.0h-8.1zM159.2 81.9h8.1v2.0h-8.1zM159.2 83.9h8.1v2.0h-8.1zM159.2 95.9h8.1v2.0h-8.1zM159.2 113.8h8.1v2.0h-8.1zM159.2 139.7h8.1v2.0h-8.1zM159.2 143.7h8.1v2.0h-8.1zM159.2 145.7h8.1v2.0h-8.1zM159.2 155.7h8.1v2.0h-8.1zM159.2 167.7h8.1v2.0h-8.1zM167.2 87.9h8.1v2.0h-8.1zM167.2 163.7h8.1v2.0h-8.1zM175.2 48.0h8.1v2.0h-8.1zM175.2 58.0h8.1v2.0h-8.1zM175.2 62.0h8.1v2.0h-8.1zM175.2 73.9h8.1v2.0h-8.1zM175.2 77.9h8.1v2.0h-8.1zM175.2 79.9h8.1v2.0h-8.1zM175.2 91.9h8.1v2.0h-8.1zM175.2 93.9h8.1v2.0h-8.1zM175.2 97.9h8.1v2.0h-8.1zM175.2 101.8h8.1v2.0h-8.1zM175.2 107.8h8.1v2.0h-8.1zM175.2 109.8h8.1v2.0h-8.1zM175.2 113.8h8.1v2.0h-8.1zM175.2 115.8h8.1v2.0h-8.1zM175.2 119.8h8.1v2.0h-8.1zM175.2 127.8h8.1v2.0h-8.1zM175.2 137.7h8.1v2.0h-8.1zM175.2 149.7h8.1v2.0h-8.1zM175.2 151.7h8.1v2.0h-8.1zM175.2 181.6h8.1v2.0h-8.1zM175.2 185.6h8.1v2.0h-8.1z"/>
<path fill="#5a0f46" d="M159.2 62.0h8.1v2.0h-8.1zM159.2 73.9h8.1v2.0h-8.1zM159.2 91.9h8.1v2.0h-8.1zM159.2 121.8h8.1v2.0h-8.1zM159.2 123.8h8.1v2.0h-8.1zM159.2 129.8h8.1v2.0h-8.1zM159.2 135.7h8.1v2.0h-8.1zM159.2 161.7h8.1v2.0h-8.1zM159.2 175.6h8.1v2.0h-8.1zM159.2 177.6h8.1v2.0h-8.1zM175.2 54.0h8.1v2.0h-8.1zM175.2 56.0h8.1v2.0h-8.1zM175.2 60.0h8.1v2.0h-8.1zM175.2 87.9h8.1v2.0h-8.1zM175.2 89.9h8.1v2.0h-8.1zM175.2 95.9h8.1v2.0h-8.1zM175.2 99.9h8.1v2.0h-8.1zM175.2 103.8h8.1v2.0h-8.1zM175.2 123.8h8.1v2.0h-8.1zM175.2 129.8h8.1v2.0h-8.1zM175.2 133.8h8.1v2.0h-8.1zM175.2 143.7h8.1v2.0h-8.1zM175.2 147.7h8.1v2.0h-8.1zM175.2 153.7h8.1v2.0h-8.1zM175.2 161.7h8.1v2.0h-8.1zM175.2 169.7h8.1v2.0h-8.1zM175.2 175.6h8.1v2.0h-8.1zM175.2 177.6h8.1v2.0h-8.1z"/>
<path fill="#690f41" d="M159.2 64.0h8.1v2.0h-8.1zM175.2 69.9h8.1v2.0h-8.1zM175.2 141.7h8.1v2.0h-8.1z"/>
<path fill="#5f0f41" d="M159.2 65.9h8.1v2.0h-8.1zM159.2 67.9h8.1v2.0h-8.1zM159.2 101.8h8.1v2.0h-8.1zM159.2 105.8h8.1v2.0h-8.1zM159.2 153.7h8.1v2.0h-8.1zM159.2 179.6h8.1v2.0h-8.1zM175.2 50.0h8.1v2.0h-8.1zM175.2 71.9h8.1v2.0h-8.1zM175.2 75.9h8.1v2.0h-8.1zM175.2 117.8h8.1v2.0h-8.1zM175.2 125.8h8.1v2.0h-8.1zM175.2 157.7h8.1v2.0h-8.1zM175.2 171.6h8.1v2.0h-8.1z"/>
<path fill="#781937" d="M159.2 85.9h8.1v2.0h-8.1zM159.2 151.7h8.1v2.0h-8.1zM159.2 183.6h8.1v2.0h-8.1zM199.8 56.0h7.9v2.0h-7.9zM199.8 62.0h7.9v2.0h-7.9z"/>
<path fill="#73193c" d="M159.2 117.8h8.1v2.0h-8.1zM159.2 165.7h8.1v2.0h-8.1z"/>
<path fill="#6e143c" d="M159.2 125.8h8.1v2.0h-8.1zM159.2 131.8h8.1v2.0h-8.1z"/>
<path fill="#4b0f46" d="M159.2 141.7h8.1v2.0h-8.1zM167.2 79.9h8.1v2.0h-8.1zM167.2 129.8h8.1v2.0h-8.1zM167.2 151.7h8.1v2.0h-8.1zM167.2 153.7h8.1v2.0h-8.1zM167.2 177.6h8.1v2.0h-8.1z"/>
<path fill="#73143c" d="M159.2 163.7h8.1v2.0h-8.1zM159.2 185.6h8.1v2.0h-8.1z"/>
<path fill="#6e1441" d="M175.2 83.9h8.1v2.0h-8.1zM175.2 111.8h8.1v2.0h-8.1zM175.2 139.7h8.1v2.0h-8.1z"/>
<path fill="#5f0f46" d="M175.2 135.7h8.1v2.0h-8.1zM175.2 167.7h8.1v2.0h-8.1zM175.2 183.6h8.1v2.0h-8.1z"/>
<path fill="#b43c1e" d="M184.0 48.0h7.9v2.0h-7.9zM184.0 60.0h7.9v2.0h-7.9zM184.0 62.0h7.9v2.0h-7.9zM184.0 64.0h7.9v2.0h-7.9zM191.9 83.9h7.9v2.0h-7.9zM207.7 50.0h7.9v2.0h-7.9zM207.7 52.0h7.9v2.0h-7.9zM215.6 48.0h7.9v2.0h-7.9zM215.6 54.0h7.9v2.0h-7.9zM223.5 62.0h7.9v2.0h-7.9z"/>
<path fill="#a03223" d="M184.0 50.0h7.9v2.0h-7.9zM199.8 67.9h7.9v2.0h-7.9zM207.7 60.0h7.9v2.0h-7.9zM223.5 54.0h7.9v2.0h-7.9z"/>
<path fill="#8c232d" d="M184.0 52.0h7.9v2.0h-7.9zM199.8 60.0h7.9v2.0h-7.9zM223.5 105.8h7.9v2.0h-7.9z"/>
<path fill="#aa3723" d="M184.0 54.0h7.9v2.0h-7.9zM191.9 56.0h7.9v2.0h-7.9zM191.9 58.0h7.9v2.0h-7.9zM215.6 56.0h7.9v2.0h-7.9zM215.6 62.0h7.9v2.0h-7.9z"/>
<path fill="#9b2d28" d="M184.0 56.0h7.9v2.0h-7.9zM199.8 75.9h7.9v2.0h-7.9zM207.7 58.0h7.9v2.0h-7.9zM223.5 50.0h7.9v2.0h-7.9z"/>
<path fill="#c34619" d="M184.0 58.0h7.9v2.0h-7.9zM184.0 75.9h7.9v2.0h-7.9zM191.9 64.0h7.9v2.0h-7.9zM199.8 64.0h7.9v2.0h-7.9zM207.7 97.9h7.9v2.0h-7.9zM215.6 60.0h7.9v2.0h-7.9zM215.6 97.9h7.9v2.0h-7.9z"/>
<path fill="#e16e14" d="M184.0 65.9h7.9v2.0h-7.9zM184.0 101.8h7.9v2.0h-7.9zM191.9 101.8h7.9v2.0h-7.9zM191.9 109.8h7.9v2.0h-7.9zM207.7 91.9h7.9v2.0h-7.9zM207.7 143.7h7.9v2.0h-7.9zM215.6 79.9h7.9v2.0h-7.9zM223.5 119.8h7.9v2.0h-7.9z"/>
<path fill="#e68219" d="M184.0 69.9h7.9v2.0h-7.9zM184.0 121.8h7.9v2.0h-7.9zM184.0 139.7h7.9v2.0h-7.9zM215.6 65.9h7.9v2.0h-7.9zM223.5 125.8h7.9v2.0h-7.9zM223.5 153.7h7.9v2.0h-7.9z"/>
<path fill="#872332" d="M184.0 71.9h7.9v2.0h-7.9zM191.9 60.0h7.9v2.0h-7.9zM199.8 50.0h7.9v2.0h-7.9z"/>
<path fill="#eb8219" d="M184.0 77.9h7.9v2.0h-7.9zM199.8 77.9h7.9v2.0h-7.9z"/>
<path fill="#dc6414" d="M184.0 79.9h7.9v2.0h-7.9zM184.0 89.9h7.9v2.0h-7.9zM207.7 75.9h7.9v2.0h-7.9zM207.7 79.9h7.9v2.0h-7.9zM207.7 141.7h7.9v2.0h-7.9zM223.5 97.9h7.9v2.0h-7.9z"/>
<path fill="#c84b19" d="M184.0 83.9h7.9v2.0h-7.9zM184.0 109.8h7.9v2.0h-7.9zM199.8 89.9h7.9v2.0h-7.9zM199.8 95.9h7.9v2.0h-7.9zM207.7 101.8h7.9v2.0h-7.9zM223.5 48.0h7.9v2.0h-7.9z"/>
<path fill="#e67814" d="M184.0 85.9h7.9v2.0h-7.9zM184.0 147.7h7.9v2.0h-7.9zM215.6 103.8h7.9v2.0h-7.9zM215.6 127.8h7.9v2.0h-7.9zM223.5 115.8h7.9v2.0h-7.9z"/>
<path fill="#e67d19" d="M184.0 87.9h7.9v2.0h-7.9zM191.9 111.8h7.9v2.0h-7.9zM199.8 83.9h7.9v2.0h-7.9zM199.8 133.8h7.9v2.0h-7.9zM207.7 77.9h7.9v2.0h-7.9zM207.7 111.8h7.9v2.0h-7.9zM207.7 123.8h7.9v2.0h-7.9zM215.6 95.9h7.9v2.0h-7.9zM223.5 143.7h7.9v2.0h-7.9z"/>
<path fill="#b9411e" d="M184.0 91.9h7.9v2.0h-7.9zM215.6 50.0h7.9v2.0h-7.9z"/>
<path fill="#d76414" d="M184.0 93.9h7.9v2.0h-7.9zM184.0 95.9h7.9v2.0h-7.9zM191.9 69.9h7.9v2.0h-7.9zM191.9 95.9h7.9v2.0h-7.9zM207.7 93.9h7.9v2.0h-7.9zM207.7 103.8h7.9v2.0h-7.9zM215.6 85.9h7.9v2.0h-7.9zM215.6 91.9h7.9v2.0h-7.9zM223.5 95.9h7.9v2.0h-7.9z"/>
<path fill="#e17314" d="M184.0 97.9h7.9v2.0h-7.9zM191.9 87.9h7.9v2.0h-7.9zM199.8 101.8h7.9v2.0h-7.9zM207.7 87.9h7.9v2.0h-7.9zM215.6 83.9h7.9v2.0h-7.9zM215.6 87.9h7.9v2.0h-7.9zM215.6 121.8h7.9v2.0h-7.9zM223.5 69.9h7.9v2.0h-7.9zM223.5 85.9h7.9v2.0h-7.9z"/>
<path fill="#eb911e" d="M184.0 103.8h7.9v2.0h-7.9zM199.8 139.7h7.9v2.0h-7.9zM215.6 69.9h7.9v2.0h-7.9zM223.5 87.9h7.9v2.0h-7.9z"/>
<path fill="#c34b19" d="M184.0 105.8h7.9v2.0h-7.9zM191.9 65.9h7.9v2.0h-7.9zM191.9 89.9h7.9v2.0h-7.9zM207.7 109.8h7.9v2.0h-7.9zM215.6 58.0h7.9v2.0h-7.9zM223.5 89.9h7.9v2.0h-7.9zM223.5 101.8h7.9v2.0h-7.9z"/>
<path fill="#cd5514" d="M184.0 107.8h7.9v2.0h-7.9zM191.9 75.9h7.9v2.0h-7.9zM199.8 73.9h7.9v2.0h-7.9zM199.8 97.9h7.9v2.0h-7.9zM207.7 69.9h7.9v2.0h-7.9zM215.6 101.8h7.9v2.0h-7.9zM223.5 75.9h7.9v2.0h-7.9zM223.5 121.8h7.9v2.0h-7.9z"/>
<path fill="#eb8719" d="M184.0 111.8h7.9v2.0h-7.9zM191.9 97.9h7.9v2.0h-7.9zM207.7 65.9h7.9v2.0h-7.9z"/>
<path fill="#f5cd55" d="M184.0 117.8h7.9v2.0h-7.9zM223.5 137.7h7.9v2.0h-7.9z"/>
<path fill="#f0a52d" d="M184.0 125.8h7.9v2.0h-7.9zM191.9 77.9h7.9v2.0h-7.9zM191.9 117.8h7.9v2.0h-7.9zM191.9 137.7h7.9v2.0h-7.9zM207.7 149.7h7.9v2.0h-7.9zM223.5 117.8h7.9v2.0h-7.9zM223.5 131.8h7.9v2.0h-7.9z"/>
<path fill="#eb8c1e" d="M184.0 127.8h7.9v2.0h-7.9zM207.7 83.9h7.9v2.0h-7.9zM215.6 113.8h7.9v2.0h-7.9zM223.5 127.8h7.9v2.0h-7.9z"/>
<path fill="#f0961e" d="M184.0 131.8h7.9v2.0h-7.9z"/>
<path fill="#dc6914" d="M184.0 133.8h7.9v2.0h-7.9zM191.9 91.9h7.9v2.0h-7.9zM191.9 121.8h7.9v2.0h-7.9zM199.8 93.9h7.9v2.0h-7.9zM199.8 129.8h7.9v2.0h-7.9zM207.7 81.9h7.9v2.0h-7.9zM215.6 75.9h7.9v2.0h-7.9zM223.5 83.9h7.9v2.0h-7.9zM223.5 139.7h7.9v2.0h-7.9z"/>
<path fill="#f5dc69" d="M184.0 135.7h7.9v2.0h-7.9zM191.9 131.8h7.9v2.0h-7.9zM215.6 125.8h7.9v2.0h-7.9z"/>
<path fill="#f0a028" d="M184.0 137.7h7.9v2.0h-7.9zM184.0 145.7h7.9v2.0h-7.9zM184.0 149.7h7.9v2.0h-7.9zM191.9 145.7h7.9v2.0h-7.9zM199.8 151.7h7.9v2.0h-7.9zM207.7 131.8h7.9v2.0h-7.9z"/>
<path fill="#f5d75f" d="M184.0 153.7h7.9v2.0h-7.9zM199.8 145.7h7.9v2.0h-7.9z"/>
<path fill="#c85019" d="M191.9 48.0h7.9v2.0h-7.9zM191.9 141.7h7.9v2.0h-7.9zM207.7 48.0h7.9v2.0h-7.9zM215.6 52.0h7.9v2.0h-7.9zM215.6 93.9h7.9v2.0h-7.9z"/>
<path fill="#a53223" d="M191.9 50.0h7.9v2.0h-7.9zM199.8 71.9h7.9v2.0h-7.9zM207.7 54.0h7.9v2.0h-7.9zM207.7 56.0h7.9v2.0h-7.9zM215.6 64.0h7.9v2.0h-7.9zM223.5 58.0h7.9v2.0h-7.9z"/>
<path fill="#962828" d="M191.9 52.0h7.9v2.0h-7.9z"/>
<path fill="#be4619" d="M191.9 54.0h7.9v2.0h-7.9z"/>
<path fill="#af3c1e" d="M191.9 62.0h7.9v2.0h-7.9zM207.7 71.9h7.9v2.0h-7.9z"/>
<path fill="#91232d" d="M191.9 71.9h7.9v2.0h-7.9zM199.8 58.0h7.9v2.0h-7.9z"/>
<path fill="#e67819" d="M191.9 79.9h7.9v2.0h-7.9zM199.8 115.8h7.9v2.0h-7.9zM199.8 117.8h7.9v2.0h-7.9zM215.6 89.9h7.9v2.0h-7.9zM215.6 115.8h7.9v2.0h-7.9zM215.6 145.7h7.9v2.0h-7.9zM223.5 79.9h7.9v2.0h-7.9zM223.5 103.8h7.9v2.0h-7.9z"/>
<path fill="#eb871e" d="M191.9 93.9h7.9v2.0h-7.9zM191.9 103.8h7.9v2.0h-7.9zM191.9 133.8h7.9v2.0h-7.9z"/>
<path fill="#f09b23" d="M191.9 107.8h7.9v2.0h-7.9zM191.9 153.7h7.9v2.0h-7.9zM207.7 153.7h7.9v2.0h-7.9zM215.6 77.9h7.9v2.0h-7.9zM215.6 123.8h7.9v2.0h-7.9zM223.5 77.9h7.9v2.0h-7.9zM223.5 149.7h7.9v2.0h-7.9z"/>
<path fill="#f5d25a" d="M191.9 115.8h7.9v2.0h-7.9z"/>
<path fill="#f0911e" d="M191.9 123.8h7.9v2.0h-7.9zM199.8 79.9h7.9v2.0h-7.9zM207.7 107.8h7.9v2.0h-7.9z"/>
<path fill="#f0aa32" d="M191.9 125.8h7.9v2.0h-7.9zM215.6 151.7h7.9v2.0h-7.9z"/>
<path fill="#f5cd50" d="M191.9 127.8h7.9v2.0h-7.9zM199.8 143.7h7.9v2.0h-7.9zM223.5 133.8h7.9v2.0h-7.9z"/>
<path fill="#f5c346" d="M191.9 143.7h7.9v2.0h-7.9zM199.8 149.7h7.9v2.0h-7.9zM215.6 117.8h7.9v2.0h-7.9zM215.6 139.7h7.9v2.0h-7.9zM223.5 147.7h7.9v2.0h-7.9z"/>
<path fill="#f5dc64" d="M191.9 149.7h7.9v2.0h-7.9zM199.8 109.8h7.9v2.0h-7.9z"/>
<path fill="#821e32" d="M199.8 48.0h7.9v2.0h-7.9zM199.8 52.0h7.9v2.0h-7.9z"/>
<path fill="#e67314" d="M199.8 65.9h7.9v2.0h-7.9zM199.8 87.9h7.9v2.0h-7.9z"/>
<path fill="#d25f14" d="M199.8 69.9h7.9v2.0h-7.9zM207.7 121.8h7.9v2.0h-7.9zM223.5 65.9h7.9v2.0h-7.9z"/>
<path fill="#d25a14" d="M199.8 91.9h7.9v2.0h-7.9zM199.8 113.8h7.9v2.0h-7.9zM207.7 95.9h7.9v2.0h-7.9zM223.5 64.0h7.9v2.0h-7.9zM223.5 91.9h7.9v2.0h-7.9z"/>
<path fill="#f09623" d="M199.8 103.8h7.9v2.0h-7.9zM215.6 131.8h7.9v2.0h-7.9z"/>
<path fill="#d75f14" d="M199.8 105.8h7.9v2.0h-7.9zM223.5 141.7h7.9v2.0h-7.9z"/>
<path fill="#f5c341" d="M199.8 107.8h7.9v2.0h-7.9z"/>
<path fill="#f0af32" d="M199.8 111.8h7.9v2.0h-7.9zM207.7 125.8h7.9v2.0h-7.9zM215.6 143.7h7.9v2.0h-7.9z"/>
<path fill="#f0a528" d="M199.8 125.8h7.9v2.0h-7.9z"/>
<path fill="#f5b437" d="M199.8 131.8h7.9v2.0h-7.9z"/>
<path fill="#cd5519" d="M199.8 141.7h7.9v2.0h-7.9zM223.5 71.9h7.9v2.0h-7.9z"/>
<path fill="#f5c84b" d="M199.8 153.7h7.9v2.0h-7.9zM215.6 133.8h7.9v2.0h-7.9z"/>
<path fill="#b94119" d="M207.7 62.0h7.9v2.0h-7.9zM207.7 64.0h7.9v2.0h-7.9zM223.5 93.9h7.9v2.0h-7.9z"/>
<path fill="#be4119" d="M207.7 89.9h7.9v2.0h-7.9zM223.5 56.0h7.9v2.0h-7.9zM223.5 73.9h7.9v2.0h-7.9z"/>
<path fill="#af371e" d="M207.7 105.8h7.9v2.0h-7.9zM215.6 109.8h7.9v2.0h-7.9zM223.5 60.0h7.9v2.0h-7.9z"/>
<path fill="#f5be41" d="M207.7 127.8h7.9v2.0h-7.9zM215.6 135.7h7.9v2.0h-7.9z"/>
<path fill="#f5b93c" d="M207.7 145.7h7.9v2.0h-7.9z"/>
<path fill="#f0b437" d="M207.7 151.7h7.9v2.0h-7.9z"/>
<path fill="#a02d28" d="M215.6 71.9h7.9v2.0h-7.9z"/>
<path fill="#f0aa2d" d="M215.6 107.8h7.9v2.0h-7.9z"/>
<path fill="#b93c1e" d="M223.5 52.0h7.9v2.0h-7.9z"/>
<path fill="#f5d764" d="M223.5 109.8h7.9v2.0h-7.9z"/>
<rect x="167.5" y="86.3" width="8.0" height="1.6" fill="#fff"/>
<rect x="175.5" y="174.0" width="7.8" height="5.0" fill="#fff"/>
<rect x="175.5" y="181.5" width="7.8" height="5.5" fill="#fff"/>
<rect x="151.1" y="181.4" width="8.0" height="1.8" fill="#fff"/>
<path fill="#6e2d23" d="M232.5 48.0h30.5v1.6h-30.5z"/>
<path fill="#f0dc78" d="M240.0 57.0h9.0v1.5h-9.0z"/>
<path fill="#c8a064" d="M240.0 61.0h9.0v1.6h-9.0z"/>
<path fill="#6e3c23" d="M256.5 61.0h6.5v1.6h-6.5z"/>
<path fill="#f0e178" d="M233.0 64.5h30.0v1.4h-30.0z"/>
<path fill="#f0e182" d="M240.0 75.0h9.0v1.4h-9.0z"/>
<path fill="#c8b464" d="M256.5 79.0h6.5v1.4h-6.5z"/>
<path fill="#f0e696" d="M240.0 114.0h8.0v1.2h-8.0zM240.0 126.5h8.0v1.2h-8.0z"/>
<defs><linearGradient id="rlg" x1="0" y1="0" x2="1" y2="0"><stop offset="0" stop-color="#c8c8c8"/><stop offset="0.55" stop-color="#d6d6d6"/><stop offset="1" stop-color="#ececec"/></linearGradient></defs>
<rect x="140.9" y="48.2" width="7.8" height="139.3" fill="url(#rlg)"/>
<path stroke="#fff" stroke-width="0.7" stroke-opacity="0.7" fill="none" d="M147.9 48.9H148.8M146.6 51.8H148.8M144.6 53.8H148.8M146.2 56.1H148.8M144.6 57.7H148.8M147.2 60.9H148.8M146.3 62.9H148.8M148.3 66.1H148.8M146.1 69.0H148.8M147.3 71.4H148.8M146.8 73.1H148.8M148.2 75.1H148.8M147.3 76.8H148.8M145.4 79.8H148.8M148.2 82.9H148.8M147.4 84.5H148.8M146.6 86.1H148.8M145.3 88.4H148.8M147.9 90.5H148.8M145.0 92.6H148.8M146.3 95.3H148.8M145.4 98.2H148.8M147.8 100.3H148.8M146.6 102.7H148.8M144.5 104.7H148.8M144.8 107.8H148.8M146.0 110.8H148.8M146.1 113.9H148.8M146.8 117.0H148.8M147.6 119.0H148.8M147.3 121.6H148.8M145.4 124.0H148.8M144.9 126.6H148.8M147.1 129.3H148.8M147.8 131.5H148.8M146.1 133.4H148.8M146.0 136.3H148.8M147.0 139.1H148.8M148.7 142.2H148.8M147.9 144.9H148.8M147.5 146.8H148.8M146.1 149.7H148.8M146.5 152.2H148.8M145.8 155.3H148.8M144.4 157.6H148.8M147.1 159.9H148.8M148.4 162.9H148.8M148.7 165.1H148.8M147.9 167.0H148.8M146.1 168.8H148.8M148.1 170.5H148.8M145.0 173.5H148.8M145.5 175.9H148.8M146.8 178.3H148.8M148.1 180.1H148.8M146.3 182.1H148.8M144.4 183.8H148.8M145.9 185.7H148.8"/>
<path fill="#460a46" d="M277.3 48.9h8.8v1.4h-8.8zM277.3 50.3h8.8v1.4h-8.8zM277.3 51.7h8.8v1.4h-8.8zM277.3 60.0h8.8v1.4h-8.8zM277.3 62.8h8.8v1.4h-8.8zM277.3 64.2h8.8v1.4h-8.8zM277.3 75.4h8.8v1.4h-8.8zM277.3 80.9h8.8v1.4h-8.8zM277.3 83.7h8.8v1.4h-8.8zM277.3 90.7h8.8v1.4h-8.8zM277.3 96.3h8.8v1.4h-8.8zM277.3 100.4h8.8v1.4h-8.8zM277.3 104.6h8.8v1.4h-8.8zM277.3 108.8h8.8v1.4h-8.8zM277.3 113.0h8.8v1.4h-8.8zM277.3 115.8h8.8v1.4h-8.8zM277.3 118.5h8.8v1.4h-8.8zM277.3 132.5h8.8v1.4h-8.8zM277.3 133.9h8.8v1.4h-8.8zM277.3 135.3h8.8v1.4h-8.8zM277.3 140.8h8.8v1.4h-8.8zM277.3 142.2h8.8v1.4h-8.8zM277.3 152.0h8.8v1.4h-8.8zM277.3 154.8h8.8v1.4h-8.8zM277.3 165.9h8.8v1.4h-8.8zM277.3 171.5h8.8v1.4h-8.8zM277.3 177.1h8.8v1.4h-8.8zM277.3 178.4h8.8v1.4h-8.8zM294.8 50.3h8.8v1.4h-8.8zM294.8 57.3h8.8v1.4h-8.8zM294.8 61.4h8.8v1.4h-8.8zM294.8 62.8h8.8v1.4h-8.8zM294.8 69.8h8.8v1.4h-8.8zM294.8 72.6h8.8v1.4h-8.8zM294.8 78.2h8.8v1.4h-8.8zM294.8 83.7h8.8v1.4h-8.8zM294.8 85.1h8.8v1.4h-8.8zM294.8 92.1h8.8v1.4h-8.8zM294.8 94.9h8.8v1.4h-8.8zM294.8 104.6h8.8v1.4h-8.8zM294.8 117.2h8.8v1.4h-8.8zM294.8 122.7h8.8v1.4h-8.8zM294.8 132.5h8.8v1.4h-8.8zM294.8 136.7h8.8v1.4h-8.8zM294.8 150.6h8.8v1.4h-8.8zM294.8 174.3h8.8v1.4h-8.8z"/>
<path fill="#4b0a46" d="M277.3 53.1h8.8v1.4h-8.8zM277.3 86.5h8.8v1.4h-8.8zM277.3 87.9h8.8v1.4h-8.8zM277.3 93.5h8.8v1.4h-8.8zM277.3 124.1h8.8v1.4h-8.8zM277.3 126.9h8.8v1.4h-8.8zM277.3 129.7h8.8v1.4h-8.8zM277.3 138.1h8.8v1.4h-8.8zM277.3 139.4h8.8v1.4h-8.8zM277.3 150.6h8.8v1.4h-8.8zM277.3 157.6h8.8v1.4h-8.8zM277.3 161.7h8.8v1.4h-8.8zM277.3 174.3h8.8v1.4h-8.8zM294.8 48.9h8.8v1.4h-8.8zM294.8 53.1h8.8v1.4h-8.8zM294.8 58.7h8.8v1.4h-8.8zM294.8 60.0h8.8v1.4h-8.8zM294.8 74.0h8.8v1.4h-8.8zM294.8 75.4h8.8v1.4h-8.8zM294.8 82.3h8.8v1.4h-8.8zM294.8 86.5h8.8v1.4h-8.8zM294.8 90.7h8.8v1.4h-8.8zM294.8 93.5h8.8v1.4h-8.8zM294.8 97.7h8.8v1.4h-8.8zM294.8 99.0h8.8v1.4h-8.8zM294.8 101.8h8.8v1.4h-8.8zM294.8 107.4h8.8v1.4h-8.8zM294.8 111.6h8.8v1.4h-8.8zM294.8 114.4h8.8v1.4h-8.8zM294.8 118.5h8.8v1.4h-8.8zM294.8 119.9h8.8v1.4h-8.8zM294.8 121.3h8.8v1.4h-8.8zM294.8 124.1h8.8v1.4h-8.8zM294.8 126.9h8.8v1.4h-8.8zM294.8 133.9h8.8v1.4h-8.8zM294.8 135.3h8.8v1.4h-8.8zM294.8 139.4h8.8v1.4h-8.8zM294.8 143.6h8.8v1.4h-8.8zM294.8 154.8h8.8v1.4h-8.8zM294.8 157.6h8.8v1.4h-8.8zM294.8 160.3h8.8v1.4h-8.8zM294.8 164.5h8.8v1.4h-8.8zM294.8 167.3h8.8v1.4h-8.8zM294.8 178.4h8.8v1.4h-8.8zM294.8 184.0h8.8v1.4h-8.8zM294.8 185.4h8.8v1.4h-8.8z"/>
<path fill="#410a4b" d="M277.3 54.5h8.8v1.4h-8.8zM277.3 57.3h8.8v1.4h-8.8zM277.3 61.4h8.8v1.4h-8.8zM277.3 67.0h8.8v1.4h-8.8zM277.3 72.6h8.8v1.4h-8.8zM277.3 78.2h8.8v1.4h-8.8zM277.3 79.5h8.8v1.4h-8.8zM277.3 82.3h8.8v1.4h-8.8zM277.3 85.1h8.8v1.4h-8.8zM277.3 89.3h8.8v1.4h-8.8zM277.3 97.7h8.8v1.4h-8.8zM277.3 99.0h8.8v1.4h-8.8zM277.3 101.8h8.8v1.4h-8.8zM277.3 103.2h8.8v1.4h-8.8zM277.3 117.2h8.8v1.4h-8.8zM277.3 119.9h8.8v1.4h-8.8zM277.3 121.3h8.8v1.4h-8.8zM277.3 131.1h8.8v1.4h-8.8zM277.3 136.7h8.8v1.4h-8.8zM277.3 143.6h8.8v1.4h-8.8zM277.3 145.0h8.8v1.4h-8.8zM277.3 146.4h8.8v1.4h-8.8zM277.3 147.8h8.8v1.4h-8.8zM277.3 153.4h8.8v1.4h-8.8zM277.3 160.3h8.8v1.4h-8.8zM277.3 164.5h8.8v1.4h-8.8zM277.3 167.3h8.8v1.4h-8.8zM277.3 168.7h8.8v1.4h-8.8zM277.3 172.9h8.8v1.4h-8.8zM277.3 175.7h8.8v1.4h-8.8zM277.3 179.8h8.8v1.4h-8.8zM277.3 181.2h8.8v1.4h-8.8zM277.3 182.6h8.8v1.4h-8.8zM277.3 186.8h8.8v1.4h-8.8z"/>
<path fill="#550f46" d="M277.3 55.9h8.8v1.4h-8.8zM277.3 74.0h8.8v1.4h-8.8zM277.3 107.4h8.8v1.4h-8.8zM277.3 110.2h8.8v1.4h-8.8zM277.3 149.2h8.8v1.4h-8.8zM277.3 185.4h8.8v1.4h-8.8zM286.1 55.9h8.8v1.4h-8.8zM286.1 62.8h8.8v1.4h-8.8zM286.1 64.2h8.8v1.4h-8.8zM286.1 71.2h8.8v1.4h-8.8zM286.1 74.0h8.8v1.4h-8.8zM286.1 80.9h8.8v1.4h-8.8zM286.1 87.9h8.8v1.4h-8.8zM286.1 93.5h8.8v1.4h-8.8zM286.1 97.7h8.8v1.4h-8.8zM286.1 99.0h8.8v1.4h-8.8zM286.1 106.0h8.8v1.4h-8.8zM286.1 108.8h8.8v1.4h-8.8zM286.1 111.6h8.8v1.4h-8.8zM286.1 113.0h8.8v1.4h-8.8zM286.1 115.8h8.8v1.4h-8.8zM286.1 117.2h8.8v1.4h-8.8zM286.1 121.3h8.8v1.4h-8.8zM286.1 133.9h8.8v1.4h-8.8zM286.1 140.8h8.8v1.4h-8.8zM286.1 143.6h8.8v1.4h-8.8zM286.1 153.4h8.8v1.4h-8.8zM286.1 161.7h8.8v1.4h-8.8zM286.1 171.5h8.8v1.4h-8.8zM286.1 172.9h8.8v1.4h-8.8zM286.1 174.3h8.8v1.4h-8.8zM286.1 177.1h8.8v1.4h-8.8zM286.1 179.8h8.8v1.4h-8.8zM294.8 65.6h8.8v1.4h-8.8zM294.8 71.2h8.8v1.4h-8.8zM294.8 113.0h8.8v1.4h-8.8zM294.8 131.1h8.8v1.4h-8.8zM294.8 168.7h8.8v1.4h-8.8zM294.8 170.1h8.8v1.4h-8.8zM294.8 181.2h8.8v1.4h-8.8zM294.8 182.6h8.8v1.4h-8.8z"/>
<path fill="#5a0f46" d="M277.3 58.7h8.8v1.4h-8.8zM286.1 48.9h8.8v1.4h-8.8zM286.1 54.5h8.8v1.4h-8.8zM286.1 69.8h8.8v1.4h-8.8zM286.1 75.4h8.8v1.4h-8.8zM286.1 78.2h8.8v1.4h-8.8zM286.1 82.3h8.8v1.4h-8.8zM286.1 83.7h8.8v1.4h-8.8zM286.1 103.2h8.8v1.4h-8.8zM286.1 114.4h8.8v1.4h-8.8zM286.1 124.1h8.8v1.4h-8.8zM286.1 126.9h8.8v1.4h-8.8zM286.1 132.5h8.8v1.4h-8.8zM286.1 135.3h8.8v1.4h-8.8zM286.1 136.7h8.8v1.4h-8.8zM286.1 142.2h8.8v1.4h-8.8zM286.1 145.0h8.8v1.4h-8.8zM286.1 149.2h8.8v1.4h-8.8zM286.1 152.0h8.8v1.4h-8.8zM286.1 157.6h8.8v1.4h-8.8zM286.1 165.9h8.8v1.4h-8.8zM286.1 167.3h8.8v1.4h-8.8zM286.1 170.1h8.8v1.4h-8.8zM286.1 175.7h8.8v1.4h-8.8zM286.1 178.4h8.8v1.4h-8.8zM294.8 64.2h8.8v1.4h-8.8zM294.8 67.0h8.8v1.4h-8.8zM294.8 110.2h8.8v1.4h-8.8zM294.8 149.2h8.8v1.4h-8.8zM303.6 69.8h8.8v1.4h-8.8zM303.6 76.8h8.8v1.4h-8.8zM303.6 82.3h8.8v1.4h-8.8zM303.6 99.0h8.8v1.4h-8.8zM303.6 106.0h8.8v1.4h-8.8zM303.6 115.8h8.8v1.4h-8.8zM303.6 139.4h8.8v1.4h-8.8zM303.6 146.4h8.8v1.4h-8.8zM303.6 149.2h8.8v1.4h-8.8zM303.6 168.7h8.8v1.4h-8.8z"/>
<path fill="#3c0a4b" d="M277.3 65.6h8.8v1.4h-8.8zM277.3 106.0h8.8v1.4h-8.8zM277.3 114.4h8.8v1.4h-8.8zM277.3 184.0h8.8v1.4h-8.8z"/>
<path fill="#500f46" d="M277.3 68.4h8.8v1.4h-8.8zM277.3 128.3h8.8v1.4h-8.8zM277.3 156.2h8.8v1.4h-8.8zM277.3 163.1h8.8v1.4h-8.8zM294.8 55.9h8.8v1.4h-8.8zM294.8 68.4h8.8v1.4h-8.8zM294.8 79.5h8.8v1.4h-8.8zM294.8 80.9h8.8v1.4h-8.8zM294.8 87.9h8.8v1.4h-8.8zM294.8 89.3h8.8v1.4h-8.8zM294.8 96.3h8.8v1.4h-8.8zM294.8 100.4h8.8v1.4h-8.8zM294.8 106.0h8.8v1.4h-8.8zM294.8 125.5h8.8v1.4h-8.8zM294.8 142.2h8.8v1.4h-8.8zM294.8 145.0h8.8v1.4h-8.8zM294.8 146.4h8.8v1.4h-8.8zM294.8 147.8h8.8v1.4h-8.8zM294.8 156.2h8.8v1.4h-8.8zM294.8 161.7h8.8v1.4h-8.8zM294.8 165.9h8.8v1.4h-8.8zM294.8 171.5h8.8v1.4h-8.8zM294.8 177.1h8.8v1.4h-8.8zM294.8 186.8h8.8v1.4h-8.8z"/>
<path fill="#410a46" d="M277.3 69.8h8.8v1.4h-8.8zM277.3 92.1h8.8v1.4h-8.8zM277.3 122.7h8.8v1.4h-8.8zM277.3 125.5h8.8v1.4h-8.8zM277.3 158.9h8.8v1.4h-8.8zM277.3 170.1h8.8v1.4h-8.8z"/>
<path fill="#4b0f46" d="M277.3 71.2h8.8v1.4h-8.8zM277.3 76.8h8.8v1.4h-8.8zM277.3 111.6h8.8v1.4h-8.8zM294.8 54.5h8.8v1.4h-8.8zM294.8 76.8h8.8v1.4h-8.8zM294.8 108.8h8.8v1.4h-8.8zM294.8 128.3h8.8v1.4h-8.8zM294.8 138.1h8.8v1.4h-8.8zM294.8 140.8h8.8v1.4h-8.8zM294.8 152.0h8.8v1.4h-8.8zM294.8 172.9h8.8v1.4h-8.8zM294.8 179.8h8.8v1.4h-8.8z"/>
<path fill="#784678" d="M277.3 94.9h8.8v1.4h-8.8z"/>
<path fill="#8c5078" d="M286.1 50.3h8.8v1.4h-8.8zM303.6 145.0h8.8v1.4h-8.8z"/>
<path fill="#640f41" d="M286.1 51.7h8.8v1.4h-8.8zM286.1 96.3h8.8v1.4h-8.8zM286.1 101.8h8.8v1.4h-8.8zM286.1 147.8h8.8v1.4h-8.8zM286.1 154.8h8.8v1.4h-8.8zM286.1 168.7h8.8v1.4h-8.8zM286.1 182.6h8.8v1.4h-8.8zM286.1 184.0h8.8v1.4h-8.8zM286.1 185.4h8.8v1.4h-8.8zM303.6 50.3h8.8v1.4h-8.8zM303.6 60.0h8.8v1.4h-8.8zM303.6 75.4h8.8v1.4h-8.8zM303.6 79.5h8.8v1.4h-8.8zM303.6 83.7h8.8v1.4h-8.8zM303.6 90.7h8.8v1.4h-8.8zM303.6 97.7h8.8v1.4h-8.8zM303.6 153.4h8.8v1.4h-8.8zM303.6 157.6h8.8v1.4h-8.8zM303.6 158.9h8.8v1.4h-8.8zM303.6 160.3h8.8v1.4h-8.8zM303.6 161.7h8.8v1.4h-8.8zM303.6 163.1h8.8v1.4h-8.8zM303.6 165.9h8.8v1.4h-8.8zM303.6 174.3h8.8v1.4h-8.8zM303.6 185.4h8.8v1.4h-8.8z"/>
<path fill="#6e143c" d="M286.1 53.1h8.8v1.4h-8.8zM286.1 94.9h8.8v1.4h-8.8zM286.1 125.5h8.8v1.4h-8.8zM303.6 114.4h8.8v1.4h-8.8zM303.6 154.8h8.8v1.4h-8.8z"/>
<path fill="#691441" d="M286.1 57.3h8.8v1.4h-8.8zM286.1 65.6h8.8v1.4h-8.8zM286.1 160.3h8.8v1.4h-8.8zM303.6 53.1h8.8v1.4h-8.8zM303.6 110.2h8.8v1.4h-8.8z"/>
<path fill="#690f41" d="M286.1 58.7h8.8v1.4h-8.8zM286.1 68.4h8.8v1.4h-8.8zM286.1 92.1h8.8v1.4h-8.8zM286.1 146.4h8.8v1.4h-8.8zM294.8 115.8h8.8v1.4h-8.8zM294.8 163.1h8.8v1.4h-8.8zM303.6 54.5h8.8v1.4h-8.8zM303.6 80.9h8.8v1.4h-8.8zM303.6 117.2h8.8v1.4h-8.8zM303.6 132.5h8.8v1.4h-8.8zM303.6 152.0h8.8v1.4h-8.8zM303.6 172.9h8.8v1.4h-8.8z"/>
<path fill="#5f0f41" d="M286.1 60.0h8.8v1.4h-8.8zM286.1 61.4h8.8v1.4h-8.8zM286.1 67.0h8.8v1.4h-8.8zM286.1 76.8h8.8v1.4h-8.8zM286.1 100.4h8.8v1.4h-8.8zM286.1 104.6h8.8v1.4h-8.8zM286.1 110.2h8.8v1.4h-8.8zM286.1 119.9h8.8v1.4h-8.8zM286.1 122.7h8.8v1.4h-8.8zM286.1 128.3h8.8v1.4h-8.8zM286.1 131.1h8.8v1.4h-8.8zM286.1 139.4h8.8v1.4h-8.8zM286.1 158.9h8.8v1.4h-8.8zM286.1 164.5h8.8v1.4h-8.8zM286.1 181.2h8.8v1.4h-8.8zM286.1 186.8h8.8v1.4h-8.8zM294.8 158.9h8.8v1.4h-8.8zM303.6 57.3h8.8v1.4h-8.8zM303.6 64.2h8.8v1.4h-8.8zM303.6 71.2h8.8v1.4h-8.8zM303.6 85.1h8.8v1.4h-8.8zM303.6 86.5h8.8v1.4h-8.8zM303.6 87.9h8.8v1.4h-8.8zM303.6 89.3h8.8v1.4h-8.8zM303.6 92.1h8.8v1.4h-8.8zM303.6 96.3h8.8v1.4h-8.8zM303.6 100.4h8.8v1.4h-8.8zM303.6 107.4h8.8v1.4h-8.8zM303.6 111.6h8.8v1.4h-8.8zM303.6 113.0h8.8v1.4h-8.8zM303.6 118.5h8.8v1.4h-8.8zM303.6 133.9h8.8v1.4h-8.8zM303.6 136.7h8.8v1.4h-8.8zM303.6 140.8h8.8v1.4h-8.8zM303.6 143.6h8.8v1.4h-8.8zM303.6 150.6h8.8v1.4h-8.8zM303.6 181.2h8.8v1.4h-8.8z"/>
<path fill="#9b6487" d="M286.1 72.6h8.8v1.4h-8.8z"/>
<path fill="#5f0f46" d="M286.1 79.5h8.8v1.4h-8.8zM286.1 86.5h8.8v1.4h-8.8zM286.1 89.3h8.8v1.4h-8.8zM286.1 107.4h8.8v1.4h-8.8zM286.1 129.7h8.8v1.4h-8.8zM294.8 103.2h8.8v1.4h-8.8zM303.6 48.9h8.8v1.4h-8.8zM303.6 72.6h8.8v1.4h-8.8zM303.6 108.8h8.8v1.4h-8.8zM303.6 147.8h8.8v1.4h-8.8zM303.6 164.5h8.8v1.4h-8.8zM303.6 178.4h8.8v1.4h-8.8zM303.6 179.8h8.8v1.4h-8.8z"/>
<path fill="#a06e91" d="M286.1 85.1h8.8v1.4h-8.8z"/>
<path fill="#915a82" d="M286.1 90.7h8.8v1.4h-8.8z"/>
<path fill="#965a82" d="M286.1 118.5h8.8v1.4h-8.8zM303.6 138.1h8.8v1.4h-8.8z"/>
<path fill="#a06991" d="M286.1 138.1h8.8v1.4h-8.8z"/>
<path fill="#874673" d="M286.1 150.6h8.8v1.4h-8.8z"/>
<path fill="#91557d" d="M286.1 156.2h8.8v1.4h-8.8zM303.6 186.8h8.8v1.4h-8.8z"/>
<path fill="#9b5a7d" d="M286.1 163.1h8.8v1.4h-8.8z"/>
<path fill="#783c69" d="M294.8 51.7h8.8v1.4h-8.8z"/>
<path fill="#875582" d="M294.8 129.7h8.8v1.4h-8.8z"/>
<path fill="#91648c" d="M294.8 153.4h8.8v1.4h-8.8z"/>
<path fill="#82507d" d="M294.8 175.7h8.8v1.4h-8.8z"/>
<path fill="#73143c" d="M303.6 51.7h8.8v1.4h-8.8zM303.6 58.7h8.8v1.4h-8.8zM303.6 131.1h8.8v1.4h-8.8z"/>
<path fill="#be96b4" d="M303.6 55.9h8.8v1.4h-8.8z"/>
<path fill="#6e1441" d="M303.6 61.4h8.8v1.4h-8.8zM303.6 65.6h8.8v1.4h-8.8zM303.6 101.8h8.8v1.4h-8.8zM303.6 119.9h8.8v1.4h-8.8zM303.6 142.2h8.8v1.4h-8.8z"/>
<path fill="#af82a0" d="M303.6 62.8h8.8v1.4h-8.8z"/>
<path fill="#c896af" d="M303.6 67.0h8.8v1.4h-8.8z"/>
<path fill="#b482a5" d="M303.6 68.4h8.8v1.4h-8.8zM303.6 125.5h8.8v1.4h-8.8z"/>
<path fill="#cda0be" d="M303.6 74.0h8.8v1.4h-8.8z"/>
<path fill="#b487a5" d="M303.6 78.2h8.8v1.4h-8.8z"/>
<path fill="#be91af" d="M303.6 93.5h8.8v1.4h-8.8z"/>
<path fill="#aa7391" d="M303.6 94.9h8.8v1.4h-8.8z"/>
<path fill="#af7896" d="M303.6 103.2h8.8v1.4h-8.8z"/>
<path fill="#c8a0be" d="M303.6 104.6h8.8v1.4h-8.8z"/>
<path fill="#96557d" d="M303.6 121.3h8.8v1.4h-8.8z"/>
<path fill="#af697d" d="M303.6 122.7h8.8v1.4h-8.8z"/>
<path fill="#c89bb4" d="M303.6 124.1h8.8v1.4h-8.8z"/>
<path fill="#a0648c" d="M303.6 126.9h8.8v1.4h-8.8z"/>
<path fill="#73193c" d="M303.6 128.3h8.8v1.4h-8.8z"/>
<path fill="#a56487" d="M303.6 129.7h8.8v1.4h-8.8z"/>
<path fill="#cdaac3" d="M303.6 135.3h8.8v1.4h-8.8zM303.6 171.5h8.8v1.4h-8.8z"/>
<path fill="#cda5be" d="M303.6 156.2h8.8v1.4h-8.8z"/>
<path fill="#d2aac3" d="M303.6 167.3h8.8v1.4h-8.8z"/>
<path fill="#c89bb9" d="M303.6 170.1h8.8v1.4h-8.8z"/>
<path fill="#b987aa" d="M303.6 175.7h8.8v1.4h-8.8z"/>
<path fill="#aa7396" d="M303.6 177.1h8.8v1.4h-8.8z"/>
<path fill="#c39bb9" d="M303.6 182.6h8.8v1.4h-8.8z"/>
<path fill="#781937" d="M303.6 184.0h8.8v1.4h-8.8z"/>
<path fill="#69194b" d="M313.2 48.9h8.6v1.4h-8.6zM330.3 51.7h8.6v1.4h-8.6zM356.0 53.1h8.6v1.4h-8.6z"/>
<path fill="#731e4b" d="M313.2 50.3h8.6v1.4h-8.6z"/>
<path fill="#822846" d="M313.2 51.7h8.6v1.4h-8.6z"/>
<path fill="#912832" d="M313.2 53.1h8.6v1.4h-8.6z"/>
<path fill="#b4462d" d="M313.2 54.5h8.6v1.4h-8.6zM321.8 58.7h8.6v1.4h-8.6zM347.5 62.8h8.6v1.4h-8.6z"/>
<path fill="#7d2346" d="M313.2 55.9h8.6v1.4h-8.6z"/>
<path fill="#aa4137" d="M313.2 57.3h8.6v1.4h-8.6z"/>
<path fill="#b94628" d="M313.2 58.7h8.6v1.4h-8.6zM321.8 72.6h8.6v1.4h-8.6z"/>
<path fill="#c37d78" d="M313.2 60.0h8.6v1.4h-8.6z"/>
<path fill="#be502d" d="M313.2 61.4h8.6v1.4h-8.6z"/>
<path fill="#af4132" d="M313.2 62.8h8.6v1.4h-8.6z"/>
<path fill="#d76419" d="M313.2 64.2h8.6v1.4h-8.6z"/>
<path fill="#dc8c64" d="M313.2 65.6h8.6v1.4h-8.6z"/>
<path fill="#c34b1e" d="M313.2 67.0h8.6v1.4h-8.6zM321.8 64.2h8.6v1.4h-8.6z"/>
<path fill="#cd5a1e" d="M313.2 68.4h8.6v1.4h-8.6zM347.5 64.2h8.6v1.4h-8.6z"/>
<path fill="#cd5a28" d="M313.2 69.8h8.6v1.4h-8.6z"/>
<path fill="#cd7355" d="M313.2 71.2h8.6v1.4h-8.6z"/>
<path fill="#a53c37" d="M313.2 72.6h8.6v1.4h-8.6z"/>
<path fill="#be4b28" d="M313.2 74.0h8.6v1.4h-8.6z"/>
<path fill="#e1966e" d="M313.2 75.4h8.6v1.4h-8.6z"/>
<path fill="#eb912d" d="M313.2 76.8h8.6v1.4h-8.6zM313.2 79.5h8.6v1.4h-8.6z"/>
<path fill="#d2641e" d="M313.2 78.2h8.6v1.4h-8.6z"/>
<path fill="#c8552d" d="M313.2 80.9h8.6v1.4h-8.6z"/>
<path fill="#eb9128" d="M313.2 82.3h8.6v1.4h-8.6zM356.0 79.5h8.6v1.4h-8.6z"/>
<path fill="#f5d7c8" d="M313.2 83.7h8.6v1.4h-8.6z"/>
<path fill="#f0af64" d="M313.2 85.1h8.6v1.4h-8.6z"/>
<path fill="#fae18c" d="M313.2 86.5h8.6v1.4h-8.6z"/>
<path fill="#fff5e6" d="M313.2 87.9h8.6v1.4h-8.6zM313.2 92.1h8.6v1.4h-8.6zM313.2 99.0h8.6v1.4h-8.6zM313.2 101.8h8.6v1.4h-8.6zM321.8 96.3h8.6v1.4h-8.6zM321.8 101.8h8.6v1.4h-8.6zM330.3 96.3h8.6v1.4h-8.6zM338.9 96.3h8.6v1.4h-8.6zM338.9 99.0h8.6v1.4h-8.6zM347.5 92.1h8.6v1.4h-8.6zM347.5 96.3h8.6v1.4h-8.6zM356.0 96.3h8.6v1.4h-8.6zM356.0 101.8h8.6v1.4h-8.6z"/>
<path fill="#fad782" d="M313.2 89.3h8.6v1.4h-8.6zM338.9 86.5h8.6v1.4h-8.6zM347.5 97.7h8.6v1.4h-8.6zM347.5 100.4h8.6v1.4h-8.6z"/>
<path fill="#fffae6" d="M313.2 90.7h8.6v1.4h-8.6zM321.8 94.9h8.6v1.4h-8.6zM330.3 99.0h8.6v1.4h-8.6zM330.3 101.8h8.6v1.4h-8.6zM338.9 101.8h8.6v1.4h-8.6zM347.5 101.8h8.6v1.4h-8.6z"/>
<path fill="#f5e682" d="M313.2 93.5h8.6v1.4h-8.6z"/>
<path fill="#fff5e1" d="M313.2 94.9h8.6v1.4h-8.6zM321.8 87.9h8.6v1.4h-8.6zM330.3 92.1h8.6v1.4h-8.6zM356.0 87.9h8.6v1.4h-8.6zM356.0 99.0h8.6v1.4h-8.6z"/>
<path fill="#fff5dc" d="M313.2 96.3h8.6v1.4h-8.6zM321.8 92.1h8.6v1.4h-8.6zM338.9 87.9h8.6v1.4h-8.6zM347.5 87.9h8.6v1.4h-8.6zM356.0 92.1h8.6v1.4h-8.6z"/>
<path fill="#fae696" d="M313.2 97.7h8.6v1.4h-8.6zM321.8 97.7h8.6v1.4h-8.6z"/>
<path fill="#fadc8c" d="M313.2 100.4h8.6v1.4h-8.6zM356.0 93.5h8.6v1.4h-8.6z"/>
<path fill="#6e2350" d="M321.8 48.9h8.6v1.4h-8.6z"/>
<path fill="#822841" d="M321.8 50.3h8.6v1.4h-8.6z"/>
<path fill="#a0322d" d="M321.8 51.7h8.6v1.4h-8.6z"/>
<path fill="#872337" d="M321.8 53.1h8.6v1.4h-8.6z"/>
<path fill="#82233c" d="M321.8 54.5h8.6v1.4h-8.6z"/>
<path fill="#963737" d="M321.8 55.9h8.6v1.4h-8.6z"/>
<path fill="#aa3c2d" d="M321.8 57.3h8.6v1.4h-8.6zM330.3 54.5h8.6v1.4h-8.6z"/>
<path fill="#aa5f64" d="M321.8 60.0h8.6v1.4h-8.6z"/>
<path fill="#b44128" d="M321.8 61.4h8.6v1.4h-8.6z"/>
<path fill="#9b3232" d="M321.8 62.8h8.6v1.4h-8.6zM338.9 51.7h8.6v1.4h-8.6z"/>
<path fill="#d76928" d="M321.8 65.6h8.6v1.4h-8.6z"/>
<path fill="#e1a087" d="M321.8 67.0h8.6v1.4h-8.6z"/>
<path fill="#cd5a19" d="M321.8 68.4h8.6v1.4h-8.6z"/>
<path fill="#dc9169" d="M321.8 69.8h8.6v1.4h-8.6z"/>
<path fill="#d77d55" d="M321.8 71.2h8.6v1.4h-8.6z"/>
<path fill="#a0372d" d="M321.8 74.0h8.6v1.4h-8.6z"/>
<path fill="#f0b982" d="M321.8 75.4h8.6v1.4h-8.6z"/>
<path fill="#cd5a23" d="M321.8 76.8h8.6v1.4h-8.6zM330.3 68.4h8.6v1.4h-8.6z"/>
<path fill="#e1731e" d="M321.8 78.2h8.6v1.4h-8.6z"/>
<path fill="#f0af78" d="M321.8 79.5h8.6v1.4h-8.6zM338.9 68.4h8.6v1.4h-8.6z"/>
<path fill="#e69150" d="M321.8 80.9h8.6v1.4h-8.6z"/>
<path fill="#dc6e1e" d="M321.8 82.3h8.6v1.4h-8.6z"/>
<path fill="#fadcc3" d="M321.8 83.7h8.6v1.4h-8.6z"/>
<path fill="#f5be5f" d="M321.8 85.1h8.6v1.4h-8.6z"/>
<path fill="#f5d278" d="M321.8 86.5h8.6v1.4h-8.6z"/>
<path fill="#fad787" d="M321.8 89.3h8.6v1.4h-8.6z"/>
<path fill="#fff5d7" d="M321.8 90.7h8.6v1.4h-8.6zM330.3 90.7h8.6v1.4h-8.6zM347.5 94.9h8.6v1.4h-8.6z"/>
<path fill="#fadc87" d="M321.8 93.5h8.6v1.4h-8.6z"/>
<path fill="#fffaeb" d="M321.8 99.0h8.6v1.4h-8.6zM330.3 94.9h8.6v1.4h-8.6zM338.9 90.7h8.6v1.4h-8.6zM338.9 92.1h8.6v1.4h-8.6zM338.9 94.9h8.6v1.4h-8.6zM347.5 90.7h8.6v1.4h-8.6zM347.5 99.0h8.6v1.4h-8.6zM356.0 90.7h8.6v1.4h-8.6zM356.0 94.9h8.6v1.4h-8.6z"/>
<path fill="#fad77d" d="M321.8 100.4h8.6v1.4h-8.6zM347.5 89.3h8.6v1.4h-8.6z"/>
<path fill="#a07896" d="M330.3 48.9h8.6v1.4h-8.6z"/>
<path fill="#692350" d="M330.3 50.3h8.6v1.4h-8.6z"/>
<path fill="#5f1446" d="M330.3 53.1h8.6v1.4h-8.6z"/>
<path fill="#6e1946" d="M330.3 55.9h8.6v1.4h-8.6z"/>
<path fill="#a03732" d="M330.3 57.3h8.6v1.4h-8.6z"/>
<path fill="#af3c23" d="M330.3 58.7h8.6v1.4h-8.6z"/>
<path fill="#aa5a5f" d="M330.3 60.0h8.6v1.4h-8.6z"/>
<path fill="#691946" d="M330.3 61.4h8.6v1.4h-8.6z"/>
<path fill="#aa3c28" d="M330.3 62.8h8.6v1.4h-8.6z"/>
<path fill="#b94b2d" d="M330.3 64.2h8.6v1.4h-8.6z"/>
<path fill="#dc7328" d="M330.3 65.6h8.6v1.4h-8.6zM330.3 80.9h8.6v1.4h-8.6z"/>
<path fill="#b44b32" d="M330.3 67.0h8.6v1.4h-8.6z"/>
<path fill="#d76423" d="M330.3 69.8h8.6v1.4h-8.6z"/>
<path fill="#d28778" d="M330.3 71.2h8.6v1.4h-8.6z"/>
<path fill="#87283c" d="M330.3 72.6h8.6v1.4h-8.6z"/>
<path fill="#d28269" d="M330.3 74.0h8.6v1.4h-8.6z"/>
<path fill="#be7369" d="M330.3 75.4h8.6v1.4h-8.6z"/>
<path fill="#e68723" d="M330.3 76.8h8.6v1.4h-8.6z"/>
<path fill="#be461e" d="M330.3 78.2h8.6v1.4h-8.6zM347.5 58.7h8.6v1.4h-8.6z"/>
<path fill="#e67d1e" d="M330.3 79.5h8.6v1.4h-8.6z"/>
<path fill="#e68228" d="M330.3 82.3h8.6v1.4h-8.6zM338.9 65.6h8.6v1.4h-8.6z"/>
<path fill="#fae6cd" d="M330.3 83.7h8.6v1.4h-8.6z"/>
<path fill="#f5b973" d="M330.3 85.1h8.6v1.4h-8.6z"/>
<path fill="#f5cd64" d="M330.3 86.5h8.6v1.4h-8.6z"/>
<path fill="#fff0d2" d="M330.3 87.9h8.6v1.4h-8.6z"/>
<path fill="#fad78c" d="M330.3 89.3h8.6v1.4h-8.6z"/>
<path fill="#f5d269" d="M330.3 93.5h8.6v1.4h-8.6z"/>
<path fill="#faeba0" d="M330.3 97.7h8.6v1.4h-8.6z"/>
<path fill="#f5d773" d="M330.3 100.4h8.6v1.4h-8.6zM347.5 86.5h8.6v1.4h-8.6zM356.0 100.4h8.6v1.4h-8.6z"/>
<path fill="#7d284b" d="M338.9 48.9h8.6v1.4h-8.6zM338.9 55.9h8.6v1.4h-8.6z"/>
<path fill="#5f194b" d="M338.9 50.3h8.6v1.4h-8.6z"/>
<path fill="#b98791" d="M338.9 53.1h8.6v1.4h-8.6z"/>
<path fill="#c85528" d="M338.9 54.5h8.6v1.4h-8.6zM347.5 69.8h8.6v1.4h-8.6z"/>
<path fill="#962d2d" d="M338.9 57.3h8.6v1.4h-8.6z"/>
<path fill="#be6955" d="M338.9 58.7h8.6v1.4h-8.6z"/>
<path fill="#be7d78" d="M338.9 60.0h8.6v1.4h-8.6z"/>
<path fill="#b94623" d="M338.9 61.4h8.6v1.4h-8.6z"/>
<path fill="#aa4637" d="M338.9 62.8h8.6v1.4h-8.6z"/>
<path fill="#cd5f28" d="M338.9 64.2h8.6v1.4h-8.6z"/>
<path fill="#cd5a2d" d="M338.9 67.0h8.6v1.4h-8.6z"/>
<path fill="#b44123" d="M338.9 69.8h8.6v1.4h-8.6z"/>
<path fill="#d2826e" d="M338.9 71.2h8.6v1.4h-8.6z"/>
<path fill="#cd5523" d="M338.9 72.6h8.6v1.4h-8.6z"/>
<path fill="#dc732d" d="M338.9 74.0h8.6v1.4h-8.6z"/>
<path fill="#c86e50" d="M338.9 75.4h8.6v1.4h-8.6z"/>
<path fill="#e6a06e" d="M338.9 76.8h8.6v1.4h-8.6zM347.5 75.4h8.6v1.4h-8.6z"/>
<path fill="#a53c32" d="M338.9 78.2h8.6v1.4h-8.6z"/>
<path fill="#c35023" d="M338.9 79.5h8.6v1.4h-8.6z"/>
<path fill="#dc6919" d="M338.9 80.9h8.6v1.4h-8.6z"/>
<path fill="#c85a2d" d="M338.9 82.3h8.6v1.4h-8.6z"/>
<path fill="#fff0e6" d="M338.9 83.7h8.6v1.4h-8.6z"/>
<path fill="#f5be78" d="M338.9 85.1h8.6v1.4h-8.6z"/>
<path fill="#f5cd69" d="M338.9 89.3h8.6v1.4h-8.6z"/>
<path fill="#fae196" d="M338.9 93.5h8.6v1.4h-8.6zM356.0 97.7h8.6v1.4h-8.6z"/>
<path fill="#fadc78" d="M338.9 97.7h8.6v1.4h-8.6z"/>
<path fill="#f5be6e" d="M338.9 100.4h8.6v1.4h-8.6z"/>
<path fill="#782346" d="M347.5 48.9h8.6v1.4h-8.6zM356.0 67.0h8.6v1.4h-8.6z"/>
<path fill="#7d1e41" d="M347.5 50.3h8.6v1.4h-8.6z"/>
<path fill="#7d1e3c" d="M347.5 51.7h8.6v1.4h-8.6z"/>
<path fill="#9b322d" d="M347.5 53.1h8.6v1.4h-8.6z"/>
<path fill="#d27350" d="M347.5 54.5h8.6v1.4h-8.6zM391.4 51.7h8.4v1.4h-8.4z"/>
<path fill="#96373c" d="M347.5 55.9h8.6v1.4h-8.6z"/>
<path fill="#c35028" d="M347.5 57.3h8.6v1.4h-8.6z"/>
<path fill="#cd877d" d="M347.5 60.0h8.6v1.4h-8.6z"/>
<path fill="#b44b37" d="M347.5 61.4h8.6v1.4h-8.6z"/>
<path fill="#eb8c23" d="M347.5 65.6h8.6v1.4h-8.6z"/>
<path fill="#b94b32" d="M347.5 67.0h8.6v1.4h-8.6z"/>
<path fill="#e17828" d="M347.5 68.4h8.6v1.4h-8.6z"/>
<path fill="#e19b78" d="M347.5 71.2h8.6v1.4h-8.6z"/>
<path fill="#b94123" d="M347.5 72.6h8.6v1.4h-8.6z"/>
<path fill="#be4628" d="M347.5 74.0h8.6v1.4h-8.6z"/>
<path fill="#d25f1e" d="M347.5 76.8h8.6v1.4h-8.6z"/>
<path fill="#d26423" d="M347.5 78.2h8.6v1.4h-8.6z"/>
<path fill="#f0af69" d="M347.5 79.5h8.6v1.4h-8.6z"/>
<path fill="#e1a582" d="M347.5 80.9h8.6v1.4h-8.6z"/>
<path fill="#e69b6e" d="M347.5 82.3h8.6v1.4h-8.6z"/>
<path fill="#fae6d2" d="M347.5 83.7h8.6v1.4h-8.6z"/>
<path fill="#f0a041" d="M347.5 85.1h8.6v1.4h-8.6zM374.6 61.4h8.4v1.4h-8.4z"/>
<path fill="#fae187" d="M347.5 93.5h8.6v1.4h-8.6z"/>
<path fill="#78557d" d="M356.0 48.9h8.6v1.4h-8.6z"/>
<path fill="#461450" d="M356.0 50.3h8.6v1.4h-8.6zM356.0 51.7h8.6v1.4h-8.6z"/>
<path fill="#78284b" d="M356.0 54.5h8.6v1.4h-8.6z"/>
<path fill="#692355" d="M356.0 55.9h8.6v1.4h-8.6z"/>
<path fill="#8c2d46" d="M356.0 57.3h8.6v1.4h-8.6z"/>
<path fill="#691e4b" d="M356.0 58.7h8.6v1.4h-8.6z"/>
<path fill="#a57891" d="M356.0 60.0h8.6v1.4h-8.6z"/>
<path fill="#732350" d="M356.0 61.4h8.6v1.4h-8.6z"/>
<path fill="#6e1e50" d="M356.0 62.8h8.6v1.4h-8.6z"/>
<path fill="#a56978" d="M356.0 64.2h8.6v1.4h-8.6z"/>
<path fill="#912d37" d="M356.0 65.6h8.6v1.4h-8.6z"/>
<path fill="#912d3c" d="M356.0 68.4h8.6v1.4h-8.6z"/>
<path fill="#7d2846" d="M356.0 69.8h8.6v1.4h-8.6z"/>
<path fill="#a55f69" d="M356.0 71.2h8.6v1.4h-8.6z"/>
<path fill="#a53728" d="M356.0 72.6h8.6v1.4h-8.6z"/>
<path fill="#b44632" d="M356.0 74.0h8.6v1.4h-8.6z"/>
<path fill="#d7825f" d="M356.0 75.4h8.6v1.4h-8.6z"/>
<path fill="#dc6e23" d="M356.0 76.8h8.6v1.4h-8.6z"/>
<path fill="#eb9b55" d="M356.0 78.2h8.6v1.4h-8.6z"/>
<path fill="#e19b73" d="M356.0 80.9h8.6v1.4h-8.6z"/>
<path fill="#dc6e28" d="M356.0 82.3h8.6v1.4h-8.6z"/>
<path fill="#f0cdb4" d="M356.0 83.7h8.6v1.4h-8.6z"/>
<path fill="#f5c36e" d="M356.0 85.1h8.6v1.4h-8.6z"/>
<path fill="#f5d273" d="M356.0 86.5h8.6v1.4h-8.6z"/>
<path fill="#f5cd6e" d="M356.0 89.3h8.6v1.4h-8.6z"/>
<path fill="#b46e73" d="M366.2 48.9h8.4v1.4h-8.4zM366.2 50.3h8.4v1.4h-8.4zM374.6 48.9h8.4v1.4h-8.4zM374.6 50.3h8.4v1.4h-8.4zM383.0 48.9h8.4v1.4h-8.4zM383.0 50.3h8.4v1.4h-8.4zM391.4 48.9h8.4v1.4h-8.4zM391.4 50.3h8.4v1.4h-8.4z"/>
<path fill="#af4b3c" d="M366.2 51.7h8.4v1.4h-8.4z"/>
<path fill="#913c55" d="M366.2 53.1h8.4v1.4h-8.4z"/>
<path fill="#ebaf8c" d="M366.2 54.5h8.4v1.4h-8.4z"/>
<path fill="#a54b50" d="M366.2 55.9h8.4v1.4h-8.4z"/>
<path fill="#f0a050" d="M366.2 57.3h8.4v1.4h-8.4z"/>
<path fill="#ebb9a0" d="M366.2 58.7h8.4v1.4h-8.4z"/>
<path fill="#eb9650" d="M366.2 60.0h8.4v1.4h-8.4z"/>
<path fill="#e68237" d="M366.2 61.4h8.4v1.4h-8.4z"/>
<path fill="#f0bea0" d="M366.2 62.8h8.4v1.4h-8.4z"/>
<path fill="#c36446" d="M366.2 64.2h8.4v1.4h-8.4zM383.0 60.0h8.4v1.4h-8.4z"/>
<path fill="#dc7d4b" d="M366.2 65.6h8.4v1.4h-8.4z"/>
<path fill="#fad2a5" d="M366.2 67.0h8.4v1.4h-8.4z"/>
<path fill="#dc7d46" d="M366.2 68.4h8.4v1.4h-8.4z"/>
<path fill="#e68c37" d="M366.2 69.8h8.4v1.4h-8.4z"/>
<path fill="#ebaf91" d="M366.2 71.2h8.4v1.4h-8.4z"/>
<path fill="#eb964b" d="M366.2 72.6h8.4v1.4h-8.4z"/>
<path fill="#f5c8a0" d="M366.2 74.0h8.4v1.4h-8.4zM383.0 74.0h8.4v1.4h-8.4zM383.0 78.2h8.4v1.4h-8.4z"/>
<path fill="#fad7b4" d="M366.2 75.4h8.4v1.4h-8.4z"/>
<path fill="#fae1c8" d="M366.2 76.8h8.4v1.4h-8.4z"/>
<path fill="#fadcbe" d="M366.2 78.2h8.4v1.4h-8.4zM374.6 76.8h8.4v1.4h-8.4zM374.6 78.2h8.4v1.4h-8.4zM391.4 75.4h8.4v1.4h-8.4z"/>
<path fill="#faebb4" d="M366.2 79.5h8.4v1.4h-8.4z"/>
<path fill="#fae6af" d="M366.2 93.5h8.4v1.4h-8.4z"/>
<path fill="#dc8250" d="M374.6 51.7h8.4v1.4h-8.4z"/>
<path fill="#c86950" d="M374.6 53.1h8.4v1.4h-8.4z"/>
<path fill="#f0b996" d="M374.6 54.5h8.4v1.4h-8.4z"/>
<path fill="#a5555f" d="M374.6 55.9h8.4v1.4h-8.4z"/>
<path fill="#d7733c" d="M374.6 57.3h8.4v1.4h-8.4z"/>
<path fill="#f0b487" d="M374.6 58.7h8.4v1.4h-8.4z"/>
<path fill="#e68c41" d="M374.6 60.0h8.4v1.4h-8.4z"/>
<path fill="#e6aa91" d="M374.6 62.8h8.4v1.4h-8.4z"/>
<path fill="#eb9146" d="M374.6 64.2h8.4v1.4h-8.4zM374.6 69.8h8.4v1.4h-8.4z"/>
<path fill="#d77841" d="M374.6 65.6h8.4v1.4h-8.4z"/>
<path fill="#facd9b" d="M374.6 67.0h8.4v1.4h-8.4z"/>
<path fill="#b96455" d="M374.6 68.4h8.4v1.4h-8.4z"/>
<path fill="#ebbea5" d="M374.6 71.2h8.4v1.4h-8.4z"/>
<path fill="#e68737" d="M374.6 72.6h8.4v1.4h-8.4z"/>
<path fill="#fad7be" d="M374.6 74.0h8.4v1.4h-8.4z"/>
<path fill="#f5cdaa" d="M374.6 75.4h8.4v1.4h-8.4zM391.4 74.0h8.4v1.4h-8.4z"/>
<path fill="#be5a41" d="M383.0 51.7h8.4v1.4h-8.4z"/>
<path fill="#aa5a64" d="M383.0 53.1h8.4v1.4h-8.4z"/>
<path fill="#e6af9b" d="M383.0 54.5h8.4v1.4h-8.4z"/>
<path fill="#914b69" d="M383.0 55.9h8.4v1.4h-8.4z"/>
<path fill="#8c3c5a" d="M383.0 57.3h8.4v1.4h-8.4z"/>
<path fill="#d2a0a0" d="M383.0 58.7h8.4v1.4h-8.4z"/>
<path fill="#b95f50" d="M383.0 61.4h8.4v1.4h-8.4z"/>
<path fill="#e1afa0" d="M383.0 62.8h8.4v1.4h-8.4z"/>
<path fill="#a55a64" d="M383.0 64.2h8.4v1.4h-8.4z"/>
<path fill="#b9645a" d="M383.0 65.6h8.4v1.4h-8.4z"/>
<path fill="#ebb9a5" d="M383.0 67.0h8.4v1.4h-8.4z"/>
<path fill="#aa5550" d="M383.0 68.4h8.4v1.4h-8.4z"/>
<path fill="#aa555a" d="M383.0 69.8h8.4v1.4h-8.4z"/>
<path fill="#e1aa91" d="M383.0 71.2h8.4v1.4h-8.4z"/>
<path fill="#a0505f" d="M383.0 72.6h8.4v1.4h-8.4z"/>
<path fill="#f5d2b4" d="M383.0 75.4h8.4v1.4h-8.4z"/>
<path fill="#f5c89b" d="M383.0 76.8h8.4v1.4h-8.4z"/>
<path fill="#7d375f" d="M391.4 53.1h8.4v1.4h-8.4z"/>
<path fill="#cd9696" d="M391.4 54.5h8.4v1.4h-8.4z"/>
<path fill="#a05564" d="M391.4 55.9h8.4v1.4h-8.4z"/>
<path fill="#d26e3c" d="M391.4 57.3h8.4v1.4h-8.4z"/>
<path fill="#c89196" d="M391.4 58.7h8.4v1.4h-8.4z"/>
<path fill="#c35f41" d="M391.4 60.0h8.4v1.4h-8.4z"/>
<path fill="#cd643c" d="M391.4 61.4h8.4v1.4h-8.4z"/>
<path fill="#dcafaa" d="M391.4 62.8h8.4v1.4h-8.4z"/>
<path fill="#d77d50" d="M391.4 64.2h8.4v1.4h-8.4z"/>
<path fill="#d26e41" d="M391.4 65.6h8.4v1.4h-8.4z"/>
<path fill="#d7a5a0" d="M391.4 67.0h8.4v1.4h-8.4z"/>
<path fill="#be5f46" d="M391.4 68.4h8.4v1.4h-8.4z"/>
<path fill="#964150" d="M391.4 69.8h8.4v1.4h-8.4z"/>
<path fill="#d7a59b" d="M391.4 71.2h8.4v1.4h-8.4z"/>
<path fill="#aa4b4b" d="M391.4 72.6h8.4v1.4h-8.4z"/>
<path fill="#f5d2af" d="M391.4 76.8h8.4v1.4h-8.4z"/>
<path fill="#f5cda5" d="M391.4 78.2h8.4v1.4h-8.4z"/>
<path fill="#fae6aa" d="M391.4 86.5h8.4v1.4h-8.4z"/>
<path fill="#fae6a5" d="M391.4 87.9h8.4v1.4h-8.4z"/>
<path fill="#f5e1c8" d="M370.0 175.0h12.0v1.0h-12.0z"/>
<path fill="#eb9646" d="M392.0 181.8h8.0v1.1h-8.0z"/>
<path fill="#d7783c" d="M372.0 185.8h8.0v1.1h-8.0z"/>
<path fill="#550f46" d="M7.5 250.6h7.9v1.4h-7.9zM7.5 300.6h7.9v1.4h-7.9zM7.5 317.3h7.9v1.4h-7.9zM15.4 253.4h7.9v1.4h-7.9zM15.4 258.9h7.9v1.4h-7.9zM15.4 267.3h7.9v1.4h-7.9zM15.4 307.6h7.9v1.4h-7.9zM15.4 320.1h7.9v1.4h-7.9zM15.4 324.3h7.9v1.4h-7.9zM15.4 332.6h7.9v1.4h-7.9zM15.4 336.8h7.9v1.4h-7.9zM15.4 338.2h7.9v1.4h-7.9zM15.4 341.0h7.9v1.4h-7.9zM15.4 342.3h7.9v1.4h-7.9zM15.4 347.9h7.9v1.4h-7.9zM15.4 349.3h7.9v1.4h-7.9zM15.4 368.8h7.9v1.4h-7.9zM15.4 374.3h7.9v1.4h-7.9zM15.4 375.7h7.9v1.4h-7.9zM15.4 382.7h7.9v1.4h-7.9zM15.4 385.4h7.9v1.4h-7.9zM23.3 257.6h7.9v1.4h-7.9zM23.3 263.1h7.9v1.4h-7.9zM23.3 268.7h7.9v1.4h-7.9zM23.3 271.4h7.9v1.4h-7.9zM23.3 278.4h7.9v1.4h-7.9zM23.3 282.6h7.9v1.4h-7.9zM23.3 286.7h7.9v1.4h-7.9zM23.3 289.5h7.9v1.4h-7.9zM23.3 302.0h7.9v1.4h-7.9zM23.3 320.1h7.9v1.4h-7.9zM23.3 329.8h7.9v1.4h-7.9zM23.3 345.1h7.9v1.4h-7.9zM23.3 352.1h7.9v1.4h-7.9zM23.3 354.9h7.9v1.4h-7.9zM23.3 366.0h7.9v1.4h-7.9zM23.3 377.1h7.9v1.4h-7.9zM23.3 378.5h7.9v1.4h-7.9zM40.3 250.6h7.6v1.4h-7.6zM40.3 260.3h7.6v1.4h-7.6zM40.3 264.5h7.6v1.4h-7.6zM40.3 279.8h7.6v1.4h-7.6zM47.9 253.4h7.6v1.4h-7.6zM47.9 275.6h7.6v1.4h-7.6zM55.5 253.4h7.6v1.4h-7.6zM55.5 256.2h7.6v1.4h-7.6zM55.5 263.1h7.6v1.4h-7.6zM63.1 254.8h7.6v1.4h-7.6zM63.1 256.2h7.6v1.4h-7.6zM63.1 268.7h7.6v1.4h-7.6zM63.1 274.2h7.6v1.4h-7.6zM63.1 277.0h7.6v1.4h-7.6zM63.1 279.8h7.6v1.4h-7.6zM63.1 281.2h7.6v1.4h-7.6zM63.1 284.0h7.6v1.4h-7.6zM70.8 252.0h7.6v1.4h-7.6zM70.8 271.4h7.6v1.4h-7.6zM70.8 275.6h7.6v1.4h-7.6zM70.8 278.4h7.6v1.4h-7.6zM70.8 284.0h7.6v1.4h-7.6zM70.8 310.4h7.6v1.4h-7.6zM70.8 322.9h7.6v1.4h-7.6zM70.8 334.0h7.6v1.4h-7.6zM70.8 366.0h7.6v1.4h-7.6zM70.8 374.3h7.6v1.4h-7.6zM78.4 253.4h7.6v1.4h-7.6zM78.4 254.8h7.6v1.4h-7.6zM78.4 258.9h7.6v1.4h-7.6zM78.4 260.3h7.6v1.4h-7.6zM78.4 281.2h7.6v1.4h-7.6zM78.4 285.4h7.6v1.4h-7.6zM78.4 290.9h7.6v1.4h-7.6zM78.4 299.2h7.6v1.4h-7.6zM78.4 302.0h7.6v1.4h-7.6zM78.4 306.2h7.6v1.4h-7.6zM78.4 315.9h7.6v1.4h-7.6zM78.4 322.9h7.6v1.4h-7.6zM78.4 353.5h7.6v1.4h-7.6zM78.4 364.6h7.6v1.4h-7.6zM78.4 368.8h7.6v1.4h-7.6zM103.2 278.4h7.8v1.4h-7.8zM111.0 265.9h7.8v1.4h-7.8z"/>
<path fill="#410a4b" d="M7.5 252.0h7.9v1.4h-7.9zM7.5 281.2h7.9v1.4h-7.9zM7.5 322.9h7.9v1.4h-7.9zM7.5 331.2h7.9v1.4h-7.9zM7.5 349.3h7.9v1.4h-7.9zM7.5 356.2h7.9v1.4h-7.9zM7.5 366.0h7.9v1.4h-7.9zM7.5 368.8h7.9v1.4h-7.9zM7.5 385.4h7.9v1.4h-7.9zM55.5 261.7h7.6v1.4h-7.6zM70.8 256.2h7.6v1.4h-7.6zM78.4 263.1h7.6v1.4h-7.6zM78.4 300.6h7.6v1.4h-7.6z"/>
<path fill="#b996b9" d="M7.5 253.4h7.9v1.4h-7.9z"/>
<path fill="#500f46" d="M7.5 254.8h7.9v1.4h-7.9zM7.5 257.6h7.9v1.4h-7.9zM7.5 258.9h7.9v1.4h-7.9zM7.5 318.7h7.9v1.4h-7.9zM7.5 320.1h7.9v1.4h-7.9zM7.5 346.5h7.9v1.4h-7.9zM7.5 350.7h7.9v1.4h-7.9zM7.5 352.1h7.9v1.4h-7.9zM7.5 354.9h7.9v1.4h-7.9zM7.5 374.3h7.9v1.4h-7.9zM7.5 382.7h7.9v1.4h-7.9zM23.3 253.4h7.9v1.4h-7.9zM23.3 254.8h7.9v1.4h-7.9zM23.3 256.2h7.9v1.4h-7.9zM23.3 258.9h7.9v1.4h-7.9zM23.3 261.7h7.9v1.4h-7.9zM23.3 270.1h7.9v1.4h-7.9zM23.3 275.6h7.9v1.4h-7.9zM23.3 277.0h7.9v1.4h-7.9zM23.3 279.8h7.9v1.4h-7.9zM23.3 290.9h7.9v1.4h-7.9zM23.3 296.5h7.9v1.4h-7.9zM23.3 300.6h7.9v1.4h-7.9zM23.3 303.4h7.9v1.4h-7.9zM23.3 311.8h7.9v1.4h-7.9zM23.3 317.3h7.9v1.4h-7.9zM23.3 322.9h7.9v1.4h-7.9zM23.3 325.7h7.9v1.4h-7.9zM23.3 328.4h7.9v1.4h-7.9zM23.3 334.0h7.9v1.4h-7.9zM23.3 335.4h7.9v1.4h-7.9zM23.3 338.2h7.9v1.4h-7.9zM23.3 341.0h7.9v1.4h-7.9zM23.3 347.9h7.9v1.4h-7.9zM23.3 363.2h7.9v1.4h-7.9zM23.3 367.4h7.9v1.4h-7.9zM23.3 371.5h7.9v1.4h-7.9zM23.3 372.9h7.9v1.4h-7.9zM23.3 375.7h7.9v1.4h-7.9zM23.3 379.9h7.9v1.4h-7.9zM23.3 385.4h7.9v1.4h-7.9zM40.3 282.6h7.6v1.4h-7.6zM40.3 300.6h7.6v1.4h-7.6zM47.9 264.5h7.6v1.4h-7.6zM55.5 277.0h7.6v1.4h-7.6zM63.1 250.6h7.6v1.4h-7.6zM63.1 252.0h7.6v1.4h-7.6zM63.1 272.8h7.6v1.4h-7.6zM63.1 282.6h7.6v1.4h-7.6zM70.8 253.4h7.6v1.4h-7.6zM70.8 260.3h7.6v1.4h-7.6zM70.8 268.7h7.6v1.4h-7.6zM70.8 272.8h7.6v1.4h-7.6zM70.8 274.2h7.6v1.4h-7.6zM70.8 277.0h7.6v1.4h-7.6zM70.8 281.2h7.6v1.4h-7.6zM70.8 282.6h7.6v1.4h-7.6zM70.8 286.7h7.6v1.4h-7.6zM70.8 289.5h7.6v1.4h-7.6zM70.8 297.9h7.6v1.4h-7.6zM70.8 313.2h7.6v1.4h-7.6zM70.8 324.3h7.6v1.4h-7.6zM70.8 338.2h7.6v1.4h-7.6zM78.4 252.0h7.6v1.4h-7.6zM78.4 264.5h7.6v1.4h-7.6zM78.4 270.1h7.6v1.4h-7.6zM78.4 271.4h7.6v1.4h-7.6zM78.4 274.2h7.6v1.4h-7.6zM78.4 289.5h7.6v1.4h-7.6zM78.4 296.5h7.6v1.4h-7.6zM78.4 297.9h7.6v1.4h-7.6zM78.4 303.4h7.6v1.4h-7.6zM78.4 325.7h7.6v1.4h-7.6zM78.4 352.1h7.6v1.4h-7.6zM78.4 357.6h7.6v1.4h-7.6zM103.2 272.8h7.8v1.4h-7.8zM103.2 290.9h7.8v1.4h-7.8zM111.0 272.8h7.8v1.4h-7.8zM111.0 281.2h7.8v1.4h-7.8zM111.0 282.6h7.8v1.4h-7.8z"/>
<path fill="#410a46" d="M7.5 256.2h7.9v1.4h-7.9zM7.5 278.4h7.9v1.4h-7.9zM7.5 295.1h7.9v1.4h-7.9zM7.5 297.9h7.9v1.4h-7.9zM7.5 302.0h7.9v1.4h-7.9zM7.5 321.5h7.9v1.4h-7.9zM7.5 336.8h7.9v1.4h-7.9zM7.5 341.0h7.9v1.4h-7.9zM7.5 347.9h7.9v1.4h-7.9zM7.5 388.2h7.9v1.4h-7.9zM63.1 257.6h7.6v1.4h-7.6zM70.8 309.0h7.6v1.4h-7.6zM78.4 282.6h7.6v1.4h-7.6z"/>
<path fill="#4b0a46" d="M7.5 260.3h7.9v1.4h-7.9zM7.5 261.7h7.9v1.4h-7.9zM7.5 263.1h7.9v1.4h-7.9zM7.5 265.9h7.9v1.4h-7.9zM7.5 268.7h7.9v1.4h-7.9zM7.5 279.8h7.9v1.4h-7.9zM7.5 290.9h7.9v1.4h-7.9zM7.5 292.3h7.9v1.4h-7.9zM7.5 293.7h7.9v1.4h-7.9zM7.5 296.5h7.9v1.4h-7.9zM7.5 307.6h7.9v1.4h-7.9zM7.5 310.4h7.9v1.4h-7.9zM7.5 311.8h7.9v1.4h-7.9zM7.5 313.2h7.9v1.4h-7.9zM7.5 315.9h7.9v1.4h-7.9zM7.5 324.3h7.9v1.4h-7.9zM7.5 332.6h7.9v1.4h-7.9zM7.5 335.4h7.9v1.4h-7.9zM7.5 339.6h7.9v1.4h-7.9zM7.5 343.7h7.9v1.4h-7.9zM7.5 345.1h7.9v1.4h-7.9zM7.5 361.8h7.9v1.4h-7.9zM7.5 370.1h7.9v1.4h-7.9zM7.5 381.3h7.9v1.4h-7.9zM23.3 260.3h7.9v1.4h-7.9zM23.3 264.5h7.9v1.4h-7.9zM23.3 267.3h7.9v1.4h-7.9zM23.3 272.8h7.9v1.4h-7.9zM23.3 274.2h7.9v1.4h-7.9zM23.3 281.2h7.9v1.4h-7.9zM23.3 285.4h7.9v1.4h-7.9zM23.3 292.3h7.9v1.4h-7.9zM23.3 293.7h7.9v1.4h-7.9zM23.3 309.0h7.9v1.4h-7.9zM23.3 313.2h7.9v1.4h-7.9zM23.3 314.5h7.9v1.4h-7.9zM23.3 318.7h7.9v1.4h-7.9zM23.3 321.5h7.9v1.4h-7.9zM23.3 324.3h7.9v1.4h-7.9zM23.3 336.8h7.9v1.4h-7.9zM23.3 343.7h7.9v1.4h-7.9zM23.3 361.8h7.9v1.4h-7.9zM23.3 374.3h7.9v1.4h-7.9zM23.3 384.0h7.9v1.4h-7.9zM23.3 386.8h7.9v1.4h-7.9zM40.3 256.2h7.6v1.4h-7.6zM40.3 270.1h7.6v1.4h-7.6zM40.3 277.0h7.6v1.4h-7.6zM63.1 264.5h7.6v1.4h-7.6zM63.1 270.1h7.6v1.4h-7.6zM70.8 270.1h7.6v1.4h-7.6zM70.8 302.0h7.6v1.4h-7.6zM70.8 311.8h7.6v1.4h-7.6zM78.4 272.8h7.6v1.4h-7.6zM78.4 311.8h7.6v1.4h-7.6zM78.4 313.2h7.6v1.4h-7.6zM78.4 324.3h7.6v1.4h-7.6zM111.0 268.7h7.8v1.4h-7.8z"/>
<path fill="#460a46" d="M7.5 264.5h7.9v1.4h-7.9zM7.5 267.3h7.9v1.4h-7.9zM7.5 271.4h7.9v1.4h-7.9zM7.5 272.8h7.9v1.4h-7.9zM7.5 274.2h7.9v1.4h-7.9zM7.5 277.0h7.9v1.4h-7.9zM7.5 282.6h7.9v1.4h-7.9zM7.5 284.0h7.9v1.4h-7.9zM7.5 285.4h7.9v1.4h-7.9zM7.5 286.7h7.9v1.4h-7.9zM7.5 288.1h7.9v1.4h-7.9zM7.5 289.5h7.9v1.4h-7.9zM7.5 299.2h7.9v1.4h-7.9zM7.5 303.4h7.9v1.4h-7.9zM7.5 306.2h7.9v1.4h-7.9zM7.5 309.0h7.9v1.4h-7.9zM7.5 314.5h7.9v1.4h-7.9zM7.5 325.7h7.9v1.4h-7.9zM7.5 327.1h7.9v1.4h-7.9zM7.5 328.4h7.9v1.4h-7.9zM7.5 329.8h7.9v1.4h-7.9zM7.5 334.0h7.9v1.4h-7.9zM7.5 338.2h7.9v1.4h-7.9zM7.5 342.3h7.9v1.4h-7.9zM7.5 353.5h7.9v1.4h-7.9zM7.5 357.6h7.9v1.4h-7.9zM7.5 359.0h7.9v1.4h-7.9zM7.5 363.2h7.9v1.4h-7.9zM7.5 364.6h7.9v1.4h-7.9zM7.5 367.4h7.9v1.4h-7.9zM7.5 371.5h7.9v1.4h-7.9zM7.5 372.9h7.9v1.4h-7.9zM7.5 377.1h7.9v1.4h-7.9zM7.5 379.9h7.9v1.4h-7.9zM7.5 384.0h7.9v1.4h-7.9zM7.5 386.8h7.9v1.4h-7.9zM40.3 261.7h7.6v1.4h-7.6zM40.3 263.1h7.6v1.4h-7.6zM47.9 257.6h7.6v1.4h-7.6zM47.9 261.7h7.6v1.4h-7.6zM63.1 261.7h7.6v1.4h-7.6zM63.1 263.1h7.6v1.4h-7.6zM70.8 279.8h7.6v1.4h-7.6zM70.8 296.5h7.6v1.4h-7.6zM70.8 300.6h7.6v1.4h-7.6zM70.8 307.6h7.6v1.4h-7.6zM70.8 329.8h7.6v1.4h-7.6zM70.8 341.0h7.6v1.4h-7.6zM70.8 343.7h7.6v1.4h-7.6zM70.8 357.6h7.6v1.4h-7.6zM78.4 268.7h7.6v1.4h-7.6zM78.4 275.6h7.6v1.4h-7.6zM78.4 284.0h7.6v1.4h-7.6zM78.4 309.0h7.6v1.4h-7.6zM78.4 329.8h7.6v1.4h-7.6zM111.0 256.2h7.8v1.4h-7.8z"/>
<path fill="#9b6e96" d="M7.5 270.1h7.9v1.4h-7.9z"/>
<path fill="#4b0f46" d="M7.5 275.6h7.9v1.4h-7.9zM7.5 304.8h7.9v1.4h-7.9zM7.5 360.4h7.9v1.4h-7.9zM7.5 375.7h7.9v1.4h-7.9zM23.3 295.1h7.9v1.4h-7.9zM23.3 299.2h7.9v1.4h-7.9zM23.3 304.8h7.9v1.4h-7.9zM23.3 306.2h7.9v1.4h-7.9zM23.3 315.9h7.9v1.4h-7.9zM23.3 350.7h7.9v1.4h-7.9zM23.3 370.1h7.9v1.4h-7.9zM40.3 253.4h7.6v1.4h-7.6zM47.9 263.1h7.6v1.4h-7.6zM63.1 253.4h7.6v1.4h-7.6zM70.8 264.5h7.6v1.4h-7.6zM78.4 265.9h7.6v1.4h-7.6zM78.4 307.6h7.6v1.4h-7.6zM78.4 318.7h7.6v1.4h-7.6zM111.0 290.9h7.8v1.4h-7.8z"/>
<path fill="#5f0f41" d="M7.5 378.5h7.9v1.4h-7.9zM15.4 252.0h7.9v1.4h-7.9zM15.4 254.8h7.9v1.4h-7.9zM15.4 256.2h7.9v1.4h-7.9zM15.4 272.8h7.9v1.4h-7.9zM15.4 275.6h7.9v1.4h-7.9zM15.4 279.8h7.9v1.4h-7.9zM15.4 281.2h7.9v1.4h-7.9zM15.4 285.4h7.9v1.4h-7.9zM15.4 286.7h7.9v1.4h-7.9zM15.4 296.5h7.9v1.4h-7.9zM15.4 303.4h7.9v1.4h-7.9zM15.4 313.2h7.9v1.4h-7.9zM15.4 331.2h7.9v1.4h-7.9zM15.4 334.0h7.9v1.4h-7.9zM15.4 339.6h7.9v1.4h-7.9zM15.4 353.5h7.9v1.4h-7.9zM15.4 356.2h7.9v1.4h-7.9zM15.4 361.8h7.9v1.4h-7.9zM15.4 372.9h7.9v1.4h-7.9zM23.3 265.9h7.9v1.4h-7.9zM23.3 284.0h7.9v1.4h-7.9zM23.3 353.5h7.9v1.4h-7.9zM31.2 252.0h7.9v1.4h-7.9zM31.2 257.6h7.9v1.4h-7.9zM31.2 270.1h7.9v1.4h-7.9zM31.2 275.6h7.9v1.4h-7.9zM31.2 279.8h7.9v1.4h-7.9zM31.2 282.6h7.9v1.4h-7.9zM31.2 285.4h7.9v1.4h-7.9zM31.2 290.9h7.9v1.4h-7.9zM31.2 299.2h7.9v1.4h-7.9zM31.2 304.8h7.9v1.4h-7.9zM31.2 322.9h7.9v1.4h-7.9zM31.2 329.8h7.9v1.4h-7.9zM31.2 332.6h7.9v1.4h-7.9zM31.2 339.6h7.9v1.4h-7.9zM31.2 346.5h7.9v1.4h-7.9zM31.2 367.4h7.9v1.4h-7.9zM31.2 388.2h7.9v1.4h-7.9zM40.3 274.2h7.6v1.4h-7.6zM40.3 290.9h7.6v1.4h-7.6zM40.3 302.0h7.6v1.4h-7.6zM47.9 250.6h7.6v1.4h-7.6zM47.9 260.3h7.6v1.4h-7.6zM47.9 272.8h7.6v1.4h-7.6zM47.9 281.2h7.6v1.4h-7.6zM55.5 252.0h7.6v1.4h-7.6zM55.5 271.4h7.6v1.4h-7.6zM55.5 274.2h7.6v1.4h-7.6zM63.1 260.3h7.6v1.4h-7.6zM63.1 275.6h7.6v1.4h-7.6zM63.1 286.7h7.6v1.4h-7.6zM63.1 290.9h7.6v1.4h-7.6zM63.1 296.5h7.6v1.4h-7.6zM70.8 299.2h7.6v1.4h-7.6zM70.8 303.4h7.6v1.4h-7.6zM70.8 317.3h7.6v1.4h-7.6zM70.8 328.4h7.6v1.4h-7.6zM70.8 331.2h7.6v1.4h-7.6zM70.8 335.4h7.6v1.4h-7.6zM70.8 361.8h7.6v1.4h-7.6zM70.8 368.8h7.6v1.4h-7.6zM70.8 375.7h7.6v1.4h-7.6zM70.8 378.5h7.6v1.4h-7.6zM70.8 386.8h7.6v1.4h-7.6zM78.4 295.1h7.6v1.4h-7.6zM78.4 310.4h7.6v1.4h-7.6zM78.4 342.3h7.6v1.4h-7.6zM78.4 345.1h7.6v1.4h-7.6zM78.4 347.9h7.6v1.4h-7.6zM78.4 349.3h7.6v1.4h-7.6zM78.4 354.9h7.6v1.4h-7.6zM78.4 356.2h7.6v1.4h-7.6zM78.4 360.4h7.6v1.4h-7.6zM78.4 366.0h7.6v1.4h-7.6zM78.4 377.1h7.6v1.4h-7.6zM78.4 379.9h7.6v1.4h-7.6zM78.4 384.0h7.6v1.4h-7.6zM103.2 257.6h7.8v1.4h-7.8zM103.2 264.5h7.8v1.4h-7.8zM103.2 279.8h7.8v1.4h-7.8zM103.2 303.4h7.8v1.4h-7.8zM103.2 306.2h7.8v1.4h-7.8zM111.0 258.9h7.8v1.4h-7.8zM111.0 263.1h7.8v1.4h-7.8zM111.0 274.2h7.8v1.4h-7.8zM111.0 275.6h7.8v1.4h-7.8zM111.0 317.3h7.8v1.4h-7.8zM111.0 341.0h7.8v1.4h-7.8z"/>
<path fill="#640f41" d="M15.4 250.6h7.9v1.4h-7.9zM15.4 260.3h7.9v1.4h-7.9zM15.4 263.1h7.9v1.4h-7.9zM15.4 270.1h7.9v1.4h-7.9zM15.4 278.4h7.9v1.4h-7.9zM15.4 282.6h7.9v1.4h-7.9zM15.4 290.9h7.9v1.4h-7.9zM15.4 292.3h7.9v1.4h-7.9zM15.4 295.1h7.9v1.4h-7.9zM15.4 304.8h7.9v1.4h-7.9zM15.4 317.3h7.9v1.4h-7.9zM15.4 322.9h7.9v1.4h-7.9zM15.4 328.4h7.9v1.4h-7.9zM15.4 350.7h7.9v1.4h-7.9zM15.4 364.6h7.9v1.4h-7.9zM23.3 250.6h7.9v1.4h-7.9zM23.3 307.6h7.9v1.4h-7.9zM23.3 339.6h7.9v1.4h-7.9zM23.3 356.2h7.9v1.4h-7.9zM23.3 360.4h7.9v1.4h-7.9zM23.3 381.3h7.9v1.4h-7.9zM31.2 256.2h7.9v1.4h-7.9zM31.2 258.9h7.9v1.4h-7.9zM31.2 277.0h7.9v1.4h-7.9zM31.2 284.0h7.9v1.4h-7.9zM31.2 286.7h7.9v1.4h-7.9zM31.2 296.5h7.9v1.4h-7.9zM31.2 303.4h7.9v1.4h-7.9zM31.2 313.2h7.9v1.4h-7.9zM31.2 315.9h7.9v1.4h-7.9zM31.2 317.3h7.9v1.4h-7.9zM31.2 320.1h7.9v1.4h-7.9zM31.2 325.7h7.9v1.4h-7.9zM31.2 334.0h7.9v1.4h-7.9zM31.2 343.7h7.9v1.4h-7.9zM31.2 345.1h7.9v1.4h-7.9zM31.2 353.5h7.9v1.4h-7.9zM31.2 357.6h7.9v1.4h-7.9zM31.2 366.0h7.9v1.4h-7.9zM31.2 377.1h7.9v1.4h-7.9zM31.2 381.3h7.9v1.4h-7.9zM31.2 385.4h7.9v1.4h-7.9zM31.2 386.8h7.9v1.4h-7.9zM40.3 252.0h7.6v1.4h-7.6zM40.3 275.6h7.6v1.4h-7.6zM40.3 278.4h7.6v1.4h-7.6zM40.3 286.7h7.6v1.4h-7.6zM40.3 295.1h7.6v1.4h-7.6zM47.9 268.7h7.6v1.4h-7.6zM47.9 274.2h7.6v1.4h-7.6zM47.9 309.0h7.6v1.4h-7.6zM55.5 260.3h7.6v1.4h-7.6zM55.5 272.8h7.6v1.4h-7.6zM55.5 290.9h7.6v1.4h-7.6zM63.1 278.4h7.6v1.4h-7.6zM63.1 285.4h7.6v1.4h-7.6zM63.1 289.5h7.6v1.4h-7.6zM63.1 299.2h7.6v1.4h-7.6zM63.1 302.0h7.6v1.4h-7.6zM63.1 309.0h7.6v1.4h-7.6zM63.1 324.3h7.6v1.4h-7.6zM70.8 327.1h7.6v1.4h-7.6zM78.4 277.0h7.6v1.4h-7.6zM78.4 288.1h7.6v1.4h-7.6zM78.4 317.3h7.6v1.4h-7.6zM78.4 327.1h7.6v1.4h-7.6zM78.4 336.8h7.6v1.4h-7.6zM95.5 256.2h7.8v1.4h-7.8zM103.2 252.0h7.8v1.4h-7.8zM103.2 258.9h7.8v1.4h-7.8zM103.2 265.9h7.8v1.4h-7.8zM103.2 268.7h7.8v1.4h-7.8zM103.2 297.9h7.8v1.4h-7.8zM103.2 304.8h7.8v1.4h-7.8zM103.2 307.6h7.8v1.4h-7.8zM103.2 324.3h7.8v1.4h-7.8zM103.2 357.6h7.8v1.4h-7.8zM103.2 361.8h7.8v1.4h-7.8zM111.0 257.6h7.8v1.4h-7.8zM111.0 279.8h7.8v1.4h-7.8zM111.0 295.1h7.8v1.4h-7.8zM111.0 302.0h7.8v1.4h-7.8zM111.0 304.8h7.8v1.4h-7.8zM111.0 324.3h7.8v1.4h-7.8zM111.0 357.6h7.8v1.4h-7.8zM111.0 361.8h7.8v1.4h-7.8z"/>
<path fill="#6e143c" d="M15.4 257.6h7.9v1.4h-7.9zM15.4 310.4h7.9v1.4h-7.9zM15.4 360.4h7.9v1.4h-7.9zM31.2 261.7h7.9v1.4h-7.9zM31.2 278.4h7.9v1.4h-7.9zM31.2 293.7h7.9v1.4h-7.9zM31.2 327.1h7.9v1.4h-7.9zM31.2 384.0h7.9v1.4h-7.9zM40.3 288.1h7.6v1.4h-7.6zM40.3 306.2h7.6v1.4h-7.6zM40.3 311.8h7.6v1.4h-7.6zM47.9 288.1h7.6v1.4h-7.6zM47.9 300.6h7.6v1.4h-7.6zM47.9 307.6h7.6v1.4h-7.6zM47.9 313.2h7.6v1.4h-7.6zM47.9 317.3h7.6v1.4h-7.6zM55.5 258.9h7.6v1.4h-7.6zM55.5 265.9h7.6v1.4h-7.6zM55.5 286.7h7.6v1.4h-7.6zM55.5 288.1h7.6v1.4h-7.6zM55.5 311.8h7.6v1.4h-7.6zM70.8 288.1h7.6v1.4h-7.6zM70.8 292.3h7.6v1.4h-7.6zM70.8 315.9h7.6v1.4h-7.6zM70.8 321.5h7.6v1.4h-7.6zM70.8 345.1h7.6v1.4h-7.6zM70.8 350.7h7.6v1.4h-7.6zM78.4 304.8h7.6v1.4h-7.6zM78.4 328.4h7.6v1.4h-7.6zM78.4 332.6h7.6v1.4h-7.6zM78.4 385.4h7.6v1.4h-7.6zM87.7 264.5h7.8v1.4h-7.8zM95.5 252.0h7.8v1.4h-7.8zM95.5 268.7h7.8v1.4h-7.8zM103.2 254.8h7.8v1.4h-7.8zM103.2 313.2h7.8v1.4h-7.8zM103.2 363.2h7.8v1.4h-7.8zM111.0 261.7h7.8v1.4h-7.8zM111.0 270.1h7.8v1.4h-7.8zM111.0 288.1h7.8v1.4h-7.8zM111.0 311.8h7.8v1.4h-7.8zM111.0 331.2h7.8v1.4h-7.8z"/>
<path fill="#5f0f46" d="M15.4 261.7h7.9v1.4h-7.9zM15.4 284.0h7.9v1.4h-7.9zM15.4 306.2h7.9v1.4h-7.9zM15.4 321.5h7.9v1.4h-7.9zM15.4 327.1h7.9v1.4h-7.9zM15.4 329.8h7.9v1.4h-7.9zM15.4 346.5h7.9v1.4h-7.9zM15.4 377.1h7.9v1.4h-7.9zM23.3 388.2h7.9v1.4h-7.9zM47.9 282.6h7.6v1.4h-7.6zM47.9 284.0h7.6v1.4h-7.6zM70.8 250.6h7.6v1.4h-7.6zM70.8 318.7h7.6v1.4h-7.6zM70.8 359.0h7.6v1.4h-7.6zM70.8 384.0h7.6v1.4h-7.6zM70.8 385.4h7.6v1.4h-7.6zM78.4 279.8h7.6v1.4h-7.6zM103.2 253.4h7.8v1.4h-7.8zM111.0 277.0h7.8v1.4h-7.8z"/>
<path fill="#5a0f46" d="M15.4 264.5h7.9v1.4h-7.9zM15.4 268.7h7.9v1.4h-7.9zM15.4 271.4h7.9v1.4h-7.9zM15.4 274.2h7.9v1.4h-7.9zM15.4 289.5h7.9v1.4h-7.9zM15.4 293.7h7.9v1.4h-7.9zM15.4 297.9h7.9v1.4h-7.9zM15.4 299.2h7.9v1.4h-7.9zM15.4 302.0h7.9v1.4h-7.9zM15.4 309.0h7.9v1.4h-7.9zM15.4 311.8h7.9v1.4h-7.9zM15.4 318.7h7.9v1.4h-7.9zM15.4 343.7h7.9v1.4h-7.9zM15.4 345.1h7.9v1.4h-7.9zM15.4 357.6h7.9v1.4h-7.9zM15.4 359.0h7.9v1.4h-7.9zM15.4 363.2h7.9v1.4h-7.9zM15.4 367.4h7.9v1.4h-7.9zM15.4 370.1h7.9v1.4h-7.9zM15.4 378.5h7.9v1.4h-7.9zM15.4 379.9h7.9v1.4h-7.9zM15.4 381.3h7.9v1.4h-7.9zM15.4 384.0h7.9v1.4h-7.9zM15.4 386.8h7.9v1.4h-7.9zM23.3 252.0h7.9v1.4h-7.9zM23.3 288.1h7.9v1.4h-7.9zM23.3 297.9h7.9v1.4h-7.9zM23.3 310.4h7.9v1.4h-7.9zM23.3 332.6h7.9v1.4h-7.9zM23.3 346.5h7.9v1.4h-7.9zM23.3 349.3h7.9v1.4h-7.9zM23.3 357.6h7.9v1.4h-7.9zM23.3 359.0h7.9v1.4h-7.9zM23.3 364.6h7.9v1.4h-7.9zM23.3 368.8h7.9v1.4h-7.9zM40.3 254.8h7.6v1.4h-7.6zM40.3 265.9h7.6v1.4h-7.6zM40.3 267.3h7.6v1.4h-7.6zM40.3 272.8h7.6v1.4h-7.6zM40.3 281.2h7.6v1.4h-7.6zM40.3 284.0h7.6v1.4h-7.6zM40.3 285.4h7.6v1.4h-7.6zM40.3 296.5h7.6v1.4h-7.6zM40.3 307.6h7.6v1.4h-7.6zM47.9 252.0h7.6v1.4h-7.6zM47.9 254.8h7.6v1.4h-7.6zM47.9 270.1h7.6v1.4h-7.6zM55.5 250.6h7.6v1.4h-7.6zM55.5 257.6h7.6v1.4h-7.6zM55.5 264.5h7.6v1.4h-7.6zM55.5 268.7h7.6v1.4h-7.6zM55.5 270.1h7.6v1.4h-7.6zM55.5 275.6h7.6v1.4h-7.6zM55.5 279.8h7.6v1.4h-7.6zM55.5 284.0h7.6v1.4h-7.6zM55.5 300.6h7.6v1.4h-7.6zM63.1 265.9h7.6v1.4h-7.6zM63.1 271.4h7.6v1.4h-7.6zM63.1 307.6h7.6v1.4h-7.6zM70.8 254.8h7.6v1.4h-7.6zM70.8 265.9h7.6v1.4h-7.6zM70.8 267.3h7.6v1.4h-7.6zM70.8 325.7h7.6v1.4h-7.6zM70.8 332.6h7.6v1.4h-7.6zM70.8 339.6h7.6v1.4h-7.6zM70.8 347.9h7.6v1.4h-7.6zM70.8 349.3h7.6v1.4h-7.6zM70.8 352.1h7.6v1.4h-7.6zM70.8 354.9h7.6v1.4h-7.6zM70.8 363.2h7.6v1.4h-7.6zM70.8 364.6h7.6v1.4h-7.6zM70.8 371.5h7.6v1.4h-7.6zM70.8 382.7h7.6v1.4h-7.6zM78.4 250.6h7.6v1.4h-7.6zM78.4 293.7h7.6v1.4h-7.6zM78.4 321.5h7.6v1.4h-7.6zM78.4 334.0h7.6v1.4h-7.6zM78.4 335.4h7.6v1.4h-7.6zM78.4 338.2h7.6v1.4h-7.6zM78.4 339.6h7.6v1.4h-7.6zM78.4 343.7h7.6v1.4h-7.6zM78.4 359.0h7.6v1.4h-7.6zM78.4 363.2h7.6v1.4h-7.6zM78.4 371.5h7.6v1.4h-7.6zM78.4 374.3h7.6v1.4h-7.6zM103.2 277.0h7.8v1.4h-7.8zM103.2 302.0h7.8v1.4h-7.8zM103.2 317.3h7.8v1.4h-7.8zM111.0 252.0h7.8v1.4h-7.8zM111.0 278.4h7.8v1.4h-7.8zM111.0 306.2h7.8v1.4h-7.8zM111.0 334.0h7.8v1.4h-7.8z"/>
<path fill="#7d1e37" d="M15.4 265.9h7.9v1.4h-7.9zM31.2 370.1h7.9v1.4h-7.9zM40.3 292.3h7.6v1.4h-7.6zM40.3 313.2h7.6v1.4h-7.6zM40.3 317.3h7.6v1.4h-7.6zM47.9 256.2h7.6v1.4h-7.6zM47.9 296.5h7.6v1.4h-7.6zM47.9 341.0h7.6v1.4h-7.6zM55.5 299.2h7.6v1.4h-7.6zM55.5 329.8h7.6v1.4h-7.6zM55.5 342.3h7.6v1.4h-7.6zM63.1 292.3h7.6v1.4h-7.6zM63.1 300.6h7.6v1.4h-7.6zM63.1 304.8h7.6v1.4h-7.6zM63.1 336.8h7.6v1.4h-7.6zM63.1 339.6h7.6v1.4h-7.6zM70.8 367.4h7.6v1.4h-7.6zM78.4 256.2h7.6v1.4h-7.6zM87.7 263.1h7.8v1.4h-7.8zM87.7 277.0h7.8v1.4h-7.8zM95.5 272.8h7.8v1.4h-7.8zM103.2 271.4h7.8v1.4h-7.8zM103.2 281.2h7.8v1.4h-7.8zM103.2 284.0h7.8v1.4h-7.8zM103.2 286.7h7.8v1.4h-7.8zM103.2 318.7h7.8v1.4h-7.8zM103.2 345.1h7.8v1.4h-7.8zM111.0 307.6h7.8v1.4h-7.8zM111.0 367.4h7.8v1.4h-7.8zM111.0 370.1h7.8v1.4h-7.8zM111.0 375.7h7.8v1.4h-7.8z"/>
<path fill="#6e1441" d="M15.4 277.0h7.9v1.4h-7.9zM15.4 371.5h7.9v1.4h-7.9zM31.2 250.6h7.9v1.4h-7.9zM31.2 263.1h7.9v1.4h-7.9zM31.2 264.5h7.9v1.4h-7.9zM31.2 328.4h7.9v1.4h-7.9zM31.2 372.9h7.9v1.4h-7.9zM40.3 289.5h7.6v1.4h-7.6zM40.3 293.7h7.6v1.4h-7.6zM40.3 299.2h7.6v1.4h-7.6zM47.9 278.4h7.6v1.4h-7.6zM55.5 281.2h7.6v1.4h-7.6zM55.5 285.4h7.6v1.4h-7.6zM55.5 313.2h7.6v1.4h-7.6zM63.1 293.7h7.6v1.4h-7.6zM63.1 303.4h7.6v1.4h-7.6zM63.1 317.3h7.6v1.4h-7.6zM70.8 320.1h7.6v1.4h-7.6zM78.4 314.5h7.6v1.4h-7.6zM78.4 375.7h7.6v1.4h-7.6zM103.2 325.7h7.8v1.4h-7.8zM103.2 331.2h7.8v1.4h-7.8z"/>
<path fill="#691441" d="M15.4 288.1h7.9v1.4h-7.9zM15.4 314.5h7.9v1.4h-7.9zM15.4 315.9h7.9v1.4h-7.9zM23.3 342.3h7.9v1.4h-7.9zM31.2 271.4h7.9v1.4h-7.9zM31.2 274.2h7.9v1.4h-7.9zM31.2 292.3h7.9v1.4h-7.9zM31.2 295.1h7.9v1.4h-7.9zM31.2 310.4h7.9v1.4h-7.9zM31.2 311.8h7.9v1.4h-7.9zM31.2 314.5h7.9v1.4h-7.9zM31.2 341.0h7.9v1.4h-7.9zM31.2 361.8h7.9v1.4h-7.9zM31.2 379.9h7.9v1.4h-7.9zM40.3 324.3h7.6v1.4h-7.6zM47.9 265.9h7.6v1.4h-7.6zM47.9 279.8h7.6v1.4h-7.6zM47.9 302.0h7.6v1.4h-7.6zM47.9 324.3h7.6v1.4h-7.6zM55.5 289.5h7.6v1.4h-7.6zM55.5 296.5h7.6v1.4h-7.6zM55.5 297.9h7.6v1.4h-7.6zM55.5 309.0h7.6v1.4h-7.6zM63.1 329.8h7.6v1.4h-7.6zM78.4 331.2h7.6v1.4h-7.6zM78.4 350.7h7.6v1.4h-7.6zM78.4 370.1h7.6v1.4h-7.6zM103.2 250.6h7.8v1.4h-7.8zM103.2 260.3h7.8v1.4h-7.8zM103.2 338.2h7.8v1.4h-7.8zM103.2 341.0h7.8v1.4h-7.8zM111.0 296.5h7.8v1.4h-7.8zM111.0 297.9h7.8v1.4h-7.8zM111.0 310.4h7.8v1.4h-7.8zM111.0 313.2h7.8v1.4h-7.8zM111.0 335.4h7.8v1.4h-7.8z"/>
<path fill="#690f41" d="M15.4 300.6h7.9v1.4h-7.9zM15.4 325.7h7.9v1.4h-7.9zM15.4 335.4h7.9v1.4h-7.9zM15.4 366.0h7.9v1.4h-7.9zM15.4 388.2h7.9v1.4h-7.9zM31.2 267.3h7.9v1.4h-7.9zM31.2 288.1h7.9v1.4h-7.9zM31.2 297.9h7.9v1.4h-7.9zM31.2 300.6h7.9v1.4h-7.9zM31.2 318.7h7.9v1.4h-7.9zM31.2 331.2h7.9v1.4h-7.9zM31.2 342.3h7.9v1.4h-7.9zM31.2 347.9h7.9v1.4h-7.9zM31.2 356.2h7.9v1.4h-7.9zM31.2 359.0h7.9v1.4h-7.9zM31.2 374.3h7.9v1.4h-7.9zM47.9 267.3h7.6v1.4h-7.6zM47.9 289.5h7.6v1.4h-7.6zM55.5 254.8h7.6v1.4h-7.6zM63.1 258.9h7.6v1.4h-7.6zM63.1 311.8h7.6v1.4h-7.6zM63.1 322.9h7.6v1.4h-7.6zM70.8 258.9h7.6v1.4h-7.6zM70.8 293.7h7.6v1.4h-7.6zM70.8 304.8h7.6v1.4h-7.6zM70.8 356.2h7.6v1.4h-7.6zM70.8 360.4h7.6v1.4h-7.6zM70.8 372.9h7.6v1.4h-7.6zM70.8 377.1h7.6v1.4h-7.6zM70.8 379.9h7.6v1.4h-7.6zM78.4 320.1h7.6v1.4h-7.6zM78.4 346.5h7.6v1.4h-7.6zM78.4 361.8h7.6v1.4h-7.6zM78.4 381.3h7.6v1.4h-7.6zM78.4 382.7h7.6v1.4h-7.6zM78.4 386.8h7.6v1.4h-7.6zM78.4 388.2h7.6v1.4h-7.6zM103.2 282.6h7.8v1.4h-7.8zM103.2 346.5h7.8v1.4h-7.8zM103.2 367.4h7.8v1.4h-7.8zM111.0 267.3h7.8v1.4h-7.8zM111.0 284.0h7.8v1.4h-7.8zM111.0 303.4h7.8v1.4h-7.8zM111.0 309.0h7.8v1.4h-7.8zM111.0 356.2h7.8v1.4h-7.8z"/>
<path fill="#be96b9" d="M15.4 352.1h7.9v1.4h-7.9zM15.4 354.9h7.9v1.4h-7.9z"/>
<path fill="#915f8c" d="M23.3 327.1h7.9v1.4h-7.9z"/>
<path fill="#a57da5" d="M23.3 331.2h7.9v1.4h-7.9z"/>
<path fill="#916491" d="M23.3 382.7h7.9v1.4h-7.9z"/>
<path fill="#b98caa" d="M31.2 253.4h7.9v1.4h-7.9z"/>
<path fill="#c8a0be" d="M31.2 254.8h7.9v1.4h-7.9z"/>
<path fill="#be91af" d="M31.2 260.3h7.9v1.4h-7.9z"/>
<path fill="#73143c" d="M31.2 265.9h7.9v1.4h-7.9zM31.2 349.3h7.9v1.4h-7.9zM31.2 360.4h7.9v1.4h-7.9zM31.2 368.8h7.9v1.4h-7.9zM31.2 378.5h7.9v1.4h-7.9zM40.3 271.4h7.6v1.4h-7.6zM40.3 322.9h7.6v1.4h-7.6zM47.9 258.9h7.6v1.4h-7.6zM47.9 315.9h7.6v1.4h-7.6zM47.9 318.7h7.6v1.4h-7.6zM55.5 302.0h7.6v1.4h-7.6zM55.5 303.4h7.6v1.4h-7.6zM63.1 325.7h7.6v1.4h-7.6zM70.8 263.1h7.6v1.4h-7.6zM78.4 292.3h7.6v1.4h-7.6zM78.4 367.4h7.6v1.4h-7.6zM103.2 328.4h7.8v1.4h-7.8zM103.2 334.0h7.8v1.4h-7.8zM103.2 350.7h7.8v1.4h-7.8zM111.0 292.3h7.8v1.4h-7.8zM111.0 321.5h7.8v1.4h-7.8z"/>
<path fill="#73193c" d="M31.2 268.7h7.9v1.4h-7.9zM31.2 350.7h7.9v1.4h-7.9zM31.2 375.7h7.9v1.4h-7.9zM40.3 303.4h7.6v1.4h-7.6zM40.3 315.9h7.6v1.4h-7.6zM40.3 338.2h7.6v1.4h-7.6zM40.3 342.3h7.6v1.4h-7.6zM47.9 285.4h7.6v1.4h-7.6zM47.9 303.4h7.6v1.4h-7.6zM47.9 329.8h7.6v1.4h-7.6zM55.5 307.6h7.6v1.4h-7.6zM55.5 343.7h7.6v1.4h-7.6zM63.1 306.2h7.6v1.4h-7.6zM63.1 341.0h7.6v1.4h-7.6zM78.4 378.5h7.6v1.4h-7.6zM103.2 263.1h7.8v1.4h-7.8zM103.2 267.3h7.8v1.4h-7.8zM103.2 274.2h7.8v1.4h-7.8zM103.2 293.7h7.8v1.4h-7.8zM103.2 296.5h7.8v1.4h-7.8zM103.2 314.5h7.8v1.4h-7.8zM103.2 360.4h7.8v1.4h-7.8zM111.0 289.5h7.8v1.4h-7.8zM111.0 342.3h7.8v1.4h-7.8zM111.0 346.5h7.8v1.4h-7.8zM111.0 360.4h7.8v1.4h-7.8z"/>
<path fill="#af7da0" d="M31.2 272.8h7.9v1.4h-7.9z"/>
<path fill="#78193c" d="M31.2 281.2h7.9v1.4h-7.9zM31.2 321.5h7.9v1.4h-7.9zM31.2 354.9h7.9v1.4h-7.9zM40.3 343.7h7.6v1.4h-7.6zM55.5 315.9h7.6v1.4h-7.6zM111.0 260.3h7.8v1.4h-7.8zM111.0 328.4h7.8v1.4h-7.8zM111.0 338.2h7.8v1.4h-7.8z"/>
<path fill="#d2aac3" d="M31.2 289.5h7.9v1.4h-7.9z"/>
<path fill="#a56991" d="M31.2 302.0h7.9v1.4h-7.9z"/>
<path fill="#781937" d="M31.2 306.2h7.9v1.4h-7.9zM31.2 307.6h7.9v1.4h-7.9zM40.3 318.7h7.6v1.4h-7.6zM40.3 325.7h7.6v1.4h-7.6zM40.3 331.2h7.6v1.4h-7.6zM40.3 339.6h7.6v1.4h-7.6zM47.9 286.7h7.6v1.4h-7.6zM47.9 295.1h7.6v1.4h-7.6zM55.5 293.7h7.6v1.4h-7.6zM55.5 295.1h7.6v1.4h-7.6zM55.5 317.3h7.6v1.4h-7.6zM55.5 324.3h7.6v1.4h-7.6zM63.1 318.7h7.6v1.4h-7.6zM63.1 328.4h7.6v1.4h-7.6zM70.8 314.5h7.6v1.4h-7.6zM70.8 342.3h7.6v1.4h-7.6zM70.8 388.2h7.6v1.4h-7.6zM87.7 256.2h7.8v1.4h-7.8zM87.7 282.6h7.8v1.4h-7.8zM95.5 281.2h7.8v1.4h-7.8zM95.5 286.7h7.8v1.4h-7.8zM103.2 289.5h7.8v1.4h-7.8zM103.2 311.8h7.8v1.4h-7.8zM103.2 315.9h7.8v1.4h-7.8zM103.2 329.8h7.8v1.4h-7.8zM103.2 343.7h7.8v1.4h-7.8zM103.2 354.9h7.8v1.4h-7.8zM103.2 379.9h7.8v1.4h-7.8zM111.0 254.8h7.8v1.4h-7.8zM111.0 285.4h7.8v1.4h-7.8zM111.0 299.2h7.8v1.4h-7.8zM111.0 300.6h7.8v1.4h-7.8zM111.0 339.6h7.8v1.4h-7.8zM111.0 345.1h7.8v1.4h-7.8zM111.0 349.3h7.8v1.4h-7.8zM111.0 368.8h7.8v1.4h-7.8zM111.0 378.5h7.8v1.4h-7.8zM111.0 381.3h7.8v1.4h-7.8z"/>
<path fill="#b482a0" d="M31.2 309.0h7.9v1.4h-7.9z"/>
<path fill="#aa7396" d="M31.2 324.3h7.9v1.4h-7.9z"/>
<path fill="#7d1937" d="M31.2 335.4h7.9v1.4h-7.9zM40.3 320.1h7.6v1.4h-7.6zM40.3 328.4h7.6v1.4h-7.6zM47.9 325.7h7.6v1.4h-7.6zM55.5 306.2h7.6v1.4h-7.6zM55.5 310.4h7.6v1.4h-7.6zM63.1 357.6h7.6v1.4h-7.6zM103.2 321.5h7.8v1.4h-7.8zM103.2 353.5h7.8v1.4h-7.8zM103.2 372.9h7.8v1.4h-7.8zM103.2 377.1h7.8v1.4h-7.8zM103.2 384.0h7.8v1.4h-7.8zM111.0 286.7h7.8v1.4h-7.8zM111.0 329.8h7.8v1.4h-7.8zM111.0 353.5h7.8v1.4h-7.8z"/>
<path fill="#9b648c" d="M31.2 336.8h7.9v1.4h-7.9z"/>
<path fill="#965f87" d="M31.2 338.2h7.9v1.4h-7.9z"/>
<path fill="#af7da5" d="M31.2 352.1h7.9v1.4h-7.9z"/>
<path fill="#a5698c" d="M31.2 363.2h7.9v1.4h-7.9zM31.2 364.6h7.9v1.4h-7.9z"/>
<path fill="#b991af" d="M31.2 371.5h7.9v1.4h-7.9z"/>
<path fill="#821e37" d="M31.2 382.7h7.9v1.4h-7.9zM40.3 268.7h7.6v1.4h-7.6zM40.3 332.6h7.6v1.4h-7.6zM40.3 352.1h7.6v1.4h-7.6zM47.9 293.7h7.6v1.4h-7.6zM47.9 310.4h7.6v1.4h-7.6zM63.1 310.4h7.6v1.4h-7.6zM63.1 313.2h7.6v1.4h-7.6zM63.1 321.5h7.6v1.4h-7.6zM70.8 353.5h7.6v1.4h-7.6zM87.7 302.0h7.8v1.4h-7.8zM103.2 370.1h7.8v1.4h-7.8zM111.0 352.1h7.8v1.4h-7.8zM111.0 363.2h7.8v1.4h-7.8zM111.0 382.7h7.8v1.4h-7.8z"/>
<path fill="#3c0a4b" d="M40.3 257.6h7.6v1.4h-7.6zM70.8 257.6h7.6v1.4h-7.6zM70.8 261.7h7.6v1.4h-7.6zM78.4 257.6h7.6v1.4h-7.6zM78.4 261.7h7.6v1.4h-7.6z"/>
<path fill="#91282d" d="M40.3 258.9h7.6v1.4h-7.6zM40.3 314.5h7.6v1.4h-7.6zM40.3 321.5h7.6v1.4h-7.6zM40.3 359.0h7.6v1.4h-7.6zM40.3 366.0h7.6v1.4h-7.6zM40.3 379.9h7.6v1.4h-7.6zM47.9 314.5h7.6v1.4h-7.6zM47.9 332.6h7.6v1.4h-7.6zM55.5 349.3h7.6v1.4h-7.6zM55.5 356.2h7.6v1.4h-7.6zM63.1 288.1h7.6v1.4h-7.6zM63.1 327.1h7.6v1.4h-7.6zM63.1 347.9h7.6v1.4h-7.6zM63.1 371.5h7.6v1.4h-7.6zM63.1 379.9h7.6v1.4h-7.6zM78.4 372.9h7.6v1.4h-7.6zM87.7 268.7h7.8v1.4h-7.8zM87.7 296.5h7.8v1.4h-7.8zM87.7 357.6h7.8v1.4h-7.8zM95.5 250.6h7.8v1.4h-7.8zM95.5 254.8h7.8v1.4h-7.8zM103.2 270.1h7.8v1.4h-7.8zM111.0 322.9h7.8v1.4h-7.8zM111.0 372.9h7.8v1.4h-7.8zM111.0 388.2h7.8v1.4h-7.8z"/>
<path fill="#8c232d" d="M40.3 297.9h7.6v1.4h-7.6zM40.3 354.9h7.6v1.4h-7.6zM40.3 356.2h7.6v1.4h-7.6zM40.3 364.6h7.6v1.4h-7.6zM40.3 368.8h7.6v1.4h-7.6zM47.9 327.1h7.6v1.4h-7.6zM47.9 354.9h7.6v1.4h-7.6zM47.9 357.6h7.6v1.4h-7.6zM55.5 332.6h7.6v1.4h-7.6zM55.5 334.0h7.6v1.4h-7.6zM55.5 354.9h7.6v1.4h-7.6zM55.5 357.6h7.6v1.4h-7.6zM55.5 363.2h7.6v1.4h-7.6zM55.5 364.6h7.6v1.4h-7.6zM63.1 267.3h7.6v1.4h-7.6zM63.1 335.4h7.6v1.4h-7.6zM63.1 342.3h7.6v1.4h-7.6zM63.1 349.3h7.6v1.4h-7.6zM63.1 366.0h7.6v1.4h-7.6zM63.1 368.8h7.6v1.4h-7.6zM70.8 336.8h7.6v1.4h-7.6zM70.8 346.5h7.6v1.4h-7.6zM70.8 370.1h7.6v1.4h-7.6zM87.7 257.6h7.8v1.4h-7.8zM87.7 258.9h7.8v1.4h-7.8zM87.7 272.8h7.8v1.4h-7.8zM87.7 297.9h7.8v1.4h-7.8zM87.7 309.0h7.8v1.4h-7.8zM95.5 278.4h7.8v1.4h-7.8zM95.5 317.3h7.8v1.4h-7.8zM103.2 300.6h7.8v1.4h-7.8zM103.2 322.9h7.8v1.4h-7.8zM103.2 342.3h7.8v1.4h-7.8zM103.2 371.5h7.8v1.4h-7.8zM103.2 382.7h7.8v1.4h-7.8zM111.0 336.8h7.8v1.4h-7.8zM111.0 354.9h7.8v1.4h-7.8zM111.0 384.0h7.8v1.4h-7.8z"/>
<path fill="#872332" d="M40.3 304.8h7.6v1.4h-7.6zM40.3 334.0h7.6v1.4h-7.6zM40.3 335.4h7.6v1.4h-7.6zM40.3 336.8h7.6v1.4h-7.6zM47.9 292.3h7.6v1.4h-7.6zM47.9 311.8h7.6v1.4h-7.6zM47.9 320.1h7.6v1.4h-7.6zM47.9 336.8h7.6v1.4h-7.6zM55.5 314.5h7.6v1.4h-7.6zM55.5 322.9h7.6v1.4h-7.6zM55.5 352.1h7.6v1.4h-7.6zM63.1 338.2h7.6v1.4h-7.6zM63.1 346.5h7.6v1.4h-7.6zM63.1 353.5h7.6v1.4h-7.6zM70.8 285.4h7.6v1.4h-7.6zM87.7 250.6h7.8v1.4h-7.8zM87.7 270.1h7.8v1.4h-7.8zM87.7 271.4h7.8v1.4h-7.8zM87.7 281.2h7.8v1.4h-7.8zM87.7 286.7h7.8v1.4h-7.8zM87.7 295.1h7.8v1.4h-7.8zM87.7 306.2h7.8v1.4h-7.8zM87.7 334.0h7.8v1.4h-7.8zM95.5 265.9h7.8v1.4h-7.8zM95.5 267.3h7.8v1.4h-7.8zM95.5 274.2h7.8v1.4h-7.8zM95.5 297.9h7.8v1.4h-7.8zM95.5 328.4h7.8v1.4h-7.8zM103.2 288.1h7.8v1.4h-7.8zM103.2 349.3h7.8v1.4h-7.8zM103.2 359.0h7.8v1.4h-7.8zM103.2 368.8h7.8v1.4h-7.8zM103.2 386.8h7.8v1.4h-7.8zM111.0 271.4h7.8v1.4h-7.8z"/>
<path fill="#821e32" d="M40.3 309.0h7.6v1.4h-7.6zM40.3 310.4h7.6v1.4h-7.6zM40.3 327.1h7.6v1.4h-7.6zM40.3 341.0h7.6v1.4h-7.6zM40.3 357.6h7.6v1.4h-7.6zM47.9 322.9h7.6v1.4h-7.6zM47.9 328.4h7.6v1.4h-7.6zM47.9 331.2h7.6v1.4h-7.6zM47.9 335.4h7.6v1.4h-7.6zM55.5 267.3h7.6v1.4h-7.6zM55.5 278.4h7.6v1.4h-7.6zM55.5 282.6h7.6v1.4h-7.6zM55.5 318.7h7.6v1.4h-7.6zM55.5 320.1h7.6v1.4h-7.6zM55.5 328.4h7.6v1.4h-7.6zM55.5 336.8h7.6v1.4h-7.6zM55.5 341.0h7.6v1.4h-7.6zM63.1 314.5h7.6v1.4h-7.6zM63.1 320.1h7.6v1.4h-7.6zM63.1 350.7h7.6v1.4h-7.6zM70.8 290.9h7.6v1.4h-7.6zM70.8 381.3h7.6v1.4h-7.6zM78.4 267.3h7.6v1.4h-7.6zM78.4 278.4h7.6v1.4h-7.6zM78.4 286.7h7.6v1.4h-7.6zM87.7 252.0h7.8v1.4h-7.8zM87.7 278.4h7.8v1.4h-7.8zM87.7 285.4h7.8v1.4h-7.8zM87.7 288.1h7.8v1.4h-7.8zM87.7 290.9h7.8v1.4h-7.8zM95.5 258.9h7.8v1.4h-7.8zM95.5 260.3h7.8v1.4h-7.8zM95.5 264.5h7.8v1.4h-7.8zM95.5 271.4h7.8v1.4h-7.8zM95.5 306.2h7.8v1.4h-7.8zM103.2 275.6h7.8v1.4h-7.8zM103.2 352.1h7.8v1.4h-7.8zM111.0 314.5h7.8v1.4h-7.8zM111.0 315.9h7.8v1.4h-7.8zM111.0 318.7h7.8v1.4h-7.8zM111.0 325.7h7.8v1.4h-7.8zM111.0 327.1h7.8v1.4h-7.8zM111.0 350.7h7.8v1.4h-7.8zM111.0 377.1h7.8v1.4h-7.8z"/>
<path fill="#aa371e" d="M40.3 329.8h7.6v1.4h-7.6zM87.7 293.7h7.8v1.4h-7.8zM87.7 360.4h7.8v1.4h-7.8zM95.5 343.7h7.8v1.4h-7.8z"/>
<path fill="#962828" d="M40.3 345.1h7.6v1.4h-7.6zM40.3 382.7h7.6v1.4h-7.6zM47.9 368.8h7.6v1.4h-7.6zM63.1 343.7h7.6v1.4h-7.6zM87.7 253.4h7.8v1.4h-7.8zM87.7 284.0h7.8v1.4h-7.8zM87.7 313.2h7.8v1.4h-7.8zM87.7 325.7h7.8v1.4h-7.8zM95.5 275.6h7.8v1.4h-7.8zM95.5 295.1h7.8v1.4h-7.8zM95.5 303.4h7.8v1.4h-7.8zM95.5 304.8h7.8v1.4h-7.8zM95.5 310.4h7.8v1.4h-7.8zM95.5 367.4h7.8v1.4h-7.8zM103.2 292.3h7.8v1.4h-7.8zM103.2 309.0h7.8v1.4h-7.8zM103.2 364.6h7.8v1.4h-7.8zM111.0 332.6h7.8v1.4h-7.8zM111.0 371.5h7.8v1.4h-7.8z"/>
<path fill="#d25a14" d="M40.3 346.5h7.6v1.4h-7.6zM40.3 371.5h7.6v1.4h-7.6zM55.5 374.3h7.6v1.4h-7.6zM55.5 388.2h7.6v1.4h-7.6zM95.5 314.5h7.8v1.4h-7.8z"/>
<path fill="#871e32" d="M40.3 347.9h7.6v1.4h-7.6zM47.9 290.9h7.6v1.4h-7.6zM47.9 299.2h7.6v1.4h-7.6zM47.9 343.7h7.6v1.4h-7.6zM63.1 352.1h7.6v1.4h-7.6zM63.1 359.0h7.6v1.4h-7.6zM70.8 306.2h7.6v1.4h-7.6zM87.7 317.3h7.8v1.4h-7.8zM95.5 270.1h7.8v1.4h-7.8zM95.5 282.6h7.8v1.4h-7.8zM103.2 295.1h7.8v1.4h-7.8zM103.2 374.3h7.8v1.4h-7.8zM111.0 250.6h7.8v1.4h-7.8z"/>
<path fill="#a02d28" d="M40.3 349.3h7.6v1.4h-7.6zM47.9 304.8h7.6v1.4h-7.6zM47.9 339.6h7.6v1.4h-7.6zM47.9 346.5h7.6v1.4h-7.6zM55.5 292.3h7.6v1.4h-7.6zM55.5 325.7h7.6v1.4h-7.6zM55.5 366.0h7.6v1.4h-7.6zM63.1 295.1h7.6v1.4h-7.6zM63.1 315.9h7.6v1.4h-7.6zM63.1 332.6h7.6v1.4h-7.6zM87.7 307.6h7.8v1.4h-7.8zM87.7 314.5h7.8v1.4h-7.8zM87.7 321.5h7.8v1.4h-7.8zM95.5 356.2h7.8v1.4h-7.8zM95.5 372.9h7.8v1.4h-7.8zM111.0 366.0h7.8v1.4h-7.8zM111.0 386.8h7.8v1.4h-7.8z"/>
<path fill="#91232d" d="M40.3 350.7h7.6v1.4h-7.6zM47.9 271.4h7.6v1.4h-7.6zM47.9 345.1h7.6v1.4h-7.6zM47.9 349.3h7.6v1.4h-7.6zM47.9 356.2h7.6v1.4h-7.6zM47.9 359.0h7.6v1.4h-7.6zM55.5 335.4h7.6v1.4h-7.6zM55.5 339.6h7.6v1.4h-7.6zM55.5 345.1h7.6v1.4h-7.6zM63.1 354.9h7.6v1.4h-7.6zM63.1 363.2h7.6v1.4h-7.6zM87.7 260.3h7.8v1.4h-7.8zM87.7 346.5h7.8v1.4h-7.8zM95.5 284.0h7.8v1.4h-7.8zM103.2 381.3h7.8v1.4h-7.8zM111.0 347.9h7.8v1.4h-7.8z"/>
<path fill="#a53223" d="M40.3 353.5h7.6v1.4h-7.6zM40.3 374.3h7.6v1.4h-7.6zM40.3 384.0h7.6v1.4h-7.6zM47.9 347.9h7.6v1.4h-7.6zM55.5 350.7h7.6v1.4h-7.6zM55.5 368.8h7.6v1.4h-7.6zM55.5 379.9h7.6v1.4h-7.6zM63.1 364.6h7.6v1.4h-7.6zM63.1 367.4h7.6v1.4h-7.6zM63.1 378.5h7.6v1.4h-7.6zM63.1 386.8h7.6v1.4h-7.6zM87.7 267.3h7.8v1.4h-7.8zM87.7 327.1h7.8v1.4h-7.8zM87.7 335.4h7.8v1.4h-7.8zM87.7 347.9h7.8v1.4h-7.8zM87.7 363.2h7.8v1.4h-7.8zM87.7 378.5h7.8v1.4h-7.8zM95.5 320.1h7.8v1.4h-7.8zM103.2 285.4h7.8v1.4h-7.8zM103.2 347.9h7.8v1.4h-7.8z"/>
<path fill="#aa3723" d="M40.3 360.4h7.6v1.4h-7.6zM40.3 367.4h7.6v1.4h-7.6zM40.3 370.1h7.6v1.4h-7.6zM47.9 297.9h7.6v1.4h-7.6zM47.9 342.3h7.6v1.4h-7.6zM47.9 360.4h7.6v1.4h-7.6zM47.9 371.5h7.6v1.4h-7.6zM47.9 382.7h7.6v1.4h-7.6zM55.5 353.5h7.6v1.4h-7.6zM63.1 334.0h7.6v1.4h-7.6zM63.1 372.9h7.6v1.4h-7.6zM63.1 385.4h7.6v1.4h-7.6zM87.7 304.8h7.8v1.4h-7.8zM87.7 310.4h7.8v1.4h-7.8zM87.7 318.7h7.8v1.4h-7.8zM87.7 329.8h7.8v1.4h-7.8zM87.7 341.0h7.8v1.4h-7.8zM87.7 342.3h7.8v1.4h-7.8zM87.7 353.5h7.8v1.4h-7.8zM87.7 372.9h7.8v1.4h-7.8zM95.5 292.3h7.8v1.4h-7.8zM95.5 307.6h7.8v1.4h-7.8zM95.5 309.0h7.8v1.4h-7.8zM95.5 331.2h7.8v1.4h-7.8zM95.5 346.5h7.8v1.4h-7.8zM103.2 327.1h7.8v1.4h-7.8zM103.2 385.4h7.8v1.4h-7.8z"/>
<path fill="#c34619" d="M40.3 361.8h7.6v1.4h-7.6zM47.9 378.5h7.6v1.4h-7.6zM55.5 360.4h7.6v1.4h-7.6zM55.5 367.4h7.6v1.4h-7.6zM87.7 345.1h7.8v1.4h-7.8zM95.5 311.8h7.8v1.4h-7.8zM95.5 364.6h7.8v1.4h-7.8zM95.5 370.1h7.8v1.4h-7.8zM103.2 310.4h7.8v1.4h-7.8z"/>
<path fill="#d7aab4" d="M40.3 363.2h7.6v1.4h-7.6zM47.9 321.5h7.6v1.4h-7.6z"/>
<path fill="#b43c1e" d="M40.3 372.9h7.6v1.4h-7.6zM40.3 377.1h7.6v1.4h-7.6zM40.3 386.8h7.6v1.4h-7.6zM47.9 350.7h7.6v1.4h-7.6zM55.5 370.1h7.6v1.4h-7.6zM87.7 322.9h7.8v1.4h-7.8zM87.7 331.2h7.8v1.4h-7.8zM87.7 356.2h7.8v1.4h-7.8zM87.7 364.6h7.8v1.4h-7.8zM87.7 367.4h7.8v1.4h-7.8zM87.7 370.1h7.8v1.4h-7.8zM87.7 377.1h7.8v1.4h-7.8zM87.7 379.9h7.8v1.4h-7.8zM95.5 299.2h7.8v1.4h-7.8zM95.5 363.2h7.8v1.4h-7.8zM95.5 377.1h7.8v1.4h-7.8zM103.2 261.7h7.8v1.4h-7.8zM103.2 299.2h7.8v1.4h-7.8zM103.2 375.7h7.8v1.4h-7.8zM111.0 293.7h7.8v1.4h-7.8zM111.0 343.7h7.8v1.4h-7.8z"/>
<path fill="#b94119" d="M40.3 375.7h7.6v1.4h-7.6zM40.3 385.4h7.6v1.4h-7.6zM47.9 306.2h7.6v1.4h-7.6zM47.9 370.1h7.6v1.4h-7.6zM47.9 384.0h7.6v1.4h-7.6zM55.5 371.5h7.6v1.4h-7.6zM55.5 378.5h7.6v1.4h-7.6zM63.1 356.2h7.6v1.4h-7.6zM87.7 336.8h7.8v1.4h-7.8zM87.7 375.7h7.8v1.4h-7.8zM95.5 313.2h7.8v1.4h-7.8zM111.0 320.1h7.8v1.4h-7.8z"/>
<path fill="#b93c1e" d="M40.3 378.5h7.6v1.4h-7.6zM47.9 385.4h7.6v1.4h-7.6zM63.1 384.0h7.6v1.4h-7.6z"/>
<path fill="#af371e" d="M40.3 381.3h7.6v1.4h-7.6zM47.9 379.9h7.6v1.4h-7.6zM55.5 377.1h7.6v1.4h-7.6zM55.5 385.4h7.6v1.4h-7.6zM63.1 370.1h7.6v1.4h-7.6zM87.7 261.7h7.8v1.4h-7.8zM87.7 300.6h7.8v1.4h-7.8zM87.7 315.9h7.8v1.4h-7.8zM87.7 328.4h7.8v1.4h-7.8zM87.7 343.7h7.8v1.4h-7.8zM87.7 381.3h7.8v1.4h-7.8zM95.5 296.5h7.8v1.4h-7.8zM95.5 336.8h7.8v1.4h-7.8zM95.5 361.8h7.8v1.4h-7.8zM111.0 253.4h7.8v1.4h-7.8z"/>
<path fill="#c85019" d="M40.3 388.2h7.6v1.4h-7.6zM55.5 372.9h7.6v1.4h-7.6zM63.1 388.2h7.6v1.4h-7.6zM87.7 303.4h7.8v1.4h-7.8zM87.7 368.8h7.8v1.4h-7.8zM87.7 388.2h7.8v1.4h-7.8zM95.5 338.2h7.8v1.4h-7.8z"/>
<path fill="#c3a0b9" d="M47.9 277.0h7.6v1.4h-7.6zM70.8 295.1h7.6v1.4h-7.6z"/>
<path fill="#9b2d28" d="M47.9 334.0h7.6v1.4h-7.6zM47.9 352.1h7.6v1.4h-7.6zM47.9 366.0h7.6v1.4h-7.6zM55.5 321.5h7.6v1.4h-7.6zM55.5 327.1h7.6v1.4h-7.6zM55.5 346.5h7.6v1.4h-7.6zM55.5 359.0h7.6v1.4h-7.6zM63.1 374.3h7.6v1.4h-7.6zM63.1 381.3h7.6v1.4h-7.6zM63.1 382.7h7.6v1.4h-7.6zM87.7 311.8h7.8v1.4h-7.8zM87.7 338.2h7.8v1.4h-7.8zM95.5 261.7h7.8v1.4h-7.8zM95.5 263.1h7.8v1.4h-7.8zM95.5 277.0h7.8v1.4h-7.8zM95.5 290.9h7.8v1.4h-7.8zM95.5 293.7h7.8v1.4h-7.8zM95.5 302.0h7.8v1.4h-7.8zM95.5 334.0h7.8v1.4h-7.8zM103.2 356.2h7.8v1.4h-7.8z"/>
<path fill="#be4119" d="M47.9 338.2h7.6v1.4h-7.6zM47.9 367.4h7.6v1.4h-7.6zM47.9 386.8h7.6v1.4h-7.6zM55.5 361.8h7.6v1.4h-7.6zM55.5 384.0h7.6v1.4h-7.6zM63.1 377.1h7.6v1.4h-7.6zM87.7 275.6h7.8v1.4h-7.8zM87.7 292.3h7.8v1.4h-7.8zM87.7 299.2h7.8v1.4h-7.8zM87.7 332.6h7.8v1.4h-7.8zM87.7 349.3h7.8v1.4h-7.8zM87.7 350.7h7.8v1.4h-7.8zM87.7 352.1h7.8v1.4h-7.8zM87.7 354.9h7.8v1.4h-7.8zM87.7 374.3h7.8v1.4h-7.8zM87.7 384.0h7.8v1.4h-7.8zM95.5 325.7h7.8v1.4h-7.8zM95.5 329.8h7.8v1.4h-7.8zM95.5 368.8h7.8v1.4h-7.8zM103.2 332.6h7.8v1.4h-7.8zM111.0 379.9h7.8v1.4h-7.8z"/>
<path fill="#e17314" d="M47.9 353.5h7.6v1.4h-7.6zM95.5 322.9h7.8v1.4h-7.8zM95.5 378.5h7.8v1.4h-7.8zM95.5 382.7h7.8v1.4h-7.8z"/>
<path fill="#a03228" d="M47.9 361.8h7.6v1.4h-7.6zM111.0 385.4h7.8v1.4h-7.8z"/>
<path fill="#d75f14" d="M47.9 363.2h7.6v1.4h-7.6zM47.9 388.2h7.6v1.4h-7.6zM87.7 386.8h7.8v1.4h-7.8zM95.5 289.5h7.8v1.4h-7.8zM95.5 318.7h7.8v1.4h-7.8z"/>
<path fill="#96282d" d="M47.9 364.6h7.6v1.4h-7.6zM55.5 347.9h7.6v1.4h-7.6zM95.5 253.4h7.8v1.4h-7.8zM95.5 285.4h7.8v1.4h-7.8zM95.5 288.1h7.8v1.4h-7.8zM95.5 357.6h7.8v1.4h-7.8z"/>
<path fill="#e16e14" d="M47.9 372.9h7.6v1.4h-7.6zM47.9 377.1h7.6v1.4h-7.6zM87.7 320.1h7.8v1.4h-7.8zM95.5 332.6h7.8v1.4h-7.8z"/>
<path fill="#a03223" d="M47.9 374.3h7.6v1.4h-7.6zM55.5 304.8h7.6v1.4h-7.6zM55.5 382.7h7.6v1.4h-7.6zM95.5 327.1h7.8v1.4h-7.8zM103.2 339.6h7.8v1.4h-7.8z"/>
<path fill="#cd5519" d="M47.9 375.7h7.6v1.4h-7.6zM87.7 289.5h7.8v1.4h-7.8z"/>
<path fill="#dc6914" d="M47.9 381.3h7.6v1.4h-7.6zM87.7 382.7h7.8v1.4h-7.8zM95.5 385.4h7.8v1.4h-7.8z"/>
<path fill="#c84b19" d="M55.5 331.2h7.6v1.4h-7.6zM63.1 375.7h7.6v1.4h-7.6zM87.7 359.0h7.8v1.4h-7.8zM95.5 321.5h7.8v1.4h-7.8zM95.5 324.3h7.8v1.4h-7.8zM95.5 342.3h7.8v1.4h-7.8z"/>
<path fill="#8c2332" d="M55.5 338.2h7.6v1.4h-7.6zM87.7 265.9h7.8v1.4h-7.8zM87.7 361.8h7.8v1.4h-7.8zM103.2 366.0h7.8v1.4h-7.8zM103.2 388.2h7.8v1.4h-7.8z"/>
<path fill="#b9411e" d="M55.5 375.7h7.6v1.4h-7.6z"/>
<path fill="#af3c1e" d="M55.5 381.3h7.6v1.4h-7.6zM63.1 360.4h7.6v1.4h-7.6zM63.1 361.8h7.6v1.4h-7.6zM87.7 254.8h7.8v1.4h-7.8zM95.5 300.6h7.8v1.4h-7.8zM95.5 359.0h7.8v1.4h-7.8zM95.5 374.3h7.8v1.4h-7.8zM95.5 375.7h7.8v1.4h-7.8zM103.2 336.8h7.8v1.4h-7.8z"/>
<path fill="#c34b19" d="M55.5 386.8h7.6v1.4h-7.6zM87.7 371.5h7.8v1.4h-7.8zM95.5 353.5h7.8v1.4h-7.8zM95.5 371.5h7.8v1.4h-7.8zM95.5 381.3h7.8v1.4h-7.8zM103.2 378.5h7.8v1.4h-7.8z"/>
<path fill="#c8a0b9" d="M63.1 297.9h7.6v1.4h-7.6zM111.0 264.5h7.8v1.4h-7.8z"/>
<path fill="#962d28" d="M63.1 331.2h7.6v1.4h-7.6zM63.1 345.1h7.6v1.4h-7.6zM87.7 279.8h7.8v1.4h-7.8zM103.2 335.4h7.8v1.4h-7.8z"/>
<path fill="#bea0b9" d="M78.4 341.0h7.6v1.4h-7.6zM103.2 256.2h7.8v1.4h-7.8z"/>
<path fill="#cd5514" d="M87.7 274.2h7.8v1.4h-7.8zM95.5 347.9h7.8v1.4h-7.8zM95.5 350.7h7.8v1.4h-7.8zM95.5 360.4h7.8v1.4h-7.8zM95.5 366.0h7.8v1.4h-7.8zM95.5 388.2h7.8v1.4h-7.8zM103.2 320.1h7.8v1.4h-7.8z"/>
<path fill="#be4619" d="M87.7 324.3h7.8v1.4h-7.8zM87.7 339.6h7.8v1.4h-7.8z"/>
<path fill="#eb911e" d="M87.7 366.0h7.8v1.4h-7.8z"/>
<path fill="#eb871e" d="M87.7 385.4h7.8v1.4h-7.8z"/>
<path fill="#d25f14" d="M95.5 257.6h7.8v1.4h-7.8zM95.5 386.8h7.8v1.4h-7.8zM111.0 359.0h7.8v1.4h-7.8z"/>
<path fill="#dcafaf" d="M95.5 279.8h7.8v1.4h-7.8z"/>
<path fill="#e67814" d="M95.5 315.9h7.8v1.4h-7.8z"/>
<path fill="#cd5019" d="M95.5 335.4h7.8v1.4h-7.8z"/>
<path fill="#f0961e" d="M95.5 339.6h7.8v1.4h-7.8z"/>
<path fill="#d76414" d="M95.5 341.0h7.8v1.4h-7.8zM95.5 345.1h7.8v1.4h-7.8z"/>
<path fill="#e67d19" d="M95.5 349.3h7.8v1.4h-7.8zM95.5 384.0h7.8v1.4h-7.8z"/>
<path fill="#e68219" d="M95.5 352.1h7.8v1.4h-7.8z"/>
<path fill="#f09b28" d="M95.5 354.9h7.8v1.4h-7.8z"/>
<path fill="#f0beaa" d="M95.5 379.9h7.8v1.4h-7.8z"/>
<path fill="#d2a5b4" d="M111.0 364.6h7.8v1.4h-7.8z"/>
<path fill="#ebb9aa" d="M111.0 374.3h7.8v1.4h-7.8z"/></g>
<text x="7.2" y="16.7" font-size="11.80" text-anchor="start" font-weight="bold" fill="#000" stroke="#000" stroke-width="0.35">A</text>
<text x="141.0" y="16.5" font-size="11.80" text-anchor="start" font-weight="bold" fill="#000" stroke="#000" stroke-width="0.35">B</text>
<text x="277.0" y="16.7" font-size="11.80" text-anchor="start" font-weight="bold" fill="#000" stroke="#000" stroke-width="0.35">C</text>
<text x="413.3" y="16.4" font-size="11.80" text-anchor="start" font-weight="bold" fill="#000" stroke="#000" stroke-width="0.35">D</text>
<text x="7.0" y="208.4" font-size="11.80" text-anchor="start" font-weight="bold" fill="#000" stroke="#000" stroke-width="0.35">E</text>
<text x="128.3" y="208.4" font-size="11.80" text-anchor="start" font-weight="bold" fill="#000" stroke="#000" stroke-width="0.35">F</text>
<text x="127.6" y="380.7" font-size="11.80" text-anchor="start" font-weight="bold" fill="#000" stroke="#000" stroke-width="0.35">G</text>
<text x="68.2" y="30.2" font-size="8.10" text-anchor="middle" font-weight="normal" fill="#222" stroke="#222" stroke-width="0.15">All Proteins</text>
<line x1="8.00" y1="35.00" x2="130.70" y2="35.00" stroke="#3a3a3a" stroke-width="1.10" />
<text x="25.5" y="43.8" font-size="6.50" text-anchor="middle" font-weight="normal" fill="#222" >BM Retic</text>
<text x="69.5" y="43.8" font-size="6.50" text-anchor="middle" font-weight="normal" fill="#222" >Circ Retic</text>
<text x="112.0" y="43.8" font-size="6.50" text-anchor="middle" font-weight="normal" fill="#222" >Circ Eryth</text>
<text x="205.4" y="30.2" font-size="8.10" text-anchor="middle" font-weight="normal" fill="#222" stroke="#222" stroke-width="0.15">Ribosomal Proteins</text>
<line x1="145.00" y1="35.00" x2="267.00" y2="35.00" stroke="#3a3a3a" stroke-width="1.10" />
<text x="166.4" y="43.8" font-size="6.50" text-anchor="middle" font-weight="normal" fill="#222" >BM Retic</text>
<text x="207.3" y="43.8" font-size="6.50" text-anchor="middle" font-weight="normal" fill="#222" >Circ Retic</text>
<text x="246.2" y="43.8" font-size="6.50" text-anchor="middle" font-weight="normal" fill="#222" >Circ Eryth</text>
<text x="340.5" y="30.2" font-size="8.30" text-anchor="middle" font-weight="normal" fill="#222" stroke="#222" stroke-width="0.15">Mitochondrial Proteins</text>
<line x1="279.00" y1="35.00" x2="401.00" y2="35.00" stroke="#3a3a3a" stroke-width="1.10" />
<text x="294.0" y="43.8" font-size="6.50" text-anchor="middle" font-weight="normal" fill="#222" >BM Retic</text>
<text x="339.4" y="43.8" font-size="6.50" text-anchor="middle" font-weight="normal" fill="#222" >Circ Retic</text>
<text x="383.6" y="43.8" font-size="6.50" text-anchor="middle" font-weight="normal" fill="#222" >Circ Eryth</text>
<text x="63.3" y="223.3" font-size="8.25" text-anchor="middle" font-weight="normal" fill="#222" stroke="#222" stroke-width="0.15">Top200 Proteins Maintained</text>
<text x="63.5" y="233.0" font-size="8.25" text-anchor="middle" font-weight="normal" fill="#222" stroke="#222" stroke-width="0.15">During Retic Maturation</text>
<line x1="8.00" y1="238.30" x2="118.70" y2="238.30" stroke="#3a3a3a" stroke-width="1.10" />
<text x="23.2" y="247.5" font-size="6.50" text-anchor="middle" font-weight="normal" fill="#222" >BM Retic</text>
<text x="63.7" y="247.5" font-size="6.50" text-anchor="middle" font-weight="normal" fill="#222" >Circ Retic</text>
<text x="102.2" y="247.5" font-size="6.50" text-anchor="middle" font-weight="normal" fill="#222" >Circ Eryth</text>
<defs><linearGradient id="cbE" x1="0" y1="0" x2="0" y2="1"><stop offset="0" stop-color="#3a0a4a"/><stop offset="0.15" stop-color="#6a1a3a"/><stop offset="0.27" stop-color="#b04812"/><stop offset="0.37" stop-color="#f08412"/><stop offset="0.5" stop-color="#f6b848"/><stop offset="0.58" stop-color="#f6e070"/><stop offset="0.8" stop-color="#f6ee80"/><stop offset="1" stop-color="#f8f4a8"/></linearGradient></defs>
<rect x="20.20" y="400.10" width="7.90" height="31.00" fill="url(#cbE)" />
<text x="30.8" y="403.3" font-size="6.30" text-anchor="start" font-weight="normal" fill="#222" >0</text>
<text x="30.8" y="412.9" font-size="6.20" text-anchor="start" font-weight="normal" fill="#222" >Log2(Copy number/Mean</text>
<text x="30.8" y="420.5" font-size="6.20" text-anchor="start" font-weight="normal" fill="#222" >BMRetic Copy number)</text>
<text x="30.8" y="433.0" font-size="6.30" text-anchor="start" font-weight="normal" fill="#222" >−14</text>
<rect x="455.60" y="91.87" width="10.30" height="10.43" fill="#8a7cc6" />
<rect x="455.60" y="34.59" width="10.30" height="57.28" fill="#1d5a99" />
<rect x="472.80" y="91.87" width="10.00" height="10.43" fill="#8a7cc6" />
<rect x="472.80" y="72.11" width="10.00" height="19.76" fill="#1d5a99" />
<rect x="489.90" y="91.87" width="9.90" height="10.43" fill="#8a7cc6" />
<rect x="489.90" y="75.66" width="9.90" height="16.21" fill="#1d5a99" />
<rect x="455.60" y="32.40" width="10.30" height="2.80" fill="#3a9fd6" />
<rect x="455.60" y="35.20" width="10.30" height="11.80" fill="#2576b4" />
<line x1="460.80" y1="31.60" x2="460.80" y2="47.00" stroke="#1e2a36" stroke-width="1.10" />
<line x1="457.50" y1="31.60" x2="464.10" y2="31.60" stroke="#1e2a36" stroke-width="1.10" />
<line x1="457.50" y1="47.00" x2="464.10" y2="47.00" stroke="#1e2a36" stroke-width="1.10" />
<circle cx="460.80" cy="39.80" r="1.30" fill="#7a3a52" stroke="none" stroke-width="0.00" />
<line x1="477.80" y1="69.70" x2="477.80" y2="73.20" stroke="#1e2a36" stroke-width="1.10" />
<line x1="475.10" y1="69.70" x2="480.50" y2="69.70" stroke="#1e2a36" stroke-width="1.10" />
<line x1="475.10" y1="73.20" x2="480.50" y2="73.20" stroke="#1e2a36" stroke-width="1.10" />
<line x1="494.80" y1="72.60" x2="494.80" y2="76.50" stroke="#1e2a36" stroke-width="1.10" />
<line x1="492.10" y1="72.60" x2="497.50" y2="72.60" stroke="#1e2a36" stroke-width="1.10" />
<line x1="492.10" y1="76.50" x2="497.50" y2="76.50" stroke="#1e2a36" stroke-width="1.10" />
<line x1="449.60" y1="22.30" x2="449.60" y2="102.80" stroke="#222" stroke-width="1.20" />
<line x1="449.00" y1="102.30" x2="505.20" y2="102.30" stroke="#222" stroke-width="1.20" />
<line x1="446.60" y1="91.20" x2="449.60" y2="91.20" stroke="#222" stroke-width="1.00" />
<text x="444.2" y="93.7" font-size="7.00" text-anchor="end" font-weight="normal" fill="#222" >30</text>
<line x1="446.60" y1="69.00" x2="449.60" y2="69.00" stroke="#222" stroke-width="1.00" />
<text x="444.2" y="71.5" font-size="7.00" text-anchor="end" font-weight="normal" fill="#222" >40</text>
<line x1="446.60" y1="46.80" x2="449.60" y2="46.80" stroke="#222" stroke-width="1.00" />
<text x="444.2" y="49.3" font-size="7.00" text-anchor="end" font-weight="normal" fill="#222" >50</text>
<line x1="446.60" y1="24.60" x2="449.60" y2="24.60" stroke="#222" stroke-width="1.00" />
<text x="444.2" y="27.1" font-size="7.00" text-anchor="end" font-weight="normal" fill="#222" >60</text>
<line x1="460.80" y1="102.30" x2="460.80" y2="105.20" stroke="#222" stroke-width="1.00" />
<line x1="477.80" y1="102.30" x2="477.80" y2="105.20" stroke="#222" stroke-width="1.00" />
<line x1="494.80" y1="102.30" x2="494.80" y2="105.20" stroke="#222" stroke-width="1.00" />
<text transform="translate(420.4,62) rotate(-90) scale(0.77,1)" font-size="7" font-weight="bold" text-anchor="middle" fill="#333">Mean protein quantity</text>
<text transform="translate(430.2,62) rotate(-90) scale(0.77,1)" font-size="7" font-weight="bold" text-anchor="middle" fill="#333">(pg/cell)</text>
<text transform="translate(463.6,110.6) rotate(-45)" font-size="6.2" text-anchor="end" fill="#222">BM Retics</text>
<text transform="translate(480.8,110.6) rotate(-45)" font-size="6.2" text-anchor="end" fill="#222">Circ Retics</text>
<text transform="translate(498.0,109.8) rotate(-45)" font-size="6.2" text-anchor="end" fill="#222">Circ Eryth</text>
<rect x="443.40" y="139.20" width="6.20" height="6.20" fill="#8a7cc6" />
<text x="453.0" y="144.6" font-size="6.25" text-anchor="start" font-weight="normal" fill="#222" >Globins</text>
<rect x="443.40" y="149.60" width="6.20" height="6.20" fill="#1d5090" />
<text x="453.0" y="155.0" font-size="6.25" text-anchor="start" font-weight="normal" fill="#222" >Other proteins</text>
<rect x="443.40" y="160.00" width="6.20" height="6.20" fill="#3b4a5c" />
<text x="453.0" y="165.4" font-size="6.25" text-anchor="start" font-weight="normal" fill="#222" >Ribosomal proteins</text>
<rect x="443.40" y="170.40" width="6.20" height="6.20" fill="#38a8dc" />
<text x="453.0" y="175.8" font-size="6.25" text-anchor="start" font-weight="normal" fill="#222" >Mitochondrial proteins</text>
<line x1="211.60" y1="333.30" x2="403.20" y2="333.30" stroke="#222" stroke-width="1.20" />
<rect x="213.80" y="236.60" width="191.20" height="31.80" fill="#eff3de" />
<rect x="407.70" y="236.60" width="5.70" height="31.80" fill="#cfdea8" />
<rect x="213.80" y="269.40" width="191.20" height="16.00" fill="#eff3de" />
<rect x="407.70" y="269.40" width="5.70" height="16.00" fill="#cfdea8" />
<rect x="213.80" y="286.40" width="191.20" height="15.20" fill="#e6ebf3" />
<rect x="407.70" y="286.40" width="5.70" height="15.20" fill="#1f4c9c" />
<rect x="213.80" y="302.60" width="191.20" height="15.20" fill="#e6ebf3" />
<rect x="407.70" y="302.60" width="5.70" height="15.20" fill="#1f4c9c" />
<rect x="213.80" y="318.80" width="191.20" height="14.50" fill="#e6ebf3" />
<rect x="407.70" y="318.80" width="5.70" height="14.50" fill="#1f4c9c" />
<rect x="213.80" y="252.40" width="191.20" height="0.80" fill="#ffffff" fill-opacity="0.6"/>
<text x="205.7" y="246.8" font-size="6.05" text-anchor="end" font-weight="normal" fill="#222" >Proteasome</text>
<line x1="208.60" y1="244.60" x2="211.60" y2="244.60" stroke="#222" stroke-width="0.90" />
<line x1="211.60" y1="244.60" x2="393.40" y2="244.60" stroke="#d9e3bb" stroke-width="1.00" />
<circle cx="393.40" cy="244.60" r="2.50" fill="#d8e5b2" stroke="#b8c98e" stroke-width="0.90" />
<text x="205.7" y="263.2" font-size="6.05" text-anchor="end" font-weight="normal" fill="#222" >Spinocerebellar ataxia</text>
<line x1="208.60" y1="260.96" x2="211.60" y2="260.96" stroke="#222" stroke-width="0.90" />
<line x1="211.60" y1="260.96" x2="227.20" y2="260.96" stroke="#4a62a0" stroke-width="1.00" />
<circle cx="227.20" cy="260.96" r="2.60" fill="#34528f" stroke="none" stroke-width="0.00" />
<text x="205.7" y="279.5" font-size="6.05" text-anchor="end" font-weight="normal" fill="#222" >Metabolic pathways</text>
<line x1="208.60" y1="277.32" x2="211.60" y2="277.32" stroke="#222" stroke-width="0.90" />
<line x1="211.60" y1="277.32" x2="292.80" y2="277.32" stroke="#d9e3bb" stroke-width="1.00" />
<circle cx="292.80" cy="277.32" r="5.80" fill="#d8e5b2" stroke="#b8c98e" stroke-width="0.90" />
<text x="205.7" y="295.9" font-size="6.05" text-anchor="end" font-weight="normal" fill="#222" >Pentose phosphate pathway</text>
<line x1="208.60" y1="293.68" x2="211.60" y2="293.68" stroke="#222" stroke-width="0.90" />
<line x1="211.60" y1="293.68" x2="247.30" y2="293.68" stroke="#4a62a0" stroke-width="1.00" />
<circle cx="247.30" cy="293.68" r="1.80" fill="#34528f" stroke="none" stroke-width="0.00" />
<text x="205.7" y="312.2" font-size="6.05" text-anchor="end" font-weight="normal" fill="#222" >Glycolysis/Gluconeogenesis</text>
<line x1="208.60" y1="310.04" x2="211.60" y2="310.04" stroke="#222" stroke-width="0.90" />
<line x1="211.60" y1="310.04" x2="237.40" y2="310.04" stroke="#4a62a0" stroke-width="1.00" />
<circle cx="237.40" cy="310.04" r="2.20" fill="#34528f" stroke="none" stroke-width="0.00" />
<text x="205.7" y="328.6" font-size="6.05" text-anchor="end" font-weight="normal" fill="#222" >Carbon metabolism</text>
<line x1="208.60" y1="326.40" x2="211.60" y2="326.40" stroke="#222" stroke-width="0.90" />
<line x1="211.60" y1="326.40" x2="221.90" y2="326.40" stroke="#4a62a0" stroke-width="1.00" />
<circle cx="221.90" cy="326.40" r="2.70" fill="#34528f" stroke="none" stroke-width="0.00" />
<line x1="211.60" y1="226.80" x2="211.60" y2="333.90" stroke="#222" stroke-width="1.20" />
<line x1="221.70" y1="333.30" x2="221.70" y2="336.30" stroke="#222" stroke-width="0.90" />
<text x="221.7" y="348.2" font-size="6.40" text-anchor="middle" font-weight="normal" fill="#222" >0.35</text>
<line x1="247.10" y1="333.30" x2="247.10" y2="336.30" stroke="#222" stroke-width="0.90" />
<text x="247.1" y="348.2" font-size="6.40" text-anchor="middle" font-weight="normal" fill="#222" >0.40</text>
<line x1="272.50" y1="333.30" x2="272.50" y2="336.30" stroke="#222" stroke-width="0.90" />
<text x="272.5" y="348.2" font-size="6.40" text-anchor="middle" font-weight="normal" fill="#222" >0.45</text>
<line x1="297.90" y1="333.30" x2="297.90" y2="336.30" stroke="#222" stroke-width="0.90" />
<text x="297.9" y="348.2" font-size="6.40" text-anchor="middle" font-weight="normal" fill="#222" >0.50</text>
<line x1="323.30" y1="333.30" x2="323.30" y2="336.30" stroke="#222" stroke-width="0.90" />
<text x="323.3" y="348.2" font-size="6.40" text-anchor="middle" font-weight="normal" fill="#222" >0.55</text>
<line x1="348.70" y1="333.30" x2="348.70" y2="336.30" stroke="#222" stroke-width="0.90" />
<text x="348.7" y="348.2" font-size="6.40" text-anchor="middle" font-weight="normal" fill="#222" >0.60</text>
<line x1="374.10" y1="333.30" x2="374.10" y2="336.30" stroke="#222" stroke-width="0.90" />
<text x="374.1" y="348.2" font-size="6.40" text-anchor="middle" font-weight="normal" fill="#222" >0.65</text>
<line x1="399.50" y1="333.30" x2="399.50" y2="336.30" stroke="#222" stroke-width="0.90" />
<text x="399.5" y="348.2" font-size="6.40" text-anchor="middle" font-weight="normal" fill="#222" >0.70</text>
<text transform="translate(308.0,358.5) scale(0.72,1)" font-size="7.3" font-weight="bold" text-anchor="middle" fill="#333">Signal</text>
<text x="307.7" y="222.4" font-size="8.20" text-anchor="middle" font-weight="normal" fill="#222" stroke="#222" stroke-width="0.15">KEGG Pathways enrichment</text>
<text transform="translate(421.9,295.2) rotate(-90)" font-size="6.4" text-anchor="middle" fill="#222">Groups at similarity 0.8</text>
<text x="426.6" y="231.8" font-size="6.20" text-anchor="start" font-weight="normal" fill="#222" >FDR</text>
<defs><linearGradient id="fdr" x1="0" y1="0" x2="0" y2="1"><stop offset="0" stop-color="#eaf4bc"/><stop offset="0.18" stop-color="#c7e9b4"/><stop offset="0.38" stop-color="#7fcdbb"/><stop offset="0.56" stop-color="#41b6c4"/><stop offset="0.72" stop-color="#1d91c0"/><stop offset="0.86" stop-color="#225ea8"/><stop offset="1" stop-color="#253494"/></linearGradient></defs>
<rect x="426.70" y="236.30" width="4.20" height="39.00" fill="url(#fdr)" />
<line x1="430.90" y1="239.40" x2="433.60" y2="239.40" stroke="#222" stroke-width="0.90" />
<text x="437.4" y="241.6" font-size="6.40" text-anchor="start" font-weight="normal" fill="#222" >5.6e-05</text>
<line x1="430.90" y1="246.10" x2="433.60" y2="246.10" stroke="#222" stroke-width="0.90" />
<text x="437.4" y="248.3" font-size="6.40" text-anchor="start" font-weight="normal" fill="#222" >1.2e-04</text>
<line x1="430.90" y1="252.80" x2="433.60" y2="252.80" stroke="#222" stroke-width="0.90" />
<text x="437.4" y="255.0" font-size="6.40" text-anchor="start" font-weight="normal" fill="#222" >2.5e-04</text>
<line x1="430.90" y1="259.30" x2="433.60" y2="259.30" stroke="#222" stroke-width="0.90" />
<text x="437.4" y="261.5" font-size="6.40" text-anchor="start" font-weight="normal" fill="#222" >5.6e-04</text>
<line x1="430.90" y1="265.70" x2="433.60" y2="265.70" stroke="#222" stroke-width="0.90" />
<text x="437.4" y="267.9" font-size="6.40" text-anchor="start" font-weight="normal" fill="#222" >1.2e-03</text>
<line x1="430.90" y1="272.20" x2="433.60" y2="272.20" stroke="#222" stroke-width="0.90" />
<text x="437.4" y="274.4" font-size="6.40" text-anchor="start" font-weight="normal" fill="#222" >2.5e-03</text>
<text x="426.3" y="289.0" font-size="6.40" text-anchor="start" font-weight="normal" fill="#222" >Gene count</text>
<circle cx="433.60" cy="294.80" r="1.60" fill="#d8e5b2" stroke="#b8c98e" stroke-width="0.70" />
<text x="442.4" y="297.1" font-size="6.40" text-anchor="start" font-weight="normal" fill="#222" >10</text>
<circle cx="433.60" cy="304.20" r="3.30" fill="#d8e5b2" stroke="#b8c98e" stroke-width="0.70" />
<text x="442.4" y="306.5" font-size="6.40" text-anchor="start" font-weight="normal" fill="#222" >25</text>
<circle cx="433.60" cy="315.70" r="4.70" fill="#d8e5b2" stroke="#b8c98e" stroke-width="0.70" />
<text x="442.4" y="318.0" font-size="6.40" text-anchor="start" font-weight="normal" fill="#222" >40</text>
<circle cx="433.60" cy="329.00" r="5.70" fill="#d8e5b2" stroke="#b8c98e" stroke-width="0.70" />
<text x="442.4" y="331.3" font-size="6.40" text-anchor="start" font-weight="normal" fill="#222" >55</text>
<line x1="211.70" y1="540.00" x2="386.80" y2="540.00" stroke="#222" stroke-width="1.20" />
<rect x="213.90" y="406.60" width="172.60" height="53.20" fill="#eff3de" />
<rect x="389.70" y="406.60" width="5.50" height="53.20" fill="#cfdea8" />
<rect x="213.90" y="460.80" width="172.60" height="12.80" fill="#e3edf7" />
<rect x="389.70" y="460.80" width="5.50" height="12.80" fill="#2a6fb0" />
<rect x="213.90" y="474.60" width="172.60" height="25.80" fill="#e6ebf3" />
<rect x="389.70" y="474.60" width="5.50" height="25.80" fill="#1f4c9c" />
<rect x="213.90" y="501.40" width="172.60" height="12.60" fill="#e3edf7" />
<rect x="389.70" y="501.40" width="5.50" height="12.60" fill="#2ca6d0" />
<rect x="213.90" y="515.00" width="172.60" height="12.40" fill="#e6ebf3" />
<rect x="389.70" y="515.00" width="5.50" height="12.40" fill="#1f4c9c" />
<rect x="213.90" y="528.40" width="172.60" height="11.60" fill="#e6ebf3" />
<rect x="389.70" y="528.40" width="5.50" height="11.60" fill="#1f4c9c" />
<text x="205.3" y="416.3" font-size="6.05" text-anchor="end" font-weight="normal" fill="#222" >Extracellular exosome</text>
<line x1="208.70" y1="414.10" x2="211.70" y2="414.10" stroke="#222" stroke-width="0.90" />
<line x1="211.70" y1="414.10" x2="377.10" y2="414.10" stroke="#d9e3bb" stroke-width="1.00" />
<circle cx="377.10" cy="414.10" r="5.20" fill="#d8e5b2" stroke="#b8c98e" stroke-width="0.90" />
<text x="205.3" y="429.7" font-size="6.05" text-anchor="end" font-weight="normal" fill="#222" >Extracellular space</text>
<line x1="208.70" y1="427.48" x2="211.70" y2="427.48" stroke="#222" stroke-width="0.90" />
<line x1="211.70" y1="427.48" x2="365.20" y2="427.48" stroke="#d9e3bb" stroke-width="1.00" />
<circle cx="365.20" cy="427.48" r="5.20" fill="#d8e5b2" stroke="#b8c98e" stroke-width="0.90" />
<text x="205.3" y="443.1" font-size="6.05" text-anchor="end" font-weight="normal" fill="#222" >Extracellular region</text>
<line x1="208.70" y1="440.86" x2="211.70" y2="440.86" stroke="#222" stroke-width="0.90" />
<line x1="211.70" y1="440.86" x2="352.70" y2="440.86" stroke="#d9e3bb" stroke-width="1.00" />
<circle cx="352.70" cy="440.86" r="5.00" fill="#d8e5b2" stroke="#b8c98e" stroke-width="0.90" />
<text x="205.3" y="456.4" font-size="6.05" text-anchor="end" font-weight="normal" fill="#222" >Vesicle</text>
<line x1="208.70" y1="454.24" x2="211.70" y2="454.24" stroke="#222" stroke-width="0.90" />
<line x1="211.70" y1="454.24" x2="287.80" y2="454.24" stroke="#8fcac6" stroke-width="1.00" />
<circle cx="287.80" cy="454.24" r="5.30" fill="#62bcc4" stroke="none" stroke-width="0.00" />
<text x="205.3" y="469.8" font-size="6.05" text-anchor="end" font-weight="normal" fill="#222" >Proteasome core complex</text>
<line x1="208.70" y1="467.62" x2="211.70" y2="467.62" stroke="#222" stroke-width="0.90" />
<line x1="211.70" y1="467.62" x2="343.70" y2="467.62" stroke="#4a62a0" stroke-width="1.00" />
<circle cx="343.70" cy="467.62" r="2.20" fill="#34528f" stroke="none" stroke-width="0.00" />
<text x="205.3" y="483.2" font-size="6.05" text-anchor="end" font-weight="normal" fill="#222" >Proteasome complex</text>
<line x1="208.70" y1="481.00" x2="211.70" y2="481.00" stroke="#222" stroke-width="0.90" />
<line x1="211.70" y1="481.00" x2="293.90" y2="481.00" stroke="#4a62a0" stroke-width="1.00" />
<circle cx="293.90" cy="481.00" r="2.20" fill="#34528f" stroke="none" stroke-width="0.00" />
<text x="205.3" y="496.6" font-size="6.05" text-anchor="end" font-weight="normal" fill="#222" >Endopeptidase complex</text>
<line x1="208.70" y1="494.38" x2="211.70" y2="494.38" stroke="#222" stroke-width="0.90" />
<line x1="211.70" y1="494.38" x2="282.20" y2="494.38" stroke="#4a62a0" stroke-width="1.00" />
<circle cx="282.20" cy="494.38" r="2.20" fill="#34528f" stroke="none" stroke-width="0.00" />
<text x="205.3" y="510.0" font-size="6.05" text-anchor="end" font-weight="normal" fill="#222" >Cytosol</text>
<line x1="208.70" y1="507.76" x2="211.70" y2="507.76" stroke="#222" stroke-width="0.90" />
<line x1="211.70" y1="507.76" x2="236.40" y2="507.76" stroke="#6fb8c8" stroke-width="1.00" />
<circle cx="236.40" cy="507.76" r="5.80" fill="#3fa6c6" stroke="none" stroke-width="0.00" />
<text x="205.3" y="523.3" font-size="6.05" text-anchor="end" font-weight="normal" fill="#222" >ficolin-1-rich granule lumen</text>
<line x1="208.70" y1="521.14" x2="211.70" y2="521.14" stroke="#222" stroke-width="0.90" />
<line x1="211.70" y1="521.14" x2="221.20" y2="521.14" stroke="#4a62a0" stroke-width="1.00" />
<circle cx="221.20" cy="521.14" r="2.00" fill="#34528f" stroke="none" stroke-width="0.00" />
<text x="205.3" y="533.3" font-size="6.05" text-anchor="end" font-weight="normal" fill="#222" >Proteasome core complex,</text>
<text x="205.3" y="540.4" font-size="6.05" text-anchor="end" font-weight="normal" fill="#222" >alpha-subunit complex</text>
<line x1="208.70" y1="534.52" x2="211.70" y2="534.52" stroke="#222" stroke-width="0.90" />
<line x1="211.70" y1="534.52" x2="221.20" y2="534.52" stroke="#4a62a0" stroke-width="1.00" />
<circle cx="221.20" cy="534.52" r="1.80" fill="#34528f" stroke="none" stroke-width="0.00" />
<line x1="211.70" y1="400.60" x2="211.70" y2="540.60" stroke="#222" stroke-width="1.20" />
<line x1="218.10" y1="540.00" x2="218.10" y2="543.00" stroke="#222" stroke-width="0.90" />
<text x="218.1" y="553.8" font-size="6.40" text-anchor="middle" font-weight="normal" fill="#222" >0.5</text>
<line x1="248.86" y1="540.00" x2="248.86" y2="543.00" stroke="#222" stroke-width="0.90" />
<text x="248.9" y="553.8" font-size="6.40" text-anchor="middle" font-weight="normal" fill="#222" >0.6</text>
<line x1="279.62" y1="540.00" x2="279.62" y2="543.00" stroke="#222" stroke-width="0.90" />
<text x="279.6" y="553.8" font-size="6.40" text-anchor="middle" font-weight="normal" fill="#222" >0.7</text>
<line x1="310.38" y1="540.00" x2="310.38" y2="543.00" stroke="#222" stroke-width="0.90" />
<text x="310.4" y="553.8" font-size="6.40" text-anchor="middle" font-weight="normal" fill="#222" >0.8</text>
<line x1="341.14" y1="540.00" x2="341.14" y2="543.00" stroke="#222" stroke-width="0.90" />
<text x="341.1" y="553.8" font-size="6.40" text-anchor="middle" font-weight="normal" fill="#222" >0.9</text>
<line x1="371.90" y1="540.00" x2="371.90" y2="543.00" stroke="#222" stroke-width="0.90" />
<text x="371.9" y="553.8" font-size="6.40" text-anchor="middle" font-weight="normal" fill="#222" >1.0</text>
<text transform="translate(297.2,565.7) scale(0.72,1)" font-size="7.3" font-weight="bold" text-anchor="middle" fill="#333">Signal</text>
<text x="298.9" y="394.9" font-size="9.20" text-anchor="middle" font-weight="normal" fill="#222" stroke="#222" stroke-width="0.15">Cellular Component (Gene Ontology) enrichment</text>
<text transform="translate(404.3,468.5) rotate(-90)" font-size="6.4" text-anchor="middle" fill="#222">Groups at similarity 0.8</text>
<text x="408.5" y="405.0" font-size="6.20" text-anchor="start" font-weight="normal" fill="#222" >FDR</text>
<rect x="408.60" y="410.00" width="4.20" height="38.90" fill="url(#fdr)" />
<line x1="412.80" y1="411.70" x2="415.50" y2="411.70" stroke="#222" stroke-width="0.90" />
<text x="418.8" y="413.9" font-size="6.40" text-anchor="start" font-weight="normal" fill="#222" >1.0e-21</text>
<line x1="412.80" y1="418.30" x2="415.50" y2="418.30" stroke="#222" stroke-width="0.90" />
<text x="418.8" y="420.5" font-size="6.40" text-anchor="start" font-weight="normal" fill="#222" >1.0e-18</text>
<line x1="412.80" y1="425.30" x2="415.50" y2="425.30" stroke="#222" stroke-width="0.90" />
<text x="418.8" y="427.5" font-size="6.40" text-anchor="start" font-weight="normal" fill="#222" >1.0e-14</text>
<line x1="412.80" y1="432.20" x2="415.50" y2="432.20" stroke="#222" stroke-width="0.90" />
<text x="418.8" y="434.4" font-size="6.40" text-anchor="start" font-weight="normal" fill="#222" >1.0e-10</text>
<line x1="412.80" y1="439.20" x2="415.50" y2="439.20" stroke="#222" stroke-width="0.90" />
<text x="418.8" y="441.4" font-size="6.40" text-anchor="start" font-weight="normal" fill="#222" >1.0e-06</text>
<line x1="412.80" y1="445.60" x2="415.50" y2="445.60" stroke="#222" stroke-width="0.90" />
<text x="418.8" y="447.8" font-size="6.40" text-anchor="start" font-weight="normal" fill="#222" >1.0e-02</text>
<text x="409.0" y="461.8" font-size="6.40" text-anchor="start" font-weight="normal" fill="#222" >Gene count</text>
<circle cx="415.60" cy="467.80" r="1.50" fill="#d8e5b2" stroke="#b8c98e" stroke-width="0.70" />
<text x="424.3" y="470.1" font-size="6.40" text-anchor="start" font-weight="normal" fill="#222" >10</text>
<circle cx="415.60" cy="476.70" r="3.00" fill="#d8e5b2" stroke="#b8c98e" stroke-width="0.70" />
<text x="424.3" y="479.0" font-size="6.40" text-anchor="start" font-weight="normal" fill="#222" >50</text>
<circle cx="415.60" cy="488.00" r="4.50" fill="#d8e5b2" stroke="#b8c98e" stroke-width="0.70" />
<text x="424.3" y="490.3" font-size="6.40" text-anchor="start" font-weight="normal" fill="#222" >100</text>
<circle cx="415.60" cy="501.70" r="5.50" fill="#d8e5b2" stroke="#b8c98e" stroke-width="0.70" />
<text x="424.3" y="504.0" font-size="6.40" text-anchor="start" font-weight="normal" fill="#222" >150</text></svg>
<div class="frame"></div>
</body></html>
